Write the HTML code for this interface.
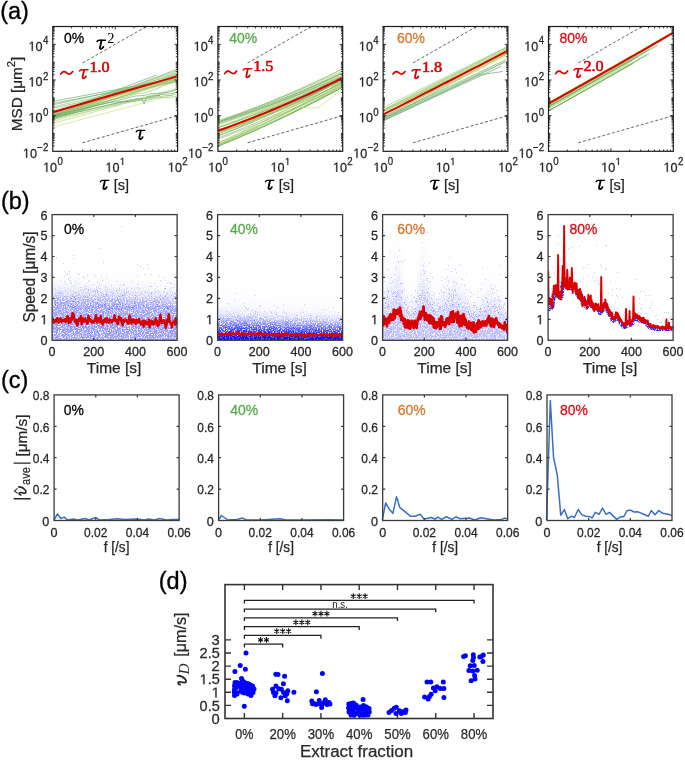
<!DOCTYPE html>
<html><head><meta charset="utf-8"><style>
html,body{margin:0;padding:0;background:#fff;}
svg{display:block;font-family:"Liberation Sans",sans-serif;}
</style></head><body>
<svg width="685" height="760" viewBox="0 0 685 760">
<rect width="685" height="760" fill="#fff"/>
<g style="will-change:transform">
<text x="0.2" y="19.2" font-size="23.5" fill="#000" stroke="#000" stroke-width="0.35">(a)</text>
<text x="0.9" y="208.8" font-size="23.5" fill="#000" stroke="#000" stroke-width="0.35">(b)</text>
<text x="0.9" y="388.1" font-size="23.5" fill="#000" stroke="#000" stroke-width="0.35">(c)</text>
<text x="158.8" y="588.7" font-size="23.5" fill="#000" stroke="#000" stroke-width="0.35">(d)</text>
<g clip-path="url(#ca0)">
<path d="M52.8 101.29 55.46 100.8 58.11 100.3 60.77 99.81 63.42 99.32 66.08 98.82 68.73 98.33 71.39 97.84 74.04 97.34 76.7 96.85 79.35 96.36 82.01 95.86 84.66 95.37 87.32 94.88 89.97 94.38 92.63 93.89 95.29 93.4 97.94 92.9 100.6 92.41 103.25 91.92 105.91 91.42 108.56 90.93 111.22 90.44 113.87 89.94 116.53 89.45 119.18 88.95 121.84 88.46 124.49 87.97 127.15 87.47 129.8 86.98 132.46 86.49 135.11 85.99 137.77 85.5 140.43 85.01 143.08 84.51 145.74 84.02 148.39 83.53 151.05 83.03 153.7 82.54 156.36 82.05 159.01 81.55 161.67 81.06 164.32 80.57 166.98 80.07 169.63 79.58 172.29 79.09 174.94 78.59 177.6 78.1" fill="none" stroke="#5da162" stroke-width="0.75" stroke-linejoin="round" opacity="0.85"/>
<path d="M52.8 103.29 55.46 102.8 58.11 102.3 60.77 101.81 63.42 101.32 66.08 100.82 68.73 100.33 71.39 99.84 74.04 99.34 76.7 98.85 79.35 98.36 82.01 97.86 84.66 97.37 87.32 96.88 89.97 96.38 92.63 95.89 95.29 95.4 97.94 94.9 100.6 94.41 103.25 93.92 105.91 93.42 108.56 92.93 111.22 92.44 113.87 91.94 116.53 91.45 119.18 90.95 121.84 90.46 124.49 89.97 127.15 89.47 129.8 88.98 132.46 88.49 135.11 87.99 137.77 87.5 140.43 87.01 143.08 86.51 145.74 86.02 148.39 85.53 151.05 85.03 153.7 84.54 156.36 84.05 159.01 83.55 161.67 83.06 164.32 82.57 166.98 82.07 169.63 81.58 172.29 81.09 174.94 80.59 177.6 80.1" fill="none" stroke="#70ac65" stroke-width="0.75" stroke-linejoin="round" opacity="0.85"/>
<path d="M52.8 104.79 55.46 104.2 58.11 103.61 60.77 103.02 63.42 102.43 66.08 101.85 68.73 101.26 71.39 100.67 74.04 100.08 76.7 99.49 79.35 98.9 82.01 98.31 84.66 97.72 87.32 97.13 89.97 96.54 92.63 95.95 95.29 95.36 97.94 94.77 100.6 94.19 103.25 93.6 105.91 93.01 108.56 92.42 111.22 91.83 113.87 91.24 116.53 90.65 119.18 90.06 121.84 89.47 124.49 88.88 127.15 88.29 129.8 87.7 132.46 87.12 135.11 86.53 137.77 85.94 140.43 85.35 143.08 84.76 145.74 84.17 148.39 83.58 151.05 82.99 153.7 82.4 156.36 81.81 159.01 81.22 161.67 80.63 164.32 80.05 166.98 79.46 169.63 78.87 172.29 78.28 174.94 77.69 177.6 77.1" fill="none" stroke="#66a663" stroke-width="0.75" stroke-linejoin="round" opacity="0.85"/>
<path d="M52.8 106.79 55.46 106.2 58.11 105.61 60.77 105.02 63.42 104.43 66.08 103.85 68.73 103.26 71.39 102.67 74.04 102.08 76.7 101.49 79.35 100.9 82.01 100.31 84.66 99.72 87.32 99.13 89.97 98.54 92.63 97.95 95.29 97.36 97.94 96.77 100.6 96.19 103.25 95.6 105.91 95.01 108.56 94.42 111.22 93.83 113.87 93.24 116.53 92.65 119.18 92.06 121.84 91.47 124.49 90.88 127.15 90.29 129.8 89.7 132.46 89.12 135.11 88.53 137.77 87.94 140.43 87.35 143.08 86.76 145.74 86.17 148.39 85.58 151.05 84.99 153.7 84.4 156.36 83.81 159.01 83.22 161.67 82.63 164.32 82.05 166.98 81.46 169.63 80.87 172.29 80.28 174.94 79.69 177.6 79.1" fill="none" stroke="#89bc69" stroke-width="0.75" stroke-linejoin="round" opacity="0.85"/>
<path d="M52.8 108.29 55.46 107.71 58.11 107.13 60.77 106.56 63.42 105.98 66.08 105.4 68.73 104.82 71.39 104.24 74.04 103.66 76.7 103.08 79.35 102.51 82.01 101.93 84.66 101.35 87.32 100.77 89.97 100.19 92.63 99.61 95.29 99.03 97.94 98.46 100.6 97.88 103.25 97.3 105.91 96.72 108.56 96.14 111.22 95.56 113.87 94.98 116.53 94.41 119.18 93.83 121.84 93.25 124.49 92.67 127.15 92.09 129.8 91.51 132.46 90.93 135.11 90.36 137.77 89.78 140.43 89.2 143.08 88.62 145.74 88.04 148.39 87.46 151.05 86.88 153.7 86.31 156.36 85.73 159.01 85.15 161.67 84.57 164.32 83.99 166.98 83.41 169.63 82.83 172.29 82.26 174.94 81.68 177.6 81.1" fill="none" stroke="#76b066" stroke-width="0.75" stroke-linejoin="round" opacity="0.85"/>
<path d="M52.8 114.29 55.01 113.46 57.22 112.62 59.43 111.78 61.64 110.95 63.85 110.11 66.06 109.28 68.27 108.44 70.48 107.6 72.69 106.77 74.91 105.93 77.12 105.1 79.33 104.26 81.54 103.42 83.75 102.59 85.96 101.75 88.17 100.92 90.38 100.08 92.59 99.24 94.8 98.41 97.01 97.57 99.22 96.74 101.43 95.9 103.64 95.07 105.85 94.23 108.06 93.39 110.27 92.56 112.48 91.72 114.7 90.89 116.91 90.05 119.12 89.21 121.33 88.38 123.54 87.54 125.75 86.71 127.96 85.87 130.17 85.03 132.38 84.2 134.59 83.36 136.8 82.53 139.01 81.69 141.22 80.86 143.43 80.02 145.64 79.18 147.85 78.35 150.06 77.51 152.27 76.68 154.49 75.84 156.7 75" fill="none" stroke="#5a9f61" stroke-width="0.75" stroke-linejoin="round" opacity="0.85"/>
<path d="M52.8 116.29 55.46 115.29 58.11 114.28 60.77 113.28 63.42 112.27 66.08 111.27 68.73 110.27 71.39 109.26 74.04 108.26 76.7 107.25 79.35 106.25 82.01 105.25 84.66 104.24 87.32 103.24 89.97 102.23 92.63 101.23 95.29 100.23 97.94 99.22 100.6 98.22 103.25 97.21 105.91 96.21 108.56 95.21 111.22 94.2 113.87 93.2 116.53 92.19 119.18 91.19 121.84 90.18 124.49 89.18 127.15 88.18 129.8 87.17 132.46 86.17 135.11 85.16 137.77 84.16 140.43 83.16 143.08 82.15 145.74 81.15 148.39 80.14 151.05 79.14 153.7 78.14 156.36 77.13 159.01 76.13 161.67 75.12 164.32 74.12 166.98 73.12 169.63 72.11 172.29 71.11 174.94 70.1 177.6 69.1" fill="none" stroke="#64a563" stroke-width="0.75" stroke-linejoin="round" opacity="0.85"/>
<path d="M52.8 115.29 55.46 114.34 58.11 113.39 60.77 112.44 63.42 111.49 66.08 110.54 68.73 109.59 71.39 108.63 74.04 107.68 76.7 106.73 79.35 105.78 82.01 104.83 84.66 103.88 87.32 102.93 89.97 101.98 92.63 101.03 95.29 100.08 97.94 99.13 100.6 98.18 103.25 97.22 105.91 96.27 108.56 95.32 111.22 94.37 113.87 93.42 116.53 92.47 119.18 91.52 121.84 90.57 124.49 89.62 127.15 88.67 129.8 87.72 132.46 86.76 135.11 85.81 137.77 84.86 140.43 83.91 143.08 82.96 145.74 82.01 148.39 81.06 151.05 80.11 153.7 79.16 156.36 78.21 159.01 77.26 161.67 76.3 164.32 75.35 166.98 74.4 169.63 73.45 172.29 72.5 174.94 71.55 177.6 70.6" fill="none" stroke="#70ac65" stroke-width="0.75" stroke-linejoin="round" opacity="0.85"/>
<path d="M52.8 117.29 55.46 116.33 58.11 115.37 60.77 114.41 63.42 113.44 66.08 112.48 68.73 111.52 71.39 110.56 74.04 109.6 76.7 108.64 79.35 107.68 82.01 106.71 84.66 105.75 87.32 104.79 89.97 103.83 92.63 102.87 95.29 101.91 97.94 100.95 100.6 99.98 103.25 99.02 105.91 98.06 108.56 97.1 111.22 96.14 113.87 95.18 116.53 94.21 119.18 93.25 121.84 92.29 124.49 91.33 127.15 90.37 129.8 89.41 132.46 88.45 135.11 87.48 137.77 86.52 140.43 85.56 143.08 84.6 145.74 83.64 148.39 82.68 151.05 81.71 153.7 80.75 156.36 79.79 159.01 78.83 161.67 77.87 164.32 76.91 166.98 75.95 169.63 74.98 172.29 74.02 174.94 73.06 177.6 72.1" fill="none" stroke="#83b868" stroke-width="0.75" stroke-linejoin="round" opacity="0.85"/>
<path d="M52.8 113.29 55.46 112.44 58.11 111.58 60.77 110.73 63.42 109.87 66.08 109.02 68.73 108.16 71.39 107.31 74.04 106.45 76.7 105.59 79.35 104.74 82.01 103.88 84.66 103.03 87.32 102.17 89.97 101.32 92.63 100.46 95.29 99.61 97.94 98.75 100.6 97.9 103.25 97.04 105.91 96.19 108.56 95.33 111.22 94.48 113.87 93.62 116.53 92.77 119.18 91.91 121.84 91.06 124.49 90.2 127.15 89.35 129.8 88.49 132.46 87.64 135.11 86.78 137.77 85.93 140.43 85.07 143.08 84.22 145.74 83.36 148.39 82.51 151.05 81.65 153.7 80.8 156.36 79.94 159.01 79.09 161.67 78.23 164.32 77.37 166.98 76.52 169.63 75.66 172.29 74.81 174.94 73.95 177.6 73.1" fill="none" stroke="#96c36b" stroke-width="0.75" stroke-linejoin="round" opacity="0.85"/>
<path d="M52.8 118.29 55.46 117.35 58.11 116.41 60.77 115.47 63.42 114.53 66.08 113.59 68.73 112.65 71.39 111.71 74.04 110.77 76.7 109.83 79.35 108.89 82.01 107.95 84.66 107.01 87.32 106.07 89.97 105.13 92.63 104.19 95.29 103.25 97.94 102.31 100.6 101.37 103.25 100.43 105.91 99.49 108.56 98.55 111.22 97.61 113.87 96.67 116.53 95.72 119.18 94.78 121.84 93.84 124.49 92.9 127.15 91.96 129.8 91.02 132.46 90.08 135.11 89.14 137.77 88.2 140.43 87.26 143.08 86.32 145.74 85.38 148.39 84.44 151.05 83.5 153.7 82.56 156.36 81.62 159.01 80.68 161.67 79.74 164.32 78.8 166.98 77.86 169.63 76.92 172.29 75.98 174.94 75.04 177.6 74.1" fill="none" stroke="#6aa964" stroke-width="0.75" stroke-linejoin="round" opacity="0.85"/>
<path d="M52.8 127.19 55.46 126.48 58.11 125.77 60.77 125.07 63.42 124.36 66.08 123.65 68.73 122.94 71.39 122.23 74.04 121.52 76.7 120.82 79.35 120.11 82.01 119.4 84.66 118.69 87.32 117.98 89.97 117.27 92.63 116.57 95.29 115.86 97.94 115.15 100.6 114.44 103.25 113.73 105.91 113.02 108.56 112.32 111.22 111.61 113.87 110.9 116.53 110.19 119.18 109.48 121.84 108.77 124.49 108.07 127.15 107.36 129.8 106.65 132.46 105.94 135.11 105.23 137.77 104.52 140.43 103.82 143.08 103.11 145.74 102.4 148.39 101.69 151.05 100.98 153.7 100.27 156.36 99.57 159.01 98.86 161.67 98.15 164.32 97.44 166.98 96.73 169.63 96.02 172.29 95.32 174.94 94.61 177.6 93.9" fill="none" stroke="#c4df72" stroke-width="0.75" stroke-linejoin="round" opacity="0.85"/>
<path d="M52.8 123.29 55.46 122.56 58.11 121.84 60.77 121.11 63.42 120.38 66.08 119.65 68.73 118.93 71.39 118.2 74.04 117.47 76.7 116.74 79.35 116.02 82.01 115.29 84.66 114.56 87.32 113.83 89.97 113.11 92.63 112.38 95.29 111.65 97.94 110.92 100.6 110.2 103.25 109.47 105.91 108.74 108.56 108.01 111.22 107.29 113.87 106.56 116.53 105.83 119.18 105.1 121.84 104.38 124.49 103.65 127.15 102.92 129.8 102.19 132.46 101.47 135.11 100.74 137.77 100.01 140.43 99.28 143.08 98.56 145.74 97.83 148.39 97.1 151.05 96.37 153.7 95.65 156.36 94.92 159.01 94.19 161.67 93.46 164.32 92.74 166.98 92.01 169.63 91.28 172.29 90.55 174.94 89.83 177.6 89.1" fill="none" stroke="#afd26f" stroke-width="0.75" stroke-linejoin="round" opacity="0.85"/>
<path d="M52.8 121.29 55.46 120.58 58.11 119.88 60.77 119.17 63.42 118.47 66.08 117.76 68.73 117.05 71.39 116.35 74.04 115.64 76.7 114.94 79.35 114.23 82.01 113.52 84.66 112.82 87.32 112.11 89.97 111.4 92.63 110.7 95.29 109.99 97.94 109.29 100.6 108.58 103.25 107.87 105.91 107.17 108.56 106.46 111.22 105.75 113.87 105.05 116.53 104.34 119.18 103.64 121.84 102.93 124.49 102.22 127.15 101.52 129.8 100.81 132.46 100.1 135.11 99.4 137.77 98.69 140.43 97.99 143.08 97.28 145.74 96.57 148.39 95.87 151.05 95.16 153.7 94.46 156.36 93.75 159.01 93.04 161.67 92.34 164.32 91.63 166.98 90.92 169.63 90.22 172.29 89.51 174.94 88.81 177.6 88.1" fill="none" stroke="#bbda71" stroke-width="0.75" stroke-linejoin="round" opacity="0.85"/>
<path d="M52.8 118.64 55.46 117.79 58.11 116.94 60.77 116.08 63.42 115.23 66.08 114.38 68.73 113.53 71.39 112.67 74.04 111.82 76.7 110.97 79.35 110.12 82.01 109.27 84.66 108.41 87.32 107.56 89.97 106.71 92.63 105.86 95.29 105 97.94 104.15 100.6 103.3 103.25 102.45 105.91 101.6 108.56 100.74 111.22 99.89 113.87 99.04 116.53 98.19 119.18 97.33 121.84 96.48 124.49 95.63 127.15 94.78 129.8 93.92 132.46 93.07 135.11 92.22 137.77 91.37 140.43 90.52 143.08 89.66 145.74 88.81 148.39 87.96 151.05 87.11 153.7 86.25 156.36 85.4 159.01 84.55 161.67 83.7 164.32 82.84 166.98 81.99 169.63 81.14 172.29 80.29 174.94 79.44 177.6 78.58" fill="none" stroke="#97c46b" stroke-width="0.75" stroke-linejoin="round" opacity="0.85"/>
<path d="M52.8 110.72 55.46 109.93 58.11 109.15 60.77 108.36 63.42 107.57 66.08 106.78 68.73 106 71.39 105.21 74.04 104.42 76.7 103.63 79.35 102.84 82.01 102.06 84.66 101.27 87.32 100.48 89.97 99.69 92.63 98.91 95.29 98.12 97.94 97.33 100.6 96.54 103.25 95.76 105.91 94.97 108.56 94.18 111.22 93.39 113.87 92.61 116.53 91.82 119.18 91.03 121.84 90.24 124.49 89.46 127.15 88.67 129.8 87.88 132.46 87.09 135.11 86.31 137.77 85.52 140.43 84.73 143.08 83.94 145.74 83.16 148.39 82.37 151.05 81.58 153.7 80.79 156.36 80.01 159.01 79.22 161.67 78.43 164.32 77.64 166.98 76.86 169.63 76.07 172.29 75.28 174.94 74.49 177.6 73.71" fill="none" stroke="#acd16e" stroke-width="0.75" stroke-linejoin="round" opacity="0.85"/>
<path d="M52.8 118.19 55.46 117.37 58.11 116.54 60.77 115.71 63.42 114.88 66.08 114.05 68.73 113.23 71.39 112.4 74.04 111.57 76.7 110.74 79.35 109.91 82.01 109.09 84.66 108.26 87.32 107.43 89.97 106.6 92.63 105.77 95.29 104.95 97.94 104.12 100.6 103.29 103.25 102.46 105.91 101.63 108.56 100.81 111.22 99.98 113.87 99.15 116.53 98.32 119.18 97.49 121.84 96.67 124.49 95.84 127.15 95.01 129.8 94.18 132.46 93.36 135.11 92.53 137.77 91.7 140.43 90.87 143.08 90.04 145.74 89.22 148.39 88.39 151.05 87.56 153.7 86.73 156.36 85.9 159.01 85.08 161.67 84.25 164.32 83.42 166.98 82.59 169.63 81.76 172.29 80.94 174.94 80.11 177.6 79.28" fill="none" stroke="#b2d46f" stroke-width="0.75" stroke-linejoin="round" opacity="0.85"/>
<path d="M52.8 112.19 55.46 111.52 58.11 110.84 60.77 110.17 63.42 109.5 66.08 108.83 68.73 108.15 71.39 107.48 74.04 106.81 76.7 106.13 79.35 105.46 82.01 104.79 84.66 104.11 87.32 103.44 89.97 102.77 92.63 102.09 95.29 101.42 97.94 100.75 100.6 100.08 103.25 99.4 105.91 98.73 108.56 98.06 111.22 97.38 113.87 96.71 116.53 96.04 119.18 95.36 121.84 94.69 124.49 94.02 127.15 93.34 129.8 92.67 132.46 92 135.11 91.32 137.77 90.65 140.43 89.98 143.08 89.31 145.74 88.63 148.39 87.96 151.05 87.29 153.7 86.61 156.36 85.94 159.01 85.27 161.67 84.59 164.32 83.92 166.98 83.25 169.63 82.57 172.29 81.9 174.94 81.23 177.6 80.56" fill="none" stroke="#96c46b" stroke-width="0.75" stroke-linejoin="round" opacity="0.85"/>
<path d="M52.8 116.58 55.46 115.82 58.11 115.07 60.77 114.31 63.42 113.55 66.08 112.79 68.73 112.03 71.39 111.27 74.04 110.51 76.7 109.75 79.35 108.99 82.01 108.23 84.66 107.47 87.32 106.71 89.97 105.95 92.63 105.19 95.29 104.43 97.94 103.68 100.6 102.92 103.25 102.16 105.91 101.4 108.56 100.64 111.22 99.88 113.87 99.12 116.53 98.36 119.18 97.6 121.84 96.84 124.49 96.08 127.15 95.32 129.8 94.56 132.46 93.8 135.11 93.04 137.77 92.29 140.43 91.53 143.08 90.77 145.74 90.01 148.39 89.25 151.05 88.49 153.7 87.73 156.36 86.97 159.01 86.21 161.67 85.45 164.32 84.69 166.98 83.93 169.63 83.17 172.29 82.41 174.94 81.65 177.6 80.9" fill="none" stroke="#acd16e" stroke-width="0.75" stroke-linejoin="round" opacity="0.85"/>
<path d="M52.8 115.64 55.46 114.79 58.11 113.94 60.77 113.1 63.42 112.25 66.08 111.4 68.73 110.55 71.39 109.7 74.04 108.85 76.7 108 79.35 107.15 82.01 106.3 84.66 105.45 87.32 104.6 89.97 103.75 92.63 102.9 95.29 102.05 97.94 101.21 100.6 100.36 103.25 99.51 105.91 98.66 108.56 97.81 111.22 96.96 113.87 96.11 116.53 95.26 119.18 94.41 121.84 93.56 124.49 92.71 127.15 91.86 129.8 91.01 132.46 90.16 135.11 89.32 137.77 88.47 140.43 87.62 143.08 86.77 145.74 85.92 148.39 85.07 151.05 84.22 153.7 83.37 156.36 82.52 159.01 81.67 161.67 80.82 164.32 79.97 166.98 79.12 169.63 78.27 172.29 77.43 174.94 76.58 177.6 75.73" fill="none" stroke="#a5cd6d" stroke-width="0.75" stroke-linejoin="round" opacity="0.85"/>
<path d="M52.8 118 55.46 117.06 58.11 116.13 60.77 115.19 63.42 114.25 66.08 113.31 68.73 112.38 71.39 111.44 74.04 110.5 76.7 109.57 79.35 108.63 82.01 107.69 84.66 106.75 87.32 105.82 89.97 104.88 92.63 103.94 95.29 103.01 97.94 102.07 100.6 101.13 103.25 100.19 105.91 99.26 108.56 98.32 111.22 97.38 113.87 96.44 116.53 95.51 119.18 94.57 121.84 93.63 124.49 92.7 127.15 91.76 129.8 90.82 132.46 89.88 135.11 88.95 137.77 88.01 140.43 87.07 143.08 86.13 145.74 85.2 148.39 84.26 151.05 83.32 153.7 82.39 156.36 81.45 159.01 80.51 161.67 79.57 164.32 78.64 166.98 77.7 169.63 76.76 172.29 75.82 174.94 74.89 177.6 73.95" fill="none" stroke="#c7e172" stroke-width="0.75" stroke-linejoin="round" opacity="0.85"/>
<path d="M52.8 120.08 55.46 119.18 58.11 118.29 60.77 117.39 63.42 116.49 66.08 115.6 68.73 114.7 71.39 113.81 74.04 112.91 76.7 112.01 79.35 111.12 82.01 110.22 84.66 109.33 87.32 108.43 89.97 107.54 92.63 106.64 95.29 105.74 97.94 104.85 100.6 103.95 103.25 103.06 105.91 102.16 108.56 101.26 111.22 100.37 113.87 99.47 116.53 98.58 119.18 97.68 121.84 96.79 124.49 95.89 127.15 94.99 129.8 94.1 132.46 93.2 135.11 92.31 137.77 91.41 140.43 90.51 143.08 89.62 145.74 88.72 148.39 87.83 151.05 86.93 153.7 86.04 156.36 85.14 159.01 84.24 161.67 83.35 164.32 82.45 166.98 81.56 169.63 80.66 172.29 79.76 174.94 78.87 177.6 77.97" fill="none" stroke="#99c56b" stroke-width="0.75" stroke-linejoin="round" opacity="0.85"/>
<path d="M52.8 118.91 55.46 118.02 58.11 117.12 60.77 116.23 63.42 115.34 66.08 114.44 68.73 113.55 71.39 112.65 74.04 111.76 76.7 110.86 79.35 109.97 82.01 109.08 84.66 108.18 87.32 107.29 89.97 106.39 92.63 105.5 95.29 104.6 97.94 103.71 100.6 102.81 103.25 101.92 105.91 101.03 108.56 100.13 111.22 99.24 113.87 98.34 116.53 97.45 119.18 96.55 121.84 95.66 124.49 94.77 127.15 93.87 129.8 92.98 132.46 92.08 135.11 91.19 137.77 90.29 140.43 89.4 143.08 88.51 145.74 87.61 148.39 86.72 151.05 85.82 153.7 84.93 156.36 84.03 159.01 83.14 161.67 82.25 164.32 81.35 166.98 80.46 169.63 79.56 172.29 78.67 174.94 77.77 177.6 76.88" fill="none" stroke="#b2d56f" stroke-width="0.75" stroke-linejoin="round" opacity="0.85"/>
<path d="M52.8 114.38 55.46 113.59 58.11 112.8 60.77 112.01 63.42 111.22 66.08 110.43 68.73 109.64 71.39 108.85 74.04 108.06 76.7 107.27 79.35 106.48 82.01 105.69 84.66 104.9 87.32 104.11 89.97 103.32 92.63 102.53 95.29 101.74 97.94 100.95 100.6 100.16 103.25 99.37 105.91 98.59 108.56 97.8 111.22 97.01 113.87 96.22 116.53 95.43 119.18 94.64 121.84 93.85 124.49 93.06 127.15 92.27 129.8 91.48 132.46 90.69 135.11 89.9 137.77 89.11 140.43 88.32 143.08 87.53 145.74 86.74 148.39 85.95 151.05 85.16 153.7 84.37 156.36 83.58 159.01 82.79 161.67 82 164.32 81.22 166.98 80.43 169.63 79.64 172.29 78.85 174.94 78.06 177.6 77.27" fill="none" stroke="#8cbd69" stroke-width="0.75" stroke-linejoin="round" opacity="0.85"/>
<path d="M52.8 116.55 55.46 115.66 58.11 114.78 60.77 113.9 63.42 113.02 66.08 112.14 68.73 111.26 71.39 110.38 74.04 109.5 76.7 108.61 79.35 107.73 82.01 106.85 84.66 105.97 87.32 105.09 89.97 104.21 92.63 103.33 95.29 102.44 97.94 101.56 100.6 100.68 103.25 99.8 105.91 98.92 108.56 98.04 111.22 97.16 113.87 96.27 116.53 95.39 119.18 94.51 121.84 93.63 124.49 92.75 127.15 91.87 129.8 90.99 132.46 90.1 135.11 89.22 137.77 88.34 140.43 87.46 143.08 86.58 145.74 85.7 148.39 84.82 151.05 83.94 153.7 83.05 156.36 82.17 159.01 81.29 161.67 80.41 164.32 79.53 166.98 78.65 169.63 77.77 172.29 76.88 174.94 76 177.6 75.12" fill="none" stroke="#96c36b" stroke-width="0.75" stroke-linejoin="round" opacity="0.85"/>
<path d="M52.8 116.79 55.46 116.12 58.11 115.44 60.77 114.77 63.42 114.09 66.08 113.42 68.73 112.75 71.39 112.07 74.04 111.4 76.7 110.72 79.35 110.05 82.01 109.37 84.66 108.7 87.32 108.03 89.97 107.35 92.63 106.68 95.29 106 97.94 105.33 100.6 104.65 103.25 103.98 105.91 103.31 108.56 102.63 111.22 101.96 113.87 101.28 116.53 100.61 119.18 99.93 121.84 99.32 124.49 98.84 127.15 98.15 129.8 97.43 132.46 96.55 135.11 96.09 137.77 95.77 140.43 95.8 143.08 95.38 145.74 94.99 148.39 94.25 151.05 93.72 153.7 93.42 156.36 93.49 159.01 93.35 161.67 93.06 164.32 92.65 166.98 92.36 169.63 91.87 172.29 91.06 174.94 90.32 177.6 88.37" fill="none" stroke="#64a563" stroke-width="0.75" stroke-linejoin="round" opacity="0.85"/>
<path d="M52.8 115.29 55.08 114.78 57.37 114.26 59.65 113.74 61.93 113.23 64.22 112.71 66.5 112.2 68.79 111.68 71.07 111.16 73.35 110.65 75.64 110.13 77.92 109.62 80.2 109.1 82.49 108.58 84.77 108.07 87.05 107.55 89.34 107.04 91.62 106.52 93.9 106.01 96.19 105.49 98.47 104.97 100.76 104.46 103.04 103.94 105.32 103.43 107.61 102.91 109.89 102.51 112.17 102.21 114.46 101.92 116.74 101.87 119.02 101.73 121.31 101.5 123.59 101.18 125.87 100.8 128.16 100.39 130.44 99.78 132.73 99.29 135.01 99.04 137.29 98.92 139.58 98.87 141.86 98.38 144.14 103.8 146.43 97.1 148.71 96.67 150.99 96.18 153.28 95.85 155.56 95.67 157.84 95.65 160.13 95.17" fill="none" stroke="#5da162" stroke-width="0.75" stroke-linejoin="round" opacity="0.85"/>
<path d="M52.8 118.29 55.39 117.66 57.98 117.04 60.57 116.41 63.16 115.79 65.74 115.16 68.33 114.53 70.92 113.91 73.51 113.28 76.1 112.65 78.69 112.03 81.28 111.4 83.87 110.78 86.46 110.15 89.05 109.52 91.63 108.9 94.22 108.27 96.81 107.64 99.4 107.02 101.99 106.39 104.58 105.76 107.17 105.14 109.76 104.51 112.35 103.89 114.93 103.26 117.52 102.63 120.11 102.01 122.7 101.9 125.29 101.72 127.88 101.17 130.47 100.96 133.06 101.05 135.65 101.07 138.23 100.78 140.82 100.49 143.41 100.5 146 100.33 148.59 99.92 151.18 99.01 153.77 98.13 156.36 97.24 158.95 96.84 161.54 96.44 164.12 95.96 166.71 95.62 169.3 95.49 171.89 95.35 174.48 92.88" fill="none" stroke="#76b066" stroke-width="0.75" stroke-linejoin="round" opacity="0.85"/>
<path d="M52.8 114.29 55.46 113.65 58.11 113.01 60.77 112.36 63.42 111.72 66.08 111.08 68.73 110.44 71.39 109.79 74.04 109.15 76.7 108.51 79.35 107.87 82.01 107.22 84.66 106.58 87.32 105.94 89.97 105.3 92.63 104.66 95.29 104.01 97.94 103.37 100.6 102.73 103.25 102.09 105.91 101.44 108.56 100.8 111.22 100.16 113.87 99.52 116.53 98.87 119.18 98.23 121.84 97.73 124.49 97.54 127.15 96.64 129.8 95.86 132.46 95.07 135.11 94.14 137.77 93.72 140.43 93.28 143.08 93.11 145.74 92.57 148.39 91.72 151.05 90.91 153.7 89.73 156.36 88.8 159.01 87.81 161.67 86.61 164.32 85.44 166.98 84.4 169.63 83.63 172.29 82.98 174.94 82.24 177.6 84.23" fill="none" stroke="#8fbf6a" stroke-width="0.75" stroke-linejoin="round" opacity="0.85"/>
<path d="M52.8 117.29 55.46 116.71 58.11 116.13 60.77 115.56 63.42 114.98 66.08 114.4 68.73 113.82 71.39 113.24 74.04 112.66 76.7 112.08 79.35 111.51 82.01 110.93 84.66 110.35 87.32 109.77 89.97 109.19 92.63 108.61 95.29 108.03 97.94 107.46 100.6 106.88 103.25 106.3 105.91 105.72 108.56 105.14 111.22 104.56 113.87 103.98 116.53 103.41 119.18 102.83 121.84 102.29 124.49 101.78 127.15 101.59 129.8 101.4 132.46 101.06 135.11 100.26 137.77 99.46 140.43 98.93 143.08 98.39 145.74 98.08 148.39 97.71 151.05 97.31 153.7 96.58 156.36 95.89 159.01 95.16 161.67 94.54 164.32 94.2 166.98 94 169.63 93.81 172.29 93.33 174.94 92.73 177.6 90.66" fill="none" stroke="#579d61" stroke-width="0.75" stroke-linejoin="round" opacity="0.85"/>
<path d="M52.8 119.29 55.46 118.69 58.11 118.09 60.77 117.49 63.42 116.89 66.08 116.29 68.73 115.69 71.39 115.09 74.04 114.49 76.7 113.89 79.35 113.29 82.01 112.69 84.66 112.09 87.32 111.49 89.97 110.89 92.63 110.29 95.29 109.69 97.94 109.09 100.6 108.49 103.25 107.89 105.91 107.29 108.56 106.69 111.22 106.09 113.87 105.5 116.53 104.9 119.18 104.3 121.84 103.27 124.49 102.78 127.15 102.36 129.8 101.69 132.46 100.89 135.11 99.98 137.77 99.5 140.43 99.22 143.08 98.99 145.74 98.82 148.39 98.44 151.05 98.21 153.7 98 156.36 97.98 159.01 97.87 161.67 97.53 164.32 97.55 166.98 97.57 169.63 97.64 172.29 97.04 174.94 96.58 177.6 95.51" fill="none" stroke="#96c36b" stroke-width="0.75" stroke-linejoin="round" opacity="0.85"/>
<path d="M52.8 112.29 57.1 111.04 61.41 109.8 65.71 108.55 70.01 107.3 74.32 106.05 78.62 104.8 82.92 103.56 87.23 102.31 91.53 101.06 95.83 99.81 100.14 98.56 104.44 97.32 108.74 96.07 113.05 94.82 117.35 93.57 121.66 92.32 125.96 91.08 130.26 89.83 134.57 88.58 138.87 87.33 143.17 86.08 147.48 84.84 151.78 83.59 156.08 82.34 160.39 81.09 164.69 79.84 168.99 78.6 173.3 77.35 177.6 76.1" fill="none" stroke="#d80000" stroke-width="2" stroke-linejoin="round" />
<line x1="82.57" y1="62.97" x2="177.6" y2="8.67" stroke="#555" stroke-width="0.9" stroke-dasharray="3 2"/>
<line x1="82.57" y1="142.79" x2="177.6" y2="115.64" stroke="#555" stroke-width="0.9" stroke-dasharray="3 2"/>
</g>
<rect x="52.8" y="26.5" width="124.8" height="124.8" fill="none" stroke="#1c1c1c" stroke-width="1.2"/>
<path d="M71.58 151.3v-1.8M71.58 26.5v1.8M82.57 151.3v-1.8M82.57 26.5v1.8M90.37 151.3v-1.8M90.37 26.5v1.8M96.42 151.3v-1.8M96.42 26.5v1.8M101.36 151.3v-1.8M101.36 26.5v1.8M105.53 151.3v-1.8M105.53 26.5v1.8M109.15 151.3v-1.8M109.15 26.5v1.8M112.34 151.3v-1.8M112.34 26.5v1.8M115.2 151.3v-3M115.2 26.5v3M133.98 151.3v-1.8M133.98 26.5v1.8M144.97 151.3v-1.8M144.97 26.5v1.8M152.77 151.3v-1.8M152.77 26.5v1.8M158.82 151.3v-1.8M158.82 26.5v1.8M163.76 151.3v-1.8M163.76 26.5v1.8M167.93 151.3v-1.8M167.93 26.5v1.8M171.55 151.3v-1.8M171.55 26.5v1.8M174.74 151.3v-1.8M174.74 26.5v1.8M52.8 145.93h1.8M177.6 145.93h-1.8M52.8 142.79h1.8M177.6 142.79h-1.8M52.8 140.57h1.8M177.6 140.57h-1.8M52.8 138.84h1.8M177.6 138.84h-1.8M52.8 137.43h1.8M177.6 137.43h-1.8M52.8 136.23h1.8M177.6 136.23h-1.8M52.8 135.2h1.8M177.6 135.2h-1.8M52.8 134.29h1.8M177.6 134.29h-1.8M52.8 133.47h1.8M177.6 133.47h-1.8M52.8 128.1h1.8M177.6 128.1h-1.8M52.8 124.97h1.8M177.6 124.97h-1.8M52.8 122.74h1.8M177.6 122.74h-1.8M52.8 121.01h1.8M177.6 121.01h-1.8M52.8 119.6h1.8M177.6 119.6h-1.8M52.8 118.4h1.8M177.6 118.4h-1.8M52.8 117.37h1.8M177.6 117.37h-1.8M52.8 116.46h1.8M177.6 116.46h-1.8M52.8 115.64h3M177.6 115.64h-3M52.8 110.28h1.8M177.6 110.28h-1.8M52.8 107.14h1.8M177.6 107.14h-1.8M52.8 104.91h1.8M177.6 104.91h-1.8M52.8 103.18h1.8M177.6 103.18h-1.8M52.8 101.77h1.8M177.6 101.77h-1.8M52.8 100.58h1.8M177.6 100.58h-1.8M52.8 99.54h1.8M177.6 99.54h-1.8M52.8 98.63h1.8M177.6 98.63h-1.8M52.8 97.81h1.8M177.6 97.81h-1.8M52.8 92.45h1.8M177.6 92.45h-1.8M52.8 89.31h1.8M177.6 89.31h-1.8M52.8 87.08h1.8M177.6 87.08h-1.8M52.8 85.35h1.8M177.6 85.35h-1.8M52.8 83.94h1.8M177.6 83.94h-1.8M52.8 82.75h1.8M177.6 82.75h-1.8M52.8 81.71h1.8M177.6 81.71h-1.8M52.8 80.8h1.8M177.6 80.8h-1.8M52.8 79.99h3M177.6 79.99h-3M52.8 74.62h1.8M177.6 74.62h-1.8M52.8 71.48h1.8M177.6 71.48h-1.8M52.8 69.25h1.8M177.6 69.25h-1.8M52.8 67.52h1.8M177.6 67.52h-1.8M52.8 66.11h1.8M177.6 66.11h-1.8M52.8 64.92h1.8M177.6 64.92h-1.8M52.8 63.88h1.8M177.6 63.88h-1.8M52.8 62.97h1.8M177.6 62.97h-1.8M52.8 62.16h1.8M177.6 62.16h-1.8M52.8 56.79h1.8M177.6 56.79h-1.8M52.8 53.65h1.8M177.6 53.65h-1.8M52.8 51.42h1.8M177.6 51.42h-1.8M52.8 49.7h1.8M177.6 49.7h-1.8M52.8 48.28h1.8M177.6 48.28h-1.8M52.8 47.09h1.8M177.6 47.09h-1.8M52.8 46.06h1.8M177.6 46.06h-1.8M52.8 45.14h1.8M177.6 45.14h-1.8M52.8 44.33h3M177.6 44.33h-3M52.8 38.96h1.8M177.6 38.96h-1.8M52.8 35.82h1.8M177.6 35.82h-1.8M52.8 33.59h1.8M177.6 33.59h-1.8M52.8 31.87h1.8M177.6 31.87h-1.8M52.8 30.46h1.8M177.6 30.46h-1.8M52.8 29.26h1.8M177.6 29.26h-1.8M52.8 28.23h1.8M177.6 28.23h-1.8M52.8 27.32h1.8M177.6 27.32h-1.8" stroke="#1c1c1c" stroke-width="0.9" fill="none"/>
<path d="M26.08 157.8 27.19 157.8 27.19 148.65 26.17 148.65 24.11 150.14 24.11 151.24 26.08 149.77z" fill="#262626" stroke="#262626" stroke-width="0.28" stroke-linejoin="round"/><text x="29.93" y="157.8" font-size="13.3" fill="#262626" stroke="#262626" stroke-width="0.28" textLength="7.03" lengthAdjust="spacingAndGlyphs" >0</text>
<text x="37.35" y="151.2" font-size="10.2" fill="#262626" stroke="#262626" stroke-width="0.28" textLength="11.05" lengthAdjust="spacingAndGlyphs" >−2</text>
<path d="M31.73 122.14 32.85 122.14 32.85 112.99 31.83 112.99 29.77 114.48 29.77 115.58 31.73 114.11z" fill="#262626" stroke="#262626" stroke-width="0.28" stroke-linejoin="round"/><text x="35.58" y="122.14" font-size="13.3" fill="#262626" stroke="#262626" stroke-width="0.28" textLength="7.03" lengthAdjust="spacingAndGlyphs" >0</text>
<text x="43.01" y="115.54" font-size="10.2" fill="#262626" stroke="#262626" stroke-width="0.28" textLength="5.39" lengthAdjust="spacingAndGlyphs" >0</text>
<path d="M31.73 86.49 32.85 86.49 32.85 77.34 31.83 77.34 29.77 78.82 29.77 79.93 31.73 78.45z" fill="#262626" stroke="#262626" stroke-width="0.28" stroke-linejoin="round"/><text x="35.58" y="86.49" font-size="13.3" fill="#262626" stroke="#262626" stroke-width="0.28" textLength="7.03" lengthAdjust="spacingAndGlyphs" >0</text>
<text x="43.01" y="79.89" font-size="10.2" fill="#262626" stroke="#262626" stroke-width="0.28" textLength="5.39" lengthAdjust="spacingAndGlyphs" >2</text>
<path d="M31.73 50.83 32.85 50.83 32.85 41.68 31.83 41.68 29.77 43.17 29.77 44.27 31.73 42.8z" fill="#262626" stroke="#262626" stroke-width="0.28" stroke-linejoin="round"/><text x="35.58" y="50.83" font-size="13.3" fill="#262626" stroke="#262626" stroke-width="0.28" textLength="7.03" lengthAdjust="spacingAndGlyphs" >0</text>
<text x="43.01" y="44.23" font-size="10.2" fill="#262626" stroke="#262626" stroke-width="0.28" textLength="5.39" lengthAdjust="spacingAndGlyphs" >4</text>
<path d="M46.26 171.8 47.37 171.8 47.37 162.65 46.35 162.65 44.29 164.14 44.29 165.24 46.26 163.77z" fill="#262626" stroke="#262626" stroke-width="0.28" stroke-linejoin="round"/><text x="50.11" y="171.8" font-size="13.3" fill="#262626" stroke="#262626" stroke-width="0.28" textLength="7.03" lengthAdjust="spacingAndGlyphs" >0</text>
<text x="57.43" y="164.9" font-size="10.2" fill="#262626" stroke="#262626" stroke-width="0.28" textLength="5.39" lengthAdjust="spacingAndGlyphs" >0</text>
<path d="M108.66 171.8 109.77 171.8 109.77 162.65 108.75 162.65 106.69 164.14 106.69 165.24 108.66 163.77z" fill="#262626" stroke="#262626" stroke-width="0.28" stroke-linejoin="round"/><text x="112.51" y="171.8" font-size="13.3" fill="#262626" stroke="#262626" stroke-width="0.28" textLength="7.03" lengthAdjust="spacingAndGlyphs" >0</text>
<path d="M122.27 164.9 123.13 164.9 123.13 157.88 122.34 157.88 120.76 159.02 120.76 159.87 122.27 158.74z" fill="#262626" stroke="#262626" stroke-width="0.28" stroke-linejoin="round"/>
<path d="M171.06 171.8 172.17 171.8 172.17 162.65 171.15 162.65 169.09 164.14 169.09 165.24 171.06 163.77z" fill="#262626" stroke="#262626" stroke-width="0.28" stroke-linejoin="round"/><text x="174.91" y="171.8" font-size="13.3" fill="#262626" stroke="#262626" stroke-width="0.28" textLength="7.03" lengthAdjust="spacingAndGlyphs" >0</text>
<text x="182.23" y="164.9" font-size="10.2" fill="#262626" stroke="#262626" stroke-width="0.28" textLength="5.39" lengthAdjust="spacingAndGlyphs" >2</text>
<path d="M100.4 181.8Q101 180.35 102.4 180.35L108.8 180.35" fill="none" stroke="#000" stroke-width="1.45" stroke-linecap="round"/><path d="M104.95 180.6L103.45 187.3Q103.1 189.15 104.55 189.05Q105.95 188.9 106.75 187.1" fill="none" stroke="#000" stroke-width="1.85" stroke-linecap="round"/>
<text x="113.7" y="189.6" font-size="14.5" fill="#262626" stroke="#262626" stroke-width="0.25">[s]</text>
<text x="64.1" y="42.9" font-size="14.6" fill="#000000" stroke="#000000" stroke-width="0.3" textLength="20.15" lengthAdjust="spacingAndGlyphs">0%</text>
<g clip-path="url(#ca1)">
<path d="M217.9 145.27 220.56 144.09 223.21 142.91 225.87 141.71 228.52 140.51 231.18 139.3 233.83 138.09 236.49 136.86 239.14 135.63 241.8 134.38 244.45 133.13 247.11 131.88 249.76 130.61 252.42 129.34 255.07 128.06 257.73 126.77 260.39 125.47 263.04 124.16 265.7 122.85 268.35 121.53 271.01 120.2 273.66 118.86 276.32 117.52 278.97 116.16 281.63 114.8 284.28 113.43 286.94 112.06 289.59 110.67 292.25 109.28 294.9 107.88 297.56 106.47 300.21 105.05 302.87 103.63 305.53 102.19 308.18 100.75 310.84 99.3 313.49 97.85 316.15 96.38 318.8 94.91 321.46 93.43 324.11 91.94 326.77 90.44 329.42 88.94 332.08 87.42 334.73 85.9 337.39 84.37 340.04 82.84 342.7 81.29" fill="none" stroke="#61a362" stroke-width="0.75" stroke-linejoin="round" opacity="0.85"/>
<path d="M217.9 127.74 220.56 126.84 223.21 125.92 225.87 125 228.52 124.06 231.18 123.13 233.83 122.18 236.49 121.22 239.14 120.26 241.8 119.29 244.45 118.31 247.11 117.32 249.76 116.32 252.42 115.32 255.07 114.31 257.73 113.29 260.39 112.26 263.04 111.23 265.7 110.18 268.35 109.13 271.01 108.07 273.66 107 276.32 105.93 278.97 104.85 281.63 103.75 284.28 102.66 286.94 101.55 289.59 100.43 292.25 99.31 294.9 98.18 297.56 97.04 300.21 95.89 302.87 94.74 305.53 93.57 308.18 92.4 310.84 91.22 313.49 90.04 316.15 88.84 318.8 87.64 321.46 86.43 324.11 85.21 326.77 83.98 329.42 82.75 332.08 81.51 334.73 80.26 337.39 79 340.04 77.73 342.7 76.46" fill="none" stroke="#589e61" stroke-width="0.75" stroke-linejoin="round" opacity="0.85"/>
<path d="M217.9 146.07 220.56 145 223.21 143.93 225.87 142.84 228.52 141.75 231.18 140.64 233.83 139.54 236.49 138.42 239.14 137.29 241.8 136.16 244.45 135.02 247.11 133.87 249.76 132.71 252.42 131.54 255.07 130.37 257.73 129.19 260.39 128 263.04 126.8 265.7 125.6 268.35 124.38 271.01 123.16 273.66 121.93 276.32 120.7 278.97 119.45 281.63 118.2 284.28 116.94 286.94 115.67 289.59 114.39 292.25 113.11 294.9 111.81 297.56 110.51 300.21 109.2 302.87 107.89 305.53 106.56 308.18 105.23 310.84 103.89 313.49 102.54 316.15 101.18 318.8 99.82 321.46 98.45 324.11 97.07 326.77 95.68 329.42 94.28 332.08 92.88 334.73 91.46 337.39 90.04 340.04 88.61 342.7 87.18" fill="none" stroke="#64a563" stroke-width="0.75" stroke-linejoin="round" opacity="0.85"/>
<path d="M217.9 132.52 220.56 131.53 223.21 130.54 225.87 129.54 228.52 128.53 231.18 127.52 233.83 126.5 236.49 125.47 239.14 124.43 241.8 123.38 244.45 122.32 247.11 121.26 249.76 120.19 252.42 119.11 255.07 118.02 257.73 116.93 260.39 115.83 263.04 114.72 265.7 113.6 268.35 112.47 271.01 111.33 273.66 110.19 276.32 109.04 278.97 107.88 281.63 106.72 284.28 105.54 286.94 104.36 289.59 103.17 292.25 101.97 294.9 100.76 297.56 99.55 300.21 98.33 302.87 97.1 305.53 95.86 308.18 94.61 310.84 93.36 313.49 92.09 316.15 90.82 318.8 89.54 321.46 88.26 324.11 86.96 326.77 85.66 329.42 84.35 332.08 83.03 334.73 81.71 337.39 80.37 340.04 79.03 342.7 77.68" fill="none" stroke="#60a362" stroke-width="0.75" stroke-linejoin="round" opacity="0.85"/>
<path d="M217.9 130.34 220.56 129.46 223.21 128.57 225.87 127.68 228.52 126.77 231.18 125.86 233.83 124.95 236.49 124.02 239.14 123.09 241.8 122.14 244.45 121.19 247.11 120.23 249.76 119.27 252.42 118.29 255.07 117.31 257.73 116.32 260.39 115.32 263.04 114.32 265.7 113.31 268.35 112.28 271.01 111.25 273.66 110.22 276.32 109.17 278.97 108.12 281.63 107.05 284.28 105.98 286.94 104.91 289.59 103.82 292.25 102.73 294.9 101.63 297.56 100.52 300.21 99.4 302.87 98.27 305.53 97.14 308.18 96 310.84 94.85 313.49 93.69 316.15 92.53 318.8 91.35 321.46 90.17 324.11 88.98 326.77 87.78 329.42 86.58 332.08 85.37 334.73 84.14 337.39 82.92 340.04 81.68 342.7 80.43" fill="none" stroke="#8abc69" stroke-width="0.75" stroke-linejoin="round" opacity="0.85"/>
<path d="M217.9 133.5 220.56 132.56 223.21 131.61 225.87 130.65 228.52 129.68 231.18 128.71 233.83 127.73 236.49 126.74 239.14 125.74 241.8 124.73 244.45 123.72 247.11 122.7 249.76 121.67 252.42 120.63 255.07 119.58 257.73 118.53 260.39 117.47 263.04 116.4 265.7 115.32 268.35 114.24 271.01 113.14 273.66 112.04 276.32 110.93 278.97 109.81 281.63 108.69 284.28 107.55 286.94 106.41 289.59 105.26 292.25 104.1 294.9 102.94 297.56 101.76 300.21 100.58 302.87 99.39 305.53 98.2 308.18 96.99 310.84 95.78 313.49 94.56 316.15 93.33 318.8 92.09 321.46 90.84 324.11 89.59 326.77 88.33 329.42 87.06 332.08 85.78 334.73 84.5 337.39 83.21 340.04 81.9 342.7 80.6" fill="none" stroke="#81b767" stroke-width="0.75" stroke-linejoin="round" opacity="0.85"/>
<path d="M217.9 142.5 220.56 141.46 223.21 140.41 225.87 139.35 228.52 138.28 231.18 137.21 233.83 136.12 236.49 135.03 239.14 133.93 241.8 132.82 244.45 131.71 247.11 130.59 249.76 129.46 252.42 128.32 255.07 127.17 257.73 126.01 260.39 124.85 263.04 123.68 265.7 122.5 268.35 121.31 271.01 120.12 273.66 118.92 276.32 117.7 278.97 116.49 281.63 115.26 284.28 114.02 286.94 112.78 289.59 111.53 292.25 110.27 294.9 109.01 297.56 107.73 300.21 106.45 302.87 105.16 305.53 103.86 308.18 102.55 310.84 101.24 313.49 99.91 316.15 98.58 318.8 97.25 321.46 95.9 324.11 94.54 326.77 93.18 329.42 91.81 332.08 90.43 334.73 89.05 337.39 87.65 340.04 86.25 342.7 84.84" fill="none" stroke="#96c36b" stroke-width="0.75" stroke-linejoin="round" opacity="0.85"/>
<path d="M217.9 145.98 220.56 144.91 223.21 143.84 225.87 142.75 228.52 141.66 231.18 140.56 233.83 139.45 236.49 138.33 239.14 137.21 241.8 136.08 244.45 134.94 247.11 133.79 249.76 132.63 252.42 131.47 255.07 130.29 257.73 129.11 260.39 127.93 263.04 126.73 265.7 125.52 268.35 124.31 271.01 123.09 273.66 121.86 276.32 120.63 278.97 119.38 281.63 118.13 284.28 116.87 286.94 115.6 289.59 114.33 292.25 113.04 294.9 111.75 297.56 110.45 300.21 109.14 302.87 107.83 305.53 106.5 308.18 105.17 310.84 103.83 313.49 102.48 316.15 101.13 318.8 99.76 321.46 98.39 324.11 97.01 326.77 95.62 329.42 94.23 332.08 92.82 334.73 91.41 337.39 89.99 340.04 88.56 342.7 87.13" fill="none" stroke="#9fc96c" stroke-width="0.75" stroke-linejoin="round" opacity="0.85"/>
<path d="M217.9 145.61 220.56 144.53 223.21 143.44 225.87 142.34 228.52 141.23 231.18 140.12 233.83 139 236.49 137.87 239.14 136.73 241.8 135.58 244.45 134.43 247.11 133.27 249.76 132.1 252.42 130.92 255.07 129.73 257.73 128.54 260.39 127.34 263.04 126.13 265.7 124.91 268.35 123.69 271.01 122.45 273.66 121.21 276.32 119.96 278.97 118.71 281.63 117.44 284.28 116.17 286.94 114.89 289.59 113.6 292.25 112.3 294.9 110.99 297.56 109.68 300.21 108.36 302.87 107.03 305.53 105.69 308.18 104.35 310.84 102.99 313.49 101.63 316.15 100.26 318.8 98.89 321.46 97.5 324.11 96.11 326.77 94.71 329.42 93.3 332.08 91.88 334.73 90.46 337.39 89.03 340.04 87.58 342.7 86.14" fill="none" stroke="#96c36b" stroke-width="0.75" stroke-linejoin="round" opacity="0.85"/>
<path d="M217.9 133.78 220.56 132.81 223.21 131.84 225.87 130.86 228.52 129.87 231.18 128.87 233.83 127.86 236.49 126.85 239.14 125.83 241.8 124.8 244.45 123.76 247.11 122.72 249.76 121.66 252.42 120.6 255.07 119.53 257.73 118.46 260.39 117.37 263.04 116.28 265.7 115.18 268.35 114.07 271.01 112.95 273.66 111.82 276.32 110.69 278.97 109.55 281.63 108.4 284.28 107.24 286.94 106.08 289.59 104.9 292.25 103.72 294.9 102.53 297.56 101.34 300.21 100.13 302.87 98.92 305.53 97.7 308.18 96.47 310.84 95.23 313.49 93.99 316.15 92.74 318.8 91.47 321.46 90.21 324.11 88.93 326.77 87.64 329.42 86.35 332.08 85.05 334.73 83.74 337.39 82.43 340.04 81.1 342.7 79.77" fill="none" stroke="#8fbf69" stroke-width="0.75" stroke-linejoin="round" opacity="0.85"/>
<path d="M217.9 132.27 220.56 131.41 223.21 130.54 225.87 129.66 228.52 128.77 231.18 127.88 233.83 126.98 236.49 126.07 239.14 125.15 241.8 124.22 244.45 123.29 247.11 122.35 249.76 121.4 252.42 120.44 255.07 119.47 257.73 118.5 260.39 117.52 263.04 116.53 265.7 115.53 268.35 114.52 271.01 113.51 273.66 112.49 276.32 111.46 278.97 110.42 281.63 109.37 284.28 108.32 286.94 107.26 289.59 106.19 292.25 105.11 294.9 104.02 297.56 102.93 300.21 101.83 302.87 100.72 305.53 99.6 308.18 98.47 310.84 97.34 313.49 96.2 316.15 95.05 318.8 93.89 321.46 92.73 324.11 91.55 326.77 90.37 329.42 89.18 332.08 87.98 334.73 86.78 337.39 85.57 340.04 84.34 342.7 83.11" fill="none" stroke="#7fb667" stroke-width="0.75" stroke-linejoin="round" opacity="0.85"/>
<path d="M217.9 122.31 220.56 121.36 223.21 120.4 225.87 119.44 228.52 118.46 231.18 117.48 233.83 116.49 236.49 115.49 239.14 114.49 241.8 113.47 244.45 112.45 247.11 111.42 249.76 110.38 252.42 109.34 255.07 108.28 257.73 107.22 260.39 106.15 263.04 105.08 265.7 103.99 268.35 102.9 271.01 101.79 273.66 100.69 276.32 99.57 278.97 98.44 281.63 97.31 284.28 96.17 286.94 95.02 289.59 93.86 292.25 92.7 294.9 91.52 297.56 90.34 300.21 89.15 302.87 87.95 305.53 86.75 308.18 85.54 310.84 84.31 313.49 83.09 316.15 81.85 318.8 80.6 321.46 79.35 324.11 78.09 326.77 76.82 329.42 75.54 332.08 74.26 334.73 72.96 337.39 71.66 340.04 70.35 342.7 69.04" fill="none" stroke="#abd06e" stroke-width="0.75" stroke-linejoin="round" opacity="0.85"/>
<path d="M217.9 124.64 220.56 123.78 223.21 122.92 225.87 122.04 228.52 121.17 231.18 120.28 233.83 119.38 236.49 118.48 239.14 117.57 241.8 116.65 244.45 115.72 247.11 114.79 249.76 113.84 252.42 112.89 255.07 111.93 257.73 110.97 260.39 109.99 263.04 109.01 265.7 108.02 268.35 107.02 271.01 106.01 273.66 105 276.32 103.97 278.97 102.94 281.63 101.9 284.28 100.86 286.94 99.8 289.59 98.74 292.25 97.67 294.9 96.59 297.56 95.5 300.21 94.41 302.87 93.31 305.53 92.2 308.18 91.08 310.84 89.95 313.49 88.82 316.15 87.67 318.8 86.52 321.46 85.37 324.11 84.2 326.77 83.02 329.42 81.84 332.08 80.65 334.73 79.45 337.39 78.25 340.04 77.03 342.7 75.81" fill="none" stroke="#c4e072" stroke-width="0.75" stroke-linejoin="round" opacity="0.85"/>
<path d="M217.9 132.17 220.56 131.22 223.21 130.26 225.87 129.29 228.52 128.32 231.18 127.34 233.83 126.34 236.49 125.35 239.14 124.34 241.8 123.32 244.45 122.3 247.11 121.27 249.76 120.23 252.42 119.19 255.07 118.13 257.73 117.07 260.39 116 263.04 114.92 265.7 113.83 268.35 112.74 271.01 111.64 273.66 110.53 276.32 109.41 278.97 108.28 281.63 107.15 284.28 106.01 286.94 104.86 289.59 103.7 292.25 102.53 294.9 101.36 297.56 100.18 300.21 98.99 302.87 97.79 305.53 96.58 308.18 95.37 310.84 94.15 313.49 92.92 316.15 91.68 318.8 90.43 321.46 89.18 324.11 87.92 326.77 86.65 329.42 85.37 332.08 84.09 334.73 82.79 337.39 81.49 340.04 80.18 342.7 78.86" fill="none" stroke="#a6cd6d" stroke-width="0.75" stroke-linejoin="round" opacity="0.85"/>
<path d="M217.9 146.27 220.56 145.19 223.21 144.1 225.87 143 228.52 141.9 231.18 140.79 233.83 139.67 236.49 138.54 239.14 137.41 241.8 136.27 244.45 135.12 247.11 133.96 249.76 132.79 252.42 131.62 255.07 130.43 257.73 129.24 260.39 128.04 263.04 126.84 265.7 125.62 268.35 124.4 271.01 123.17 273.66 121.93 276.32 120.68 278.97 119.43 281.63 118.17 284.28 116.9 286.94 115.62 289.59 114.33 292.25 113.04 294.9 111.73 297.56 110.42 300.21 109.11 302.87 107.78 305.53 106.45 308.18 105.1 310.84 103.75 313.49 102.39 316.15 101.03 318.8 99.65 321.46 98.27 324.11 96.88 326.77 95.48 329.42 94.08 332.08 92.66 334.73 91.24 337.39 89.81 340.04 88.37 342.7 86.93" fill="none" stroke="#50995f" stroke-width="0.75" stroke-linejoin="round" opacity="0.85"/>
<path d="M217.9 138.03 220.56 137.03 223.21 136.02 225.87 135 228.52 133.97 231.18 132.94 233.83 131.89 236.49 130.84 239.14 129.79 241.8 128.72 244.45 127.64 247.11 126.56 249.76 125.47 252.42 124.37 255.07 123.27 257.73 122.15 260.39 121.03 263.04 119.9 265.7 118.76 268.35 117.62 271.01 116.46 273.66 115.3 276.32 114.13 278.97 112.95 281.63 111.77 284.28 110.57 286.94 109.37 289.59 108.16 292.25 106.94 294.9 105.72 297.56 104.48 300.21 103.24 302.87 101.99 305.53 100.74 308.18 99.47 310.84 98.2 313.49 96.91 316.15 95.63 318.8 94.33 321.46 93.02 324.11 91.71 326.77 90.39 329.42 89.06 332.08 87.72 334.73 86.38 337.39 85.02 340.04 83.66 342.7 82.29" fill="none" stroke="#76b066" stroke-width="0.75" stroke-linejoin="round" opacity="0.85"/>
<path d="M217.9 144.13 220.56 143.03 223.21 141.92 225.87 140.8 228.52 139.67 231.18 138.53 233.83 137.39 236.49 136.24 239.14 135.08 241.8 133.91 244.45 132.74 247.11 131.55 249.76 130.36 252.42 129.16 255.07 127.96 257.73 126.74 260.39 125.52 263.04 124.29 265.7 123.05 268.35 121.8 271.01 120.54 273.66 119.28 276.32 118.01 278.97 116.73 281.63 115.44 284.28 114.15 286.94 112.84 289.59 111.53 292.25 110.21 294.9 108.89 297.56 107.55 300.21 106.21 302.87 104.86 305.53 103.5 308.18 102.13 310.84 100.76 313.49 99.38 316.15 97.98 318.8 96.59 321.46 95.18 324.11 93.76 326.77 92.34 329.42 90.91 332.08 89.47 334.73 88.03 337.39 86.57 340.04 85.11 342.7 83.64" fill="none" stroke="#a7ce6d" stroke-width="0.75" stroke-linejoin="round" opacity="0.85"/>
<path d="M217.9 127.73 220.56 126.78 223.21 125.82 225.87 124.86 228.52 123.89 231.18 122.91 233.83 121.92 236.49 120.92 239.14 119.92 241.8 118.9 244.45 117.88 247.11 116.85 249.76 115.82 252.42 114.77 255.07 113.72 257.73 112.66 260.39 111.59 263.04 110.52 265.7 109.43 268.35 108.34 271.01 107.24 273.66 106.13 276.32 105.01 278.97 103.89 281.63 102.76 284.28 101.62 286.94 100.47 289.59 99.31 292.25 98.15 294.9 96.98 297.56 95.8 300.21 94.61 302.87 93.41 305.53 92.21 308.18 91 310.84 89.78 313.49 88.55 316.15 87.31 318.8 86.07 321.46 84.82 324.11 83.56 326.77 82.29 329.42 81.02 332.08 79.73 334.73 78.44 337.39 77.14 340.04 75.83 342.7 74.52" fill="none" stroke="#c3df72" stroke-width="0.75" stroke-linejoin="round" opacity="0.85"/>
<path d="M217.9 132.06 220.56 131.16 223.21 130.24 225.87 129.32 228.52 128.39 231.18 127.45 233.83 126.51 236.49 125.56 239.14 124.6 241.8 123.63 244.45 122.65 247.11 121.66 249.76 120.67 252.42 119.67 255.07 118.66 257.73 117.64 260.39 116.62 263.04 115.59 265.7 114.55 268.35 113.5 271.01 112.44 273.66 111.38 276.32 110.3 278.97 109.22 281.63 108.13 284.28 107.04 286.94 105.93 289.59 104.82 292.25 103.7 294.9 102.57 297.56 101.43 300.21 100.29 302.87 99.14 305.53 97.98 308.18 96.81 310.84 95.63 313.49 94.45 316.15 93.26 318.8 92.05 321.46 90.85 324.11 89.63 326.77 88.41 329.42 87.17 332.08 85.93 334.73 84.69 337.39 83.43 340.04 82.17 342.7 80.89" fill="none" stroke="#c1dd71" stroke-width="0.75" stroke-linejoin="round" opacity="0.85"/>
<path d="M217.9 142.81 220.56 141.64 223.21 140.46 225.87 139.27 228.52 138.08 231.18 136.88 233.83 135.67 236.49 134.45 239.14 133.22 241.8 131.99 244.45 130.74 247.11 129.49 249.76 128.24 252.42 126.97 255.07 125.69 257.73 124.41 260.39 123.12 263.04 121.82 265.7 120.52 268.35 119.2 271.01 117.88 273.66 116.55 276.32 115.21 278.97 113.87 281.63 112.51 284.28 111.15 286.94 109.78 289.59 108.4 292.25 107.02 294.9 105.62 297.56 104.22 300.21 102.81 302.87 101.39 305.53 99.97 308.18 98.53 310.84 97.09 313.49 95.64 316.15 94.18 318.8 92.72 321.46 91.24 324.11 89.76 326.77 88.27 329.42 86.77 332.08 85.27 334.73 83.75 337.39 82.23 340.04 80.7 342.7 79.16" fill="none" stroke="#bbda71" stroke-width="0.75" stroke-linejoin="round" opacity="0.85"/>
<path d="M217.9 132.68 220.56 131.71 223.21 130.73 225.87 129.75 228.52 128.75 231.18 127.75 233.83 126.75 236.49 125.73 239.14 124.7 241.8 123.67 244.45 122.63 247.11 121.58 249.76 120.53 252.42 119.46 255.07 118.39 257.73 117.31 260.39 116.22 263.04 115.13 265.7 114.02 268.35 112.91 271.01 111.79 273.66 110.66 276.32 109.53 278.97 108.38 281.63 107.23 284.28 106.07 286.94 104.9 289.59 103.73 292.25 102.54 294.9 101.35 297.56 100.15 300.21 98.94 302.87 97.73 305.53 96.5 308.18 95.27 310.84 94.03 313.49 92.78 316.15 91.53 318.8 90.27 321.46 88.99 324.11 87.71 326.77 86.43 329.42 85.13 332.08 83.83 334.73 82.52 337.39 81.2 340.04 79.87 342.7 78.53" fill="none" stroke="#72ae65" stroke-width="0.75" stroke-linejoin="round" opacity="0.85"/>
<path d="M217.9 143.59 220.56 142.37 223.21 141.15 225.87 139.92 228.52 138.68 231.18 137.44 233.83 136.18 236.49 134.92 239.14 133.65 241.8 132.37 244.45 131.09 247.11 129.79 249.76 128.49 252.42 127.18 255.07 125.86 257.73 124.54 260.39 123.2 263.04 121.86 265.7 120.51 268.35 119.15 271.01 117.79 273.66 116.41 276.32 115.03 278.97 113.64 281.63 112.25 284.28 110.84 286.94 109.43 289.59 108.01 292.25 106.58 294.9 105.14 297.56 103.69 300.21 102.24 302.87 100.78 305.53 99.31 308.18 97.83 310.84 96.35 313.49 94.85 316.15 93.35 318.8 91.84 321.46 90.33 324.11 88.8 326.77 87.27 329.42 85.73 332.08 84.18 334.73 82.62 337.39 81.06 340.04 79.48 342.7 77.9" fill="none" stroke="#afd36f" stroke-width="0.75" stroke-linejoin="round" opacity="0.85"/>
<path d="M217.9 122.86 220.56 121.98 223.21 121.09 225.87 120.19 228.52 119.29 231.18 118.38 233.83 117.46 236.49 116.53 239.14 115.59 241.8 114.65 244.45 113.69 247.11 112.73 249.76 111.76 252.42 110.79 255.07 109.8 257.73 108.81 260.39 107.81 263.04 106.8 265.7 105.79 268.35 104.76 271.01 103.73 273.66 102.69 276.32 101.64 278.97 100.58 281.63 99.52 284.28 98.45 286.94 97.37 289.59 96.28 292.25 95.18 294.9 94.08 297.56 92.97 300.21 91.85 302.87 90.72 305.53 89.58 308.18 88.44 310.84 87.29 313.49 86.13 316.15 84.96 318.8 83.78 321.46 82.6 324.11 81.41 326.77 80.21 329.42 79 332.08 77.78 334.73 76.56 337.39 75.33 340.04 74.09 342.7 72.84" fill="none" stroke="#95c36a" stroke-width="0.75" stroke-linejoin="round" opacity="0.85"/>
<path d="M217.9 121.55 220.56 120.61 223.21 119.66 225.87 118.71 228.52 117.74 231.18 116.77 233.83 115.79 236.49 114.8 239.14 113.8 241.8 112.8 244.45 111.79 247.11 110.77 249.76 109.74 252.42 108.7 255.07 107.66 257.73 106.6 260.39 105.54 263.04 104.48 265.7 103.4 268.35 102.31 271.01 101.22 273.66 100.12 276.32 99.01 278.97 97.9 281.63 96.77 284.28 95.64 286.94 94.5 289.59 93.35 292.25 92.2 294.9 91.03 297.56 89.86 300.21 88.68 302.87 87.49 305.53 86.3 308.18 85.09 310.84 83.88 313.49 82.66 316.15 81.43 318.8 80.2 321.46 78.96 324.11 77.7 326.77 76.44 329.42 75.18 332.08 73.9 334.73 72.62 337.39 71.33 340.04 70.03 342.7 68.72" fill="none" stroke="#8ebe69" stroke-width="0.75" stroke-linejoin="round" opacity="0.85"/>
<path d="M217.9 124.2 220.56 123.3 223.21 122.39 225.87 121.47 228.52 120.55 231.18 119.61 233.83 118.67 236.49 117.73 239.14 116.77 241.8 115.8 244.45 114.83 247.11 113.85 249.76 112.86 252.42 111.87 255.07 110.86 257.73 109.85 260.39 108.83 263.04 107.8 265.7 106.77 268.35 105.72 271.01 104.67 273.66 103.61 276.32 102.54 278.97 101.47 281.63 100.38 284.28 99.29 286.94 98.19 289.59 97.08 292.25 95.97 294.9 94.84 297.56 93.71 300.21 92.57 302.87 91.42 305.53 90.27 308.18 89.11 310.84 87.93 313.49 86.75 316.15 85.57 318.8 84.37 321.46 83.17 324.11 81.96 326.77 80.74 329.42 79.51 332.08 78.27 334.73 77.03 337.39 75.78 340.04 74.52 342.7 73.25" fill="none" stroke="#61a362" stroke-width="0.75" stroke-linejoin="round" opacity="0.85"/>
<path d="M217.9 135.66 220.56 134.64 223.21 133.62 225.87 132.58 228.52 131.54 231.18 130.49 233.83 129.44 236.49 128.37 239.14 127.3 241.8 126.22 244.45 125.13 247.11 124.03 249.76 122.93 252.42 121.81 255.07 120.69 257.73 119.56 260.39 118.43 263.04 117.28 265.7 116.13 268.35 114.97 271.01 113.8 273.66 112.63 276.32 111.44 278.97 110.25 281.63 109.05 284.28 107.84 286.94 106.62 289.59 105.4 292.25 104.17 294.9 102.93 297.56 101.68 300.21 100.42 302.87 99.16 305.53 97.88 308.18 96.6 310.84 95.32 313.49 94.02 316.15 92.72 318.8 91.4 321.46 90.08 324.11 88.76 326.77 87.42 329.42 86.08 332.08 84.72 334.73 83.36 337.39 82 340.04 80.62 342.7 79.24" fill="none" stroke="#78b166" stroke-width="0.75" stroke-linejoin="round" opacity="0.85"/>
<path d="M217.9 136.19 220.56 135.16 223.21 134.12 225.87 133.08 228.52 132.02 231.18 130.96 233.83 129.89 236.49 128.81 239.14 127.73 241.8 126.63 244.45 125.53 247.11 124.42 249.76 123.3 252.42 122.18 255.07 121.04 257.73 119.9 260.39 118.75 263.04 117.6 265.7 116.43 268.35 115.26 271.01 114.07 273.66 112.89 276.32 111.69 278.97 110.48 281.63 109.27 284.28 108.05 286.94 106.82 289.59 105.58 292.25 104.34 294.9 103.08 297.56 101.82 300.21 100.55 302.87 99.27 305.53 97.99 308.18 96.7 310.84 95.39 313.49 94.09 316.15 92.77 318.8 91.44 321.46 90.11 324.11 88.77 326.77 87.42 329.42 86.06 332.08 84.7 334.73 83.33 337.39 81.94 340.04 80.56 342.7 79.16" fill="none" stroke="#72ae65" stroke-width="0.75" stroke-linejoin="round" opacity="0.85"/>
<path d="M217.9 131.16 220.56 130.19 223.21 129.2 225.87 128.21 228.52 127.21 231.18 126.21 233.83 125.19 236.49 124.17 239.14 123.14 241.8 122.1 244.45 121.05 247.11 120 249.76 118.93 252.42 117.86 255.07 116.79 257.73 115.7 260.39 114.6 263.04 113.5 265.7 112.39 268.35 111.27 271.01 110.15 273.66 109.01 276.32 107.87 278.97 106.72 281.63 105.56 284.28 104.39 286.94 103.22 289.59 102.04 292.25 100.85 294.9 99.65 297.56 98.44 300.21 97.23 302.87 96 305.53 94.77 308.18 93.54 310.84 92.29 313.49 91.04 316.15 89.77 318.8 88.5 321.46 87.23 324.11 85.94 326.77 84.65 329.42 83.34 332.08 82.03 334.73 80.72 337.39 79.39 340.04 78.06 342.7 76.71" fill="none" stroke="#599e61" stroke-width="0.75" stroke-linejoin="round" opacity="0.85"/>
<path d="M217.9 139.11 220.56 138.15 223.21 137.18 225.87 136.2 228.52 135.21 231.18 134.21 233.83 133.21 236.49 132.2 239.14 131.18 241.8 130.15 244.45 129.12 247.11 128.08 249.76 127.03 252.42 125.97 255.07 124.9 257.73 123.83 260.39 122.74 263.04 121.65 265.7 120.55 268.35 119.45 271.01 118.33 273.66 117.21 276.32 116.08 278.97 114.94 281.63 113.79 284.28 112.64 286.94 111.48 289.59 110.3 292.25 109.13 294.9 107.94 297.56 106.75 300.21 105.54 302.87 104.33 305.53 103.11 308.18 101.89 310.84 100.65 313.49 99.41 316.15 98.16 318.8 96.9 321.46 95.64 324.11 94.36 326.77 93.08 329.42 91.79 332.08 90.49 334.73 89.19 337.39 87.87 340.04 86.55 342.7 85.22" fill="none" stroke="#89bc69" stroke-width="0.75" stroke-linejoin="round" opacity="0.85"/>
<path d="M217.9 120.66 220.56 119.78 223.21 118.9 225.87 118.01 228.52 117.11 231.18 116.2 233.83 115.29 236.49 114.36 239.14 113.43 241.8 112.49 244.45 111.54 247.11 110.59 249.76 109.63 252.42 108.65 255.07 107.68 257.73 106.69 260.39 105.69 263.04 104.69 265.7 103.68 268.35 102.66 271.01 101.63 273.66 100.6 276.32 99.55 278.97 98.5 281.63 97.44 284.28 96.38 286.94 95.3 289.59 94.22 292.25 93.13 294.9 92.03 297.56 90.92 300.21 89.81 302.87 88.69 305.53 87.55 308.18 86.42 310.84 85.27 313.49 84.11 316.15 82.95 318.8 81.78 321.46 80.6 324.11 79.42 326.77 78.22 329.42 77.02 332.08 75.81 334.73 74.59 337.39 73.36 340.04 72.13 342.7 70.89" fill="none" stroke="#80b667" stroke-width="0.75" stroke-linejoin="round" opacity="0.85"/>
<path d="M217.9 145.69 220.56 144.59 223.21 143.49 225.87 142.38 228.52 141.26 231.18 140.14 233.83 139 236.49 137.86 239.14 136.71 241.8 135.55 244.45 134.38 247.11 133.21 249.76 132.03 252.42 130.84 255.07 129.64 257.73 128.43 260.39 127.22 263.04 126 265.7 124.77 268.35 123.53 271.01 122.28 273.66 121.03 276.32 119.77 278.97 118.5 281.63 117.22 284.28 115.93 286.94 114.64 289.59 113.34 292.25 112.03 294.9 110.71 297.56 109.38 300.21 108.05 302.87 106.71 305.53 105.36 308.18 104 310.84 102.64 313.49 101.26 316.15 99.88 318.8 98.49 321.46 97.09 324.11 95.69 326.77 94.27 329.42 92.85 332.08 91.42 334.73 89.99 337.39 88.54 340.04 87.09 342.7 85.63" fill="none" stroke="#aad06e" stroke-width="0.75" stroke-linejoin="round" opacity="0.85"/>
<path d="M217.9 127.08 220.56 126.1 223.21 125.12 225.87 124.12 228.52 123.12 231.18 122.11 233.83 121.09 236.49 120.06 239.14 119.03 241.8 117.99 244.45 116.94 247.11 115.88 249.76 114.81 252.42 113.74 255.07 112.65 257.73 111.56 260.39 110.47 263.04 109.36 265.7 108.25 268.35 107.12 271.01 105.99 273.66 104.85 276.32 103.71 278.97 102.55 281.63 101.39 284.28 100.22 286.94 99.04 289.59 97.86 292.25 96.66 294.9 95.46 297.56 94.25 300.21 93.03 302.87 91.81 305.53 90.58 308.18 89.33 310.84 88.08 313.49 86.83 316.15 85.56 318.8 84.29 321.46 83.01 324.11 81.72 326.77 80.42 329.42 79.11 332.08 77.8 334.73 76.48 337.39 75.15 340.04 73.81 342.7 72.46" fill="none" stroke="#abd06e" stroke-width="0.75" stroke-linejoin="round" opacity="0.85"/>
<path d="M217.9 121.88 220.56 121.02 223.21 120.15 225.87 119.27 228.52 118.38 231.18 117.49 233.83 116.58 236.49 115.67 239.14 114.75 241.8 113.82 244.45 112.89 247.11 111.94 249.76 110.99 252.42 110.03 255.07 109.07 257.73 108.09 260.39 107.11 263.04 106.12 265.7 105.12 268.35 104.11 271.01 103.09 273.66 102.07 276.32 101.04 278.97 100 281.63 98.95 284.28 97.9 286.94 96.84 289.59 95.76 292.25 94.69 294.9 93.6 297.56 92.5 300.21 91.4 302.87 90.29 305.53 89.17 308.18 88.04 310.84 86.91 313.49 85.77 316.15 84.62 318.8 83.46 321.46 82.29 324.11 81.12 326.77 79.93 329.42 78.74 332.08 77.54 334.73 76.34 337.39 75.12 340.04 73.9 342.7 72.67" fill="none" stroke="#63a462" stroke-width="0.75" stroke-linejoin="round" opacity="0.85"/>
<path d="M217.9 132.63 220.56 131.64 223.21 130.64 225.87 129.64 228.52 128.62 231.18 127.6 233.83 126.57 236.49 125.54 239.14 124.49 241.8 123.44 244.45 122.38 247.11 121.31 249.76 120.24 252.42 119.15 255.07 118.06 257.73 116.96 260.39 115.85 263.04 114.73 265.7 113.61 268.35 112.48 271.01 111.34 273.66 110.19 276.32 109.03 278.97 107.87 281.63 106.7 284.28 105.52 286.94 104.33 289.59 103.13 292.25 101.93 294.9 100.72 297.56 99.5 300.21 98.27 302.87 97.03 305.53 95.79 308.18 94.54 310.84 93.28 313.49 92.01 316.15 90.74 318.8 89.45 321.46 88.16 324.11 86.86 326.77 85.55 329.42 84.24 332.08 82.91 334.73 81.58 337.39 80.24 340.04 78.9 342.7 77.54" fill="none" stroke="#bfdc71" stroke-width="0.75" stroke-linejoin="round" opacity="0.85"/>
<path d="M217.9 144.66 220.56 143.53 223.21 142.4 225.87 141.26 228.52 140.11 231.18 138.95 233.83 137.78 236.49 136.61 239.14 135.43 241.8 134.24 244.45 133.04 247.11 131.84 249.76 130.62 252.42 129.4 255.07 128.17 257.73 126.93 260.39 125.69 263.04 124.43 265.7 123.17 268.35 121.9 271.01 120.63 273.66 119.34 276.32 118.05 278.97 116.75 281.63 115.44 284.28 114.12 286.94 112.79 289.59 111.46 292.25 110.12 294.9 108.77 297.56 107.41 300.21 106.05 302.87 104.68 305.53 103.3 308.18 101.91 310.84 100.51 313.49 99.1 316.15 97.69 318.8 96.27 321.46 94.84 324.11 93.4 326.77 91.96 329.42 90.51 332.08 89.05 334.73 87.58 337.39 86.1 340.04 84.62 342.7 83.12" fill="none" stroke="#a1ca6c" stroke-width="0.75" stroke-linejoin="round" opacity="0.85"/>
<path d="M217.9 127.6 220.56 126.74 223.21 125.86 225.87 124.99 228.52 124.1 231.18 123.2 233.83 122.3 236.49 121.39 239.14 120.47 241.8 119.54 244.45 118.6 247.11 117.66 249.76 116.71 252.42 115.75 255.07 114.78 257.73 113.81 260.39 112.82 263.04 111.83 265.7 110.83 268.35 109.83 271.01 108.81 273.66 107.79 276.32 106.76 278.97 105.72 281.63 104.67 284.28 103.62 286.94 102.55 289.59 101.48 292.25 100.4 294.9 99.32 297.56 98.22 300.21 97.12 302.87 96.01 305.53 94.89 308.18 93.76 310.84 92.63 313.49 91.48 316.15 90.33 318.8 89.17 321.46 88.01 324.11 86.83 326.77 85.65 329.42 84.46 332.08 83.26 334.73 82.05 337.39 80.84 340.04 79.62 342.7 78.39" fill="none" stroke="#86b968" stroke-width="0.75" stroke-linejoin="round" opacity="0.85"/>
<path d="M217.9 127.76 220.56 126.8 223.21 125.83 225.87 124.85 228.52 123.86 231.18 122.86 233.83 121.85 236.49 120.84 239.14 119.82 241.8 118.79 244.45 117.76 247.11 116.71 249.76 115.66 252.42 114.6 255.07 113.53 257.73 112.45 260.39 111.37 263.04 110.28 265.7 109.18 268.35 108.07 271.01 106.95 273.66 105.83 276.32 104.69 278.97 103.55 281.63 102.41 284.28 101.25 286.94 100.08 289.59 98.91 292.25 97.73 294.9 96.54 297.56 95.35 300.21 94.14 302.87 92.93 305.53 91.71 308.18 90.48 310.84 89.25 313.49 88 316.15 86.75 318.8 85.49 321.46 84.22 324.11 82.95 326.77 81.66 329.42 80.37 332.08 79.07 334.73 77.76 337.39 76.45 340.04 75.13 342.7 73.79" fill="none" stroke="#b2d46f" stroke-width="0.75" stroke-linejoin="round" opacity="0.85"/>
<path d="M217.9 122.6 220.56 121.79 223.21 120.97 225.87 120.14 228.52 119.31 231.18 118.46 233.83 117.61 236.49 116.75 239.14 115.89 241.8 115.01 244.45 114.13 247.11 113.24 249.76 112.34 252.42 111.43 255.07 110.52 257.73 109.6 260.39 108.67 263.04 107.73 265.7 106.78 268.35 105.83 271.01 104.86 273.66 103.89 276.32 102.92 278.97 101.93 281.63 100.93 284.28 99.93 286.94 98.92 289.59 97.9 292.25 96.88 294.9 95.84 297.56 94.8 300.21 93.75 302.87 92.69 305.53 91.63 308.18 90.55 310.84 89.47 313.49 88.38 316.15 87.28 318.8 86.18 321.46 85.06 324.11 83.94 326.77 82.81 329.42 81.67 332.08 80.53 334.73 79.37 337.39 78.21 340.04 77.04 342.7 75.86" fill="none" stroke="#69a863" stroke-width="0.75" stroke-linejoin="round" opacity="0.85"/>
<path d="M217.9 133.8 220.56 132.9 223.21 131.99 225.87 131.07 228.52 130.15 231.18 129.22 233.83 128.28 236.49 127.33 239.14 126.38 241.8 125.41 244.45 124.44 247.11 123.46 249.76 122.48 252.42 121.48 255.07 120.48 257.73 119.47 260.39 118.45 263.04 117.42 265.7 116.39 268.35 115.34 271.01 114.29 273.66 113.23 276.32 112.17 278.97 111.09 281.63 110.01 284.28 108.92 286.94 107.82 289.59 106.71 292.25 106.84 294.9 106.99 297.56 107.14 300.21 107.28 302.87 107.41 305.53 107.53 308.18 107.64 310.84 107.75 313.49 107.85 316.15 107.94 318.8 107.2 321.46 105.23 324.11 103.26 326.77 101.27 329.42 99.28 332.08 97.28 334.73 95.27 337.39 93.26 340.04 91.23 342.7 89.2" fill="none" stroke="#c1de72" stroke-width="0.75" stroke-linejoin="round" opacity="0.85"/>
<path d="M217.9 131.8 220.56 130.9 223.21 129.99 225.87 129.07 228.52 128.15 231.18 127.22 233.83 126.28 236.49 125.33 239.14 124.38 241.8 123.41 244.45 122.44 247.11 121.46 249.76 120.48 252.42 119.48 255.07 118.48 257.73 117.47 260.39 116.45 263.04 115.42 265.7 114.39 268.35 113.34 271.01 112.29 273.66 111.23 276.32 110.17 278.97 109.09 281.63 108.01 284.28 106.92 286.94 105.89 289.59 105.18 292.25 104.01 294.9 103.19 297.56 102.21 300.21 101.66 302.87 101.1 305.53 100.55 308.18 100.07 310.84 99.49 313.49 98.83 316.15 98.11 318.8 97.52 321.46 96.58 324.11 95.49 326.77 93.77 329.42 92.37 332.08 90.94 334.73 89.86 337.39 88.98 340.04 88.3 342.7 85.6" fill="none" stroke="#b5d670" stroke-width="0.75" stroke-linejoin="round" opacity="0.85"/>
<path d="M217.9 130.8 222.2 129.27 226.51 127.71 230.81 126.14 235.11 124.55 239.42 122.93 243.72 121.3 248.02 119.64 252.33 117.96 256.63 116.27 260.93 114.55 265.24 112.81 269.54 111.04 273.84 109.26 278.15 107.46 282.45 105.64 286.76 103.79 291.06 101.92 295.36 100.04 299.67 98.13 303.97 96.2 308.27 94.25 312.58 92.28 316.88 90.29 321.18 88.28 325.49 86.24 329.79 84.19 334.09 82.11 338.4 80.02 342.7 77.9" fill="none" stroke="#d80000" stroke-width="2" stroke-linejoin="round" />
<line x1="247.67" y1="62.97" x2="342.7" y2="8.67" stroke="#555" stroke-width="0.9" stroke-dasharray="3 2"/>
<line x1="247.67" y1="142.79" x2="342.7" y2="115.64" stroke="#555" stroke-width="0.9" stroke-dasharray="3 2"/>
</g>
<rect x="217.9" y="26.5" width="124.8" height="124.8" fill="none" stroke="#1c1c1c" stroke-width="1.2"/>
<path d="M236.68 151.3v-1.8M236.68 26.5v1.8M247.67 151.3v-1.8M247.67 26.5v1.8M255.47 151.3v-1.8M255.47 26.5v1.8M261.52 151.3v-1.8M261.52 26.5v1.8M266.46 151.3v-1.8M266.46 26.5v1.8M270.63 151.3v-1.8M270.63 26.5v1.8M274.25 151.3v-1.8M274.25 26.5v1.8M277.44 151.3v-1.8M277.44 26.5v1.8M280.3 151.3v-3M280.3 26.5v3M299.08 151.3v-1.8M299.08 26.5v1.8M310.07 151.3v-1.8M310.07 26.5v1.8M317.87 151.3v-1.8M317.87 26.5v1.8M323.92 151.3v-1.8M323.92 26.5v1.8M328.86 151.3v-1.8M328.86 26.5v1.8M333.03 151.3v-1.8M333.03 26.5v1.8M336.65 151.3v-1.8M336.65 26.5v1.8M339.84 151.3v-1.8M339.84 26.5v1.8M217.9 145.93h1.8M342.7 145.93h-1.8M217.9 142.79h1.8M342.7 142.79h-1.8M217.9 140.57h1.8M342.7 140.57h-1.8M217.9 138.84h1.8M342.7 138.84h-1.8M217.9 137.43h1.8M342.7 137.43h-1.8M217.9 136.23h1.8M342.7 136.23h-1.8M217.9 135.2h1.8M342.7 135.2h-1.8M217.9 134.29h1.8M342.7 134.29h-1.8M217.9 133.47h1.8M342.7 133.47h-1.8M217.9 128.1h1.8M342.7 128.1h-1.8M217.9 124.97h1.8M342.7 124.97h-1.8M217.9 122.74h1.8M342.7 122.74h-1.8M217.9 121.01h1.8M342.7 121.01h-1.8M217.9 119.6h1.8M342.7 119.6h-1.8M217.9 118.4h1.8M342.7 118.4h-1.8M217.9 117.37h1.8M342.7 117.37h-1.8M217.9 116.46h1.8M342.7 116.46h-1.8M217.9 115.64h3M342.7 115.64h-3M217.9 110.28h1.8M342.7 110.28h-1.8M217.9 107.14h1.8M342.7 107.14h-1.8M217.9 104.91h1.8M342.7 104.91h-1.8M217.9 103.18h1.8M342.7 103.18h-1.8M217.9 101.77h1.8M342.7 101.77h-1.8M217.9 100.58h1.8M342.7 100.58h-1.8M217.9 99.54h1.8M342.7 99.54h-1.8M217.9 98.63h1.8M342.7 98.63h-1.8M217.9 97.81h1.8M342.7 97.81h-1.8M217.9 92.45h1.8M342.7 92.45h-1.8M217.9 89.31h1.8M342.7 89.31h-1.8M217.9 87.08h1.8M342.7 87.08h-1.8M217.9 85.35h1.8M342.7 85.35h-1.8M217.9 83.94h1.8M342.7 83.94h-1.8M217.9 82.75h1.8M342.7 82.75h-1.8M217.9 81.71h1.8M342.7 81.71h-1.8M217.9 80.8h1.8M342.7 80.8h-1.8M217.9 79.99h3M342.7 79.99h-3M217.9 74.62h1.8M342.7 74.62h-1.8M217.9 71.48h1.8M342.7 71.48h-1.8M217.9 69.25h1.8M342.7 69.25h-1.8M217.9 67.52h1.8M342.7 67.52h-1.8M217.9 66.11h1.8M342.7 66.11h-1.8M217.9 64.92h1.8M342.7 64.92h-1.8M217.9 63.88h1.8M342.7 63.88h-1.8M217.9 62.97h1.8M342.7 62.97h-1.8M217.9 62.16h1.8M342.7 62.16h-1.8M217.9 56.79h1.8M342.7 56.79h-1.8M217.9 53.65h1.8M342.7 53.65h-1.8M217.9 51.42h1.8M342.7 51.42h-1.8M217.9 49.7h1.8M342.7 49.7h-1.8M217.9 48.28h1.8M342.7 48.28h-1.8M217.9 47.09h1.8M342.7 47.09h-1.8M217.9 46.06h1.8M342.7 46.06h-1.8M217.9 45.14h1.8M342.7 45.14h-1.8M217.9 44.33h3M342.7 44.33h-3M217.9 38.96h1.8M342.7 38.96h-1.8M217.9 35.82h1.8M342.7 35.82h-1.8M217.9 33.59h1.8M342.7 33.59h-1.8M217.9 31.87h1.8M342.7 31.87h-1.8M217.9 30.46h1.8M342.7 30.46h-1.8M217.9 29.26h1.8M342.7 29.26h-1.8M217.9 28.23h1.8M342.7 28.23h-1.8M217.9 27.32h1.8M342.7 27.32h-1.8" stroke="#1c1c1c" stroke-width="0.9" fill="none"/>
<path d="M191.18 157.8 192.29 157.8 192.29 148.65 191.27 148.65 189.21 150.14 189.21 151.24 191.18 149.77z" fill="#262626" stroke="#262626" stroke-width="0.28" stroke-linejoin="round"/><text x="195.03" y="157.8" font-size="13.3" fill="#262626" stroke="#262626" stroke-width="0.28" textLength="7.03" lengthAdjust="spacingAndGlyphs" >0</text>
<text x="202.45" y="151.2" font-size="10.2" fill="#262626" stroke="#262626" stroke-width="0.28" textLength="11.05" lengthAdjust="spacingAndGlyphs" >−2</text>
<path d="M196.83 122.14 197.95 122.14 197.95 112.99 196.93 112.99 194.87 114.48 194.87 115.58 196.83 114.11z" fill="#262626" stroke="#262626" stroke-width="0.28" stroke-linejoin="round"/><text x="200.68" y="122.14" font-size="13.3" fill="#262626" stroke="#262626" stroke-width="0.28" textLength="7.03" lengthAdjust="spacingAndGlyphs" >0</text>
<text x="208.11" y="115.54" font-size="10.2" fill="#262626" stroke="#262626" stroke-width="0.28" textLength="5.39" lengthAdjust="spacingAndGlyphs" >0</text>
<path d="M196.83 86.49 197.95 86.49 197.95 77.34 196.93 77.34 194.87 78.82 194.87 79.93 196.83 78.45z" fill="#262626" stroke="#262626" stroke-width="0.28" stroke-linejoin="round"/><text x="200.68" y="86.49" font-size="13.3" fill="#262626" stroke="#262626" stroke-width="0.28" textLength="7.03" lengthAdjust="spacingAndGlyphs" >0</text>
<text x="208.11" y="79.89" font-size="10.2" fill="#262626" stroke="#262626" stroke-width="0.28" textLength="5.39" lengthAdjust="spacingAndGlyphs" >2</text>
<path d="M196.83 50.83 197.95 50.83 197.95 41.68 196.93 41.68 194.87 43.17 194.87 44.27 196.83 42.8z" fill="#262626" stroke="#262626" stroke-width="0.28" stroke-linejoin="round"/><text x="200.68" y="50.83" font-size="13.3" fill="#262626" stroke="#262626" stroke-width="0.28" textLength="7.03" lengthAdjust="spacingAndGlyphs" >0</text>
<text x="208.11" y="44.23" font-size="10.2" fill="#262626" stroke="#262626" stroke-width="0.28" textLength="5.39" lengthAdjust="spacingAndGlyphs" >4</text>
<path d="M211.36 171.8 212.47 171.8 212.47 162.65 211.45 162.65 209.39 164.14 209.39 165.24 211.36 163.77z" fill="#262626" stroke="#262626" stroke-width="0.28" stroke-linejoin="round"/><text x="215.21" y="171.8" font-size="13.3" fill="#262626" stroke="#262626" stroke-width="0.28" textLength="7.03" lengthAdjust="spacingAndGlyphs" >0</text>
<text x="222.53" y="164.9" font-size="10.2" fill="#262626" stroke="#262626" stroke-width="0.28" textLength="5.39" lengthAdjust="spacingAndGlyphs" >0</text>
<path d="M273.76 171.8 274.87 171.8 274.87 162.65 273.85 162.65 271.79 164.14 271.79 165.24 273.76 163.77z" fill="#262626" stroke="#262626" stroke-width="0.28" stroke-linejoin="round"/><text x="277.61" y="171.8" font-size="13.3" fill="#262626" stroke="#262626" stroke-width="0.28" textLength="7.03" lengthAdjust="spacingAndGlyphs" >0</text>
<path d="M287.37 164.9 288.23 164.9 288.23 157.88 287.44 157.88 285.86 159.02 285.86 159.87 287.37 158.74z" fill="#262626" stroke="#262626" stroke-width="0.28" stroke-linejoin="round"/>
<path d="M336.16 171.8 337.27 171.8 337.27 162.65 336.25 162.65 334.19 164.14 334.19 165.24 336.16 163.77z" fill="#262626" stroke="#262626" stroke-width="0.28" stroke-linejoin="round"/><text x="340.01" y="171.8" font-size="13.3" fill="#262626" stroke="#262626" stroke-width="0.28" textLength="7.03" lengthAdjust="spacingAndGlyphs" >0</text>
<text x="347.33" y="164.9" font-size="10.2" fill="#262626" stroke="#262626" stroke-width="0.28" textLength="5.39" lengthAdjust="spacingAndGlyphs" >2</text>
<path d="M265.5 181.8Q266.1 180.35 267.5 180.35L273.9 180.35" fill="none" stroke="#000" stroke-width="1.45" stroke-linecap="round"/><path d="M270.05 180.6L268.55 187.3Q268.2 189.15 269.65 189.05Q271.05 188.9 271.85 187.1" fill="none" stroke="#000" stroke-width="1.85" stroke-linecap="round"/>
<text x="278.8" y="189.6" font-size="14.5" fill="#262626" stroke="#262626" stroke-width="0.25">[s]</text>
<text x="229.3" y="42.9" font-size="14.6" fill="#55ab4a" stroke="#55ab4a" stroke-width="0.3" textLength="27.91" lengthAdjust="spacingAndGlyphs">40%</text>
<g clip-path="url(#ca2)">
<path d="M383.1 110.33 385.76 109.12 388.41 107.9 391.07 106.68 393.72 105.46 396.38 104.24 399.03 103.02 401.69 101.79 404.34 100.57 407 99.35 409.65 98.12 412.31 96.9 414.96 95.67 417.62 94.45 420.27 93.22 422.93 91.99 425.59 90.77 428.24 89.54 430.9 88.31 433.55 87.08 436.21 85.85 438.86 84.61 441.52 83.38 444.17 82.15 446.83 80.91 449.48 79.68 452.14 78.44 454.79 77.21 457.45 75.97 460.1 74.73 462.76 73.5 465.41 72.26 468.07 71.02 470.73 69.78 473.38 68.54 476.04 67.29 478.69 66.05 481.35 64.81 484 63.56 486.66 62.32 489.31 61.07 491.97 59.83 494.62 58.58 497.28 57.33 499.93 56.09 502.59 54.84 505.24 53.59 507.9 52.34" fill="none" stroke="#bad970" stroke-width="0.75" stroke-linejoin="round" opacity="0.85"/>
<path d="M383.1 111.84 385.76 110.52 388.41 109.2 391.07 107.88 393.72 106.55 396.38 105.23 399.03 103.9 401.69 102.58 404.34 101.25 407 99.92 409.65 98.59 412.31 97.27 414.96 95.94 417.62 94.61 420.27 93.27 422.93 91.94 425.59 90.61 428.24 89.28 430.9 87.94 433.55 86.61 436.21 85.27 438.86 83.94 441.52 82.6 444.17 81.26 446.83 79.93 449.48 78.59 452.14 77.25 454.79 75.91 457.45 74.57 460.1 73.23 462.76 71.88 465.41 70.54 468.07 69.2 470.73 67.85 473.38 66.51 476.04 65.16 478.69 63.81 481.35 62.47 484 61.12 486.66 59.77 489.31 58.42 491.97 57.07 494.62 55.72 497.28 54.37 499.93 53.02 502.59 51.66 505.24 50.31 507.9 48.96" fill="none" stroke="#9fc96c" stroke-width="0.75" stroke-linejoin="round" opacity="0.85"/>
<path d="M383.1 118.38 385.76 117.04 388.41 115.71 391.07 114.37 393.72 113.04 396.38 111.7 399.03 110.36 401.69 109.02 404.34 107.68 407 106.34 409.65 105 412.31 103.66 414.96 102.32 417.62 100.98 420.27 99.63 422.93 98.29 425.59 96.95 428.24 95.6 430.9 94.25 433.55 92.91 436.21 91.56 438.86 90.21 441.52 88.86 444.17 87.51 446.83 86.16 449.48 84.81 452.14 83.46 454.79 82.11 457.45 80.75 460.1 79.4 462.76 78.04 465.41 76.69 468.07 75.33 470.73 73.97 473.38 72.62 476.04 71.26 478.69 69.9 481.35 68.54 484 67.18 486.66 65.82 489.31 64.46 491.97 63.09 494.62 61.73 497.28 60.37 499.93 59 502.59 57.64 505.24 56.27 507.9 54.9" fill="none" stroke="#c7e172" stroke-width="0.75" stroke-linejoin="round" opacity="0.85"/>
<path d="M383.1 111.24 385.76 110 388.41 108.77 391.07 107.53 393.72 106.29 396.38 105.05 399.03 103.81 401.69 102.57 404.34 101.33 407 100.09 409.65 98.85 412.31 97.6 414.96 96.36 417.62 95.12 420.27 93.87 422.93 92.62 425.59 91.38 428.24 90.13 430.9 88.88 433.55 87.63 436.21 86.38 438.86 85.13 441.52 83.88 444.17 82.63 446.83 81.38 449.48 80.12 452.14 78.87 454.79 77.61 457.45 76.36 460.1 75.1 462.76 73.85 465.41 72.59 468.07 71.33 470.73 70.07 473.38 68.81 476.04 67.55 478.69 66.29 481.35 65.03 484 63.77 486.66 62.5 489.31 61.24 491.97 59.98 494.62 58.71 497.28 57.44 499.93 56.18 502.59 54.91 505.24 53.64 507.9 52.37" fill="none" stroke="#96c46b" stroke-width="0.75" stroke-linejoin="round" opacity="0.85"/>
<path d="M383.1 117.14 385.76 115.77 388.41 114.39 391.07 113.01 393.72 111.63 396.38 110.25 399.03 108.86 401.69 107.48 404.34 106.1 407 104.71 409.65 103.33 412.31 101.94 414.96 100.56 417.62 99.17 420.27 97.78 422.93 96.39 425.59 95 428.24 93.61 430.9 92.22 433.55 90.83 436.21 89.44 438.86 88.05 441.52 86.66 444.17 85.26 446.83 83.87 449.48 82.47 452.14 81.08 454.79 79.68 457.45 78.28 460.1 76.88 462.76 75.48 465.41 74.08 468.07 72.68 470.73 71.28 473.38 69.88 476.04 68.48 478.69 67.07 481.35 65.67 484 64.27 486.66 62.86 489.31 61.45 491.97 60.05 494.62 58.64 497.28 57.23 499.93 55.82 502.59 54.41 505.24 53 507.9 51.59" fill="none" stroke="#c2de72" stroke-width="0.75" stroke-linejoin="round" opacity="0.85"/>
<path d="M383.1 119.51 385.76 118.11 388.41 116.71 391.07 115.31 393.72 113.91 396.38 112.5 399.03 111.1 401.69 109.7 404.34 108.29 407 106.89 409.65 105.48 412.31 104.07 414.96 102.67 417.62 101.26 420.27 99.85 422.93 98.44 425.59 97.03 428.24 95.62 430.9 94.21 433.55 92.79 436.21 91.38 438.86 89.97 441.52 88.55 444.17 87.14 446.83 85.72 449.48 84.3 452.14 82.88 454.79 81.47 457.45 80.05 460.1 78.63 462.76 77.21 465.41 75.79 468.07 74.36 470.73 72.94 473.38 71.52 476.04 70.09 478.69 68.67 481.35 67.24 484 65.82 486.66 64.39 489.31 62.96 491.97 61.54 494.62 60.11 497.28 58.68 499.93 57.25 502.59 55.82 505.24 54.38 507.9 52.95" fill="none" stroke="#89bb68" stroke-width="0.75" stroke-linejoin="round" opacity="0.85"/>
<path d="M383.1 115.06 385.76 113.77 388.41 112.48 391.07 111.19 393.72 109.89 396.38 108.6 399.03 107.3 401.69 106 404.34 104.71 407 103.41 409.65 102.11 412.31 100.81 414.96 99.51 417.62 98.21 420.27 96.91 422.93 95.61 425.59 94.3 428.24 93 430.9 91.7 433.55 90.39 436.21 89.09 438.86 87.78 441.52 86.47 444.17 85.17 446.83 83.86 449.48 82.55 452.14 81.24 454.79 79.93 457.45 78.62 460.1 77.3 462.76 75.99 465.41 74.68 468.07 73.36 470.73 72.05 473.38 70.73 476.04 69.42 478.69 68.1 481.35 66.78 484 65.46 486.66 64.14 489.31 62.82 491.97 61.5 494.62 60.18 497.28 58.86 499.93 57.54 502.59 56.21 505.24 54.89 507.9 53.57" fill="none" stroke="#c1de72" stroke-width="0.75" stroke-linejoin="round" opacity="0.85"/>
<path d="M383.1 110.18 385.76 108.85 388.41 107.52 391.07 106.19 393.72 104.86 396.38 103.53 399.03 102.2 401.69 100.86 404.34 99.53 407 98.19 409.65 96.86 412.31 95.52 414.96 94.18 417.62 92.85 420.27 91.51 422.93 90.17 425.59 88.83 428.24 87.49 430.9 86.15 433.55 84.8 436.21 83.46 438.86 82.12 441.52 80.77 444.17 79.43 446.83 78.08 449.48 76.73 452.14 75.39 454.79 74.04 457.45 72.69 460.1 71.34 462.76 69.99 465.41 68.64 468.07 67.29 470.73 65.94 473.38 64.58 476.04 63.23 478.69 61.88 481.35 60.52 484 59.17 486.66 57.81 489.31 56.45 491.97 55.09 494.62 53.74 497.28 52.38 499.93 51.02 502.59 49.66 505.24 48.29 507.9 46.93" fill="none" stroke="#81b667" stroke-width="0.75" stroke-linejoin="round" opacity="0.85"/>
<path d="M383.1 116.75 385.76 115.41 388.41 114.08 391.07 112.75 393.72 111.41 396.38 110.08 399.03 108.74 401.69 107.4 404.34 106.06 407 104.72 409.65 103.39 412.31 102.05 414.96 100.7 417.62 99.36 420.27 98.02 422.93 96.68 425.59 95.33 428.24 93.99 430.9 92.64 433.55 91.3 436.21 89.95 438.86 88.6 441.52 87.26 444.17 85.91 446.83 84.56 449.48 83.21 452.14 81.86 454.79 80.51 457.45 79.15 460.1 77.8 462.76 76.45 465.41 75.09 468.07 73.74 470.73 72.38 473.38 71.03 476.04 69.67 478.69 68.31 481.35 66.95 484 65.59 486.66 64.23 489.31 62.87 491.97 61.51 494.62 60.15 497.28 58.79 499.93 57.42 502.59 56.06 505.24 54.69 507.9 53.33" fill="none" stroke="#86ba68" stroke-width="0.75" stroke-linejoin="round" opacity="0.85"/>
<path d="M383.1 109.82 385.76 108.53 388.41 107.24 391.07 105.95 393.72 104.66 396.38 103.37 399.03 102.08 401.69 100.79 404.34 99.49 407 98.2 409.65 96.9 412.31 95.61 414.96 94.31 417.62 93.01 420.27 91.71 422.93 90.41 425.59 89.11 428.24 87.81 430.9 86.51 433.55 85.21 436.21 83.91 438.86 82.61 441.52 81.3 444.17 80 446.83 78.69 449.48 77.39 452.14 76.08 454.79 74.77 457.45 73.46 460.1 72.15 462.76 70.84 465.41 69.53 468.07 68.22 470.73 66.91 473.38 65.6 476.04 64.29 478.69 62.97 481.35 61.66 484 60.34 486.66 59.03 489.31 57.71 491.97 56.39 494.62 55.07 497.28 53.76 499.93 52.44 502.59 51.12 505.24 49.79 507.9 48.47" fill="none" stroke="#a2ca6c" stroke-width="0.75" stroke-linejoin="round" opacity="0.85"/>
<path d="M383.1 114.49 385.76 113.22 388.41 111.95 391.07 110.68 393.72 109.41 396.38 108.14 399.03 106.86 401.69 105.59 404.34 104.31 407 103.04 409.65 101.76 412.31 100.49 414.96 99.21 417.62 97.93 420.27 96.65 422.93 95.37 425.59 94.09 428.24 92.81 430.9 91.53 433.55 90.24 436.21 88.96 438.86 87.68 441.52 86.39 444.17 85.1 446.83 83.82 449.48 82.53 452.14 81.24 454.79 79.96 457.45 78.67 460.1 77.38 462.76 76.09 465.41 74.79 468.07 73.5 470.73 72.21 473.38 70.92 476.04 69.62 478.69 68.33 481.35 67.03 484 65.73 486.66 64.44 489.31 63.14 491.97 61.84 494.62 60.54 497.28 59.24 499.93 57.94 502.59 56.64 505.24 55.34 507.9 54.04" fill="none" stroke="#c6e172" stroke-width="0.75" stroke-linejoin="round" opacity="0.85"/>
<path d="M383.1 111.83 385.76 110.54 388.41 109.26 391.07 107.97 393.72 106.69 396.38 105.4 399.03 104.11 401.69 102.82 404.34 101.53 407 100.25 409.65 98.95 412.31 97.66 414.96 96.37 417.62 95.08 420.27 93.79 422.93 92.49 425.59 91.2 428.24 89.9 430.9 88.61 433.55 87.31 436.21 86.01 438.86 84.72 441.52 83.42 444.17 82.12 446.83 80.82 449.48 79.52 452.14 78.21 454.79 76.91 457.45 75.61 460.1 74.31 462.76 73 465.41 71.7 468.07 70.39 470.73 69.08 473.38 67.78 476.04 66.47 478.69 65.16 481.35 63.85 484 62.54 486.66 61.23 489.31 59.92 491.97 58.6 494.62 57.29 497.28 55.98 499.93 54.66 502.59 53.35 505.24 52.03 507.9 50.72" fill="none" stroke="#92c16a" stroke-width="0.75" stroke-linejoin="round" opacity="0.85"/>
<path d="M383.1 117.57 385.76 116.34 388.41 115.1 391.07 113.86 393.72 112.62 396.38 111.39 399.03 110.15 401.69 108.91 404.34 107.66 407 106.42 409.65 105.18 412.31 103.94 414.96 102.69 417.62 101.45 420.27 100.2 422.93 98.96 425.59 97.71 428.24 96.46 430.9 95.22 433.55 93.97 436.21 92.72 438.86 91.47 441.52 90.22 444.17 88.96 446.83 87.71 449.48 86.46 452.14 85.21 454.79 83.95 457.45 82.7 460.1 81.44 462.76 80.18 465.41 78.93 468.07 77.67 470.73 76.41 473.38 75.15 476.04 73.89 478.69 72.63 481.35 71.37 484 70.1 486.66 68.84 489.31 67.58 491.97 66.31 494.62 65.05 497.28 63.78 499.93 62.52 502.59 61.25 505.24 59.98 507.9 58.71" fill="none" stroke="#5a9f61" stroke-width="0.75" stroke-linejoin="round" opacity="0.85"/>
<path d="M383.1 119.57 385.65 118.41 388.2 117.24 390.75 116.07 393.3 114.9 395.85 113.74 398.39 112.57 400.94 111.4 403.49 110.23 406.04 109.05 408.59 107.88 411.14 106.71 413.69 105.54 416.24 104.36 418.79 103.19 421.34 102.01 423.89 100.84 426.43 99.66 428.98 98.48 431.53 97.3 434.08 96.13 436.63 94.95 439.18 93.77 441.73 92.59 444.28 91.4 446.83 90.22 449.38 89.04 451.93 87.86 454.47 86.67 457.02 85.49 459.57 84.3 462.12 83.12 464.67 81.93 467.22 80.74 469.77 79.56 472.32 78.37 474.87 77.18 477.42 75.99 479.97 74.85 482.52 74.47 485.06 74.1 487.61 73.72 490.16 73.35 492.71 72.97 495.26 72.59 497.81 72.21 500.36 71.84 502.91 71.46" fill="none" stroke="#519960" stroke-width="0.75" stroke-linejoin="round" opacity="0.85"/>
<path d="M383.1 118.57 385.69 117.38 388.28 116.18 390.87 114.99 393.46 113.79 396.04 112.59 398.63 111.39 401.22 110.2 403.81 109 406.4 107.8 408.99 106.6 411.58 105.39 414.17 104.19 416.76 102.99 419.35 101.79 421.93 100.58 424.52 99.38 427.11 98.17 429.7 96.96 432.29 95.76 434.88 94.55 437.47 93.34 440.06 92.13 442.65 90.92 445.23 89.71 447.82 88.5 450.41 87.29 453 86.08 455.59 84.86 458.18 83.65 460.77 82.44 463.36 81.22 465.95 80.01 468.53 78.79 471.12 77.57 473.71 76.35 476.3 75.14 478.89 73.92 481.48 72.7 484.07 71.48 486.66 70.26 489.25 69.03 491.84 67.81 494.42 66.59 497.01 65.36 499.6 64.14 502.19 62.92 504.78 61.69" fill="none" stroke="#6aa964" stroke-width="0.75" stroke-linejoin="round" opacity="0.85"/>
<path d="M383.1 120.57 385.62 119.43 388.15 118.28 390.67 117.14 393.19 115.99 395.71 114.85 398.24 113.7 400.76 112.55 403.28 111.4 405.8 110.25 408.33 109.11 410.85 107.95 413.37 106.8 415.89 105.65 418.42 104.5 420.94 103.35 423.46 102.19 425.98 101.04 428.51 99.88 431.03 98.73 433.55 97.57 436.07 96.42 438.6 95.26 441.12 94.1 443.64 92.94 446.16 91.78 448.69 90.62 451.21 89.46 453.73 88.3 456.25 87.14 458.78 85.98 461.3 84.81 463.82 83.65 466.34 82.49 468.87 81.32 471.39 80.15 473.91 78.99 476.43 77.82 478.96 76.65 481.48 75.49 484 74.32 486.52 73.15 489.05 71.98 491.57 70.81 494.09 69.63 496.61 68.46 499.14 67.29 501.66 66.12" fill="none" stroke="#5da162" stroke-width="0.75" stroke-linejoin="round" opacity="0.85"/>
<path d="M383.1 121.07 385.76 119.81 388.41 118.54 391.07 117.27 393.72 116 396.38 114.73 399.03 113.45 401.69 112.18 404.34 110.91 407 109.64 409.65 108.36 412.31 107.09 414.96 105.81 417.62 104.53 420.27 103.26 422.93 101.98 425.59 100.7 428.24 99.42 430.9 98.14 433.55 96.86 436.21 95.58 438.86 94.3 441.52 93.01 444.17 91.73 446.83 90.45 449.48 89.16 452.14 87.88 454.79 86.59 457.45 85.3 460.1 84.01 462.76 82.73 465.41 81.44 468.07 80.15 470.73 78.86 473.38 77.56 476.04 76.27 478.69 74.98 481.35 73.69 484 72.39 486.66 71.1 489.31 69.8 491.97 68.5 494.62 67.21 497.28 65.91 499.93 64.61 502.59 63.31 505.24 62.01 507.9 60.71" fill="none" stroke="#70ac65" stroke-width="0.75" stroke-linejoin="round" opacity="0.85"/>
<path d="M383.1 109.57 385.76 108.25 388.41 106.93 391.07 105.61 393.72 104.28 396.38 102.96 399.03 101.64 401.69 100.31 404.34 98.98 407 97.66 409.65 96.33 412.31 95 414.96 93.67 417.62 92.34 420.27 91.01 422.93 89.68 425.59 88.35 428.24 87.02 430.9 85.68 433.55 84.35 436.21 83.02 438.86 81.68 441.52 80.34 444.17 79.01 446.83 77.67 449.48 76.33 452.14 74.99 454.79 73.65 457.45 72.31 460.1 70.97 462.76 69.63 465.41 68.29 468.07 66.94 470.73 65.6 473.38 64.26 476.04 62.91 478.69 61.56 481.35 60.22 484 58.87 486.66 57.52 489.31 56.17 491.97 54.82 494.62 53.47 497.28 52.12 499.93 50.77 502.59 49.42 505.24 48.07 507.9 46.71" fill="none" stroke="#afd26f" stroke-width="0.75" stroke-linejoin="round" opacity="0.85"/>
<path d="M383.1 107.57 385.76 106.28 388.41 104.99 391.07 103.7 393.72 102.41 396.38 101.12 399.03 99.83 401.69 98.53 404.34 97.24 407 95.94 409.65 94.65 412.31 93.35 414.96 92.06 417.62 90.76 420.27 89.46 422.93 88.16 425.59 86.86 428.24 85.56 430.9 84.26 433.55 82.96 436.21 81.65 438.86 80.35 441.52 79.05 444.17 77.74 446.83 76.44 449.48 75.13 452.14 73.82 454.79 72.51 457.45 71.21 460.1 69.9 462.76 68.59 465.41 67.28 468.07 65.97 470.73 64.65 473.38 63.34 476.04 62.03 478.69 60.71 481.35 59.4 484 58.08 486.66 56.77 489.31 55.45 491.97 54.13 494.62 52.81 497.28 51.49 499.93 50.17 502.59 48.85 505.24 47.53 507.9 46.21" fill="none" stroke="#96c36b" stroke-width="0.75" stroke-linejoin="round" opacity="0.85"/>
<path d="M383.1 111.57 385.76 110.24 388.41 108.91 391.07 107.58 393.72 106.24 396.38 104.91 399.03 103.57 401.69 102.24 404.34 100.9 407 99.56 409.65 98.22 412.31 96.88 414.96 95.54 417.62 94.2 420.27 92.86 422.93 91.52 425.59 90.18 428.24 88.84 430.9 87.49 433.55 86.15 436.21 84.8 438.86 83.46 441.52 82.11 444.17 80.76 446.83 79.41 449.48 78.07 452.14 76.72 454.79 75.37 457.45 74.01 460.1 72.66 462.76 71.31 465.41 69.96 468.07 68.6 470.73 67.25 473.38 65.89 476.04 64.54 478.69 63.18 481.35 61.82 484 60.47 486.66 59.11 489.31 57.75 491.97 56.39 494.62 55.03 497.28 53.66 499.93 52.3 502.59 50.94 505.24 49.58 507.9 48.21" fill="none" stroke="#bbda71" stroke-width="0.75" stroke-linejoin="round" opacity="0.85"/>
<path d="M383.1 114.57 387.4 112.4 391.71 110.22 396.01 108.04 400.31 105.86 404.62 103.67 408.92 101.49 413.22 99.3 417.53 97.11 421.83 94.92 426.13 92.73 430.44 90.53 434.74 88.34 439.04 86.14 443.35 83.94 447.65 81.74 451.96 79.53 456.26 77.33 460.56 75.12 464.87 72.91 469.17 70.7 473.47 68.48 477.78 66.27 482.08 64.05 486.38 61.83 490.69 59.61 494.99 57.39 499.29 55.17 503.6 52.94 507.9 50.71" fill="none" stroke="#d80000" stroke-width="2" stroke-linejoin="round" />
<line x1="412.87" y1="62.97" x2="507.9" y2="8.67" stroke="#555" stroke-width="0.9" stroke-dasharray="3 2"/>
<line x1="412.87" y1="142.79" x2="507.9" y2="115.64" stroke="#555" stroke-width="0.9" stroke-dasharray="3 2"/>
</g>
<rect x="383.1" y="26.5" width="124.8" height="124.8" fill="none" stroke="#1c1c1c" stroke-width="1.2"/>
<path d="M401.88 151.3v-1.8M401.88 26.5v1.8M412.87 151.3v-1.8M412.87 26.5v1.8M420.67 151.3v-1.8M420.67 26.5v1.8M426.72 151.3v-1.8M426.72 26.5v1.8M431.66 151.3v-1.8M431.66 26.5v1.8M435.83 151.3v-1.8M435.83 26.5v1.8M439.45 151.3v-1.8M439.45 26.5v1.8M442.64 151.3v-1.8M442.64 26.5v1.8M445.5 151.3v-3M445.5 26.5v3M464.28 151.3v-1.8M464.28 26.5v1.8M475.27 151.3v-1.8M475.27 26.5v1.8M483.07 151.3v-1.8M483.07 26.5v1.8M489.12 151.3v-1.8M489.12 26.5v1.8M494.06 151.3v-1.8M494.06 26.5v1.8M498.23 151.3v-1.8M498.23 26.5v1.8M501.85 151.3v-1.8M501.85 26.5v1.8M505.04 151.3v-1.8M505.04 26.5v1.8M383.1 145.93h1.8M507.9 145.93h-1.8M383.1 142.79h1.8M507.9 142.79h-1.8M383.1 140.57h1.8M507.9 140.57h-1.8M383.1 138.84h1.8M507.9 138.84h-1.8M383.1 137.43h1.8M507.9 137.43h-1.8M383.1 136.23h1.8M507.9 136.23h-1.8M383.1 135.2h1.8M507.9 135.2h-1.8M383.1 134.29h1.8M507.9 134.29h-1.8M383.1 133.47h1.8M507.9 133.47h-1.8M383.1 128.1h1.8M507.9 128.1h-1.8M383.1 124.97h1.8M507.9 124.97h-1.8M383.1 122.74h1.8M507.9 122.74h-1.8M383.1 121.01h1.8M507.9 121.01h-1.8M383.1 119.6h1.8M507.9 119.6h-1.8M383.1 118.4h1.8M507.9 118.4h-1.8M383.1 117.37h1.8M507.9 117.37h-1.8M383.1 116.46h1.8M507.9 116.46h-1.8M383.1 115.64h3M507.9 115.64h-3M383.1 110.28h1.8M507.9 110.28h-1.8M383.1 107.14h1.8M507.9 107.14h-1.8M383.1 104.91h1.8M507.9 104.91h-1.8M383.1 103.18h1.8M507.9 103.18h-1.8M383.1 101.77h1.8M507.9 101.77h-1.8M383.1 100.58h1.8M507.9 100.58h-1.8M383.1 99.54h1.8M507.9 99.54h-1.8M383.1 98.63h1.8M507.9 98.63h-1.8M383.1 97.81h1.8M507.9 97.81h-1.8M383.1 92.45h1.8M507.9 92.45h-1.8M383.1 89.31h1.8M507.9 89.31h-1.8M383.1 87.08h1.8M507.9 87.08h-1.8M383.1 85.35h1.8M507.9 85.35h-1.8M383.1 83.94h1.8M507.9 83.94h-1.8M383.1 82.75h1.8M507.9 82.75h-1.8M383.1 81.71h1.8M507.9 81.71h-1.8M383.1 80.8h1.8M507.9 80.8h-1.8M383.1 79.99h3M507.9 79.99h-3M383.1 74.62h1.8M507.9 74.62h-1.8M383.1 71.48h1.8M507.9 71.48h-1.8M383.1 69.25h1.8M507.9 69.25h-1.8M383.1 67.52h1.8M507.9 67.52h-1.8M383.1 66.11h1.8M507.9 66.11h-1.8M383.1 64.92h1.8M507.9 64.92h-1.8M383.1 63.88h1.8M507.9 63.88h-1.8M383.1 62.97h1.8M507.9 62.97h-1.8M383.1 62.16h1.8M507.9 62.16h-1.8M383.1 56.79h1.8M507.9 56.79h-1.8M383.1 53.65h1.8M507.9 53.65h-1.8M383.1 51.42h1.8M507.9 51.42h-1.8M383.1 49.7h1.8M507.9 49.7h-1.8M383.1 48.28h1.8M507.9 48.28h-1.8M383.1 47.09h1.8M507.9 47.09h-1.8M383.1 46.06h1.8M507.9 46.06h-1.8M383.1 45.14h1.8M507.9 45.14h-1.8M383.1 44.33h3M507.9 44.33h-3M383.1 38.96h1.8M507.9 38.96h-1.8M383.1 35.82h1.8M507.9 35.82h-1.8M383.1 33.59h1.8M507.9 33.59h-1.8M383.1 31.87h1.8M507.9 31.87h-1.8M383.1 30.46h1.8M507.9 30.46h-1.8M383.1 29.26h1.8M507.9 29.26h-1.8M383.1 28.23h1.8M507.9 28.23h-1.8M383.1 27.32h1.8M507.9 27.32h-1.8" stroke="#1c1c1c" stroke-width="0.9" fill="none"/>
<path d="M356.38 157.8 357.49 157.8 357.49 148.65 356.47 148.65 354.41 150.14 354.41 151.24 356.38 149.77z" fill="#262626" stroke="#262626" stroke-width="0.28" stroke-linejoin="round"/><text x="360.23" y="157.8" font-size="13.3" fill="#262626" stroke="#262626" stroke-width="0.28" textLength="7.03" lengthAdjust="spacingAndGlyphs" >0</text>
<text x="367.65" y="151.2" font-size="10.2" fill="#262626" stroke="#262626" stroke-width="0.28" textLength="11.05" lengthAdjust="spacingAndGlyphs" >−2</text>
<path d="M362.03 122.14 363.15 122.14 363.15 112.99 362.13 112.99 360.07 114.48 360.07 115.58 362.03 114.11z" fill="#262626" stroke="#262626" stroke-width="0.28" stroke-linejoin="round"/><text x="365.88" y="122.14" font-size="13.3" fill="#262626" stroke="#262626" stroke-width="0.28" textLength="7.03" lengthAdjust="spacingAndGlyphs" >0</text>
<text x="373.31" y="115.54" font-size="10.2" fill="#262626" stroke="#262626" stroke-width="0.28" textLength="5.39" lengthAdjust="spacingAndGlyphs" >0</text>
<path d="M362.03 86.49 363.15 86.49 363.15 77.34 362.13 77.34 360.07 78.82 360.07 79.93 362.03 78.45z" fill="#262626" stroke="#262626" stroke-width="0.28" stroke-linejoin="round"/><text x="365.88" y="86.49" font-size="13.3" fill="#262626" stroke="#262626" stroke-width="0.28" textLength="7.03" lengthAdjust="spacingAndGlyphs" >0</text>
<text x="373.31" y="79.89" font-size="10.2" fill="#262626" stroke="#262626" stroke-width="0.28" textLength="5.39" lengthAdjust="spacingAndGlyphs" >2</text>
<path d="M362.03 50.83 363.15 50.83 363.15 41.68 362.13 41.68 360.07 43.17 360.07 44.27 362.03 42.8z" fill="#262626" stroke="#262626" stroke-width="0.28" stroke-linejoin="round"/><text x="365.88" y="50.83" font-size="13.3" fill="#262626" stroke="#262626" stroke-width="0.28" textLength="7.03" lengthAdjust="spacingAndGlyphs" >0</text>
<text x="373.31" y="44.23" font-size="10.2" fill="#262626" stroke="#262626" stroke-width="0.28" textLength="5.39" lengthAdjust="spacingAndGlyphs" >4</text>
<path d="M376.56 171.8 377.67 171.8 377.67 162.65 376.65 162.65 374.59 164.14 374.59 165.24 376.56 163.77z" fill="#262626" stroke="#262626" stroke-width="0.28" stroke-linejoin="round"/><text x="380.41" y="171.8" font-size="13.3" fill="#262626" stroke="#262626" stroke-width="0.28" textLength="7.03" lengthAdjust="spacingAndGlyphs" >0</text>
<text x="387.73" y="164.9" font-size="10.2" fill="#262626" stroke="#262626" stroke-width="0.28" textLength="5.39" lengthAdjust="spacingAndGlyphs" >0</text>
<path d="M438.96 171.8 440.07 171.8 440.07 162.65 439.05 162.65 436.99 164.14 436.99 165.24 438.96 163.77z" fill="#262626" stroke="#262626" stroke-width="0.28" stroke-linejoin="round"/><text x="442.81" y="171.8" font-size="13.3" fill="#262626" stroke="#262626" stroke-width="0.28" textLength="7.03" lengthAdjust="spacingAndGlyphs" >0</text>
<path d="M452.57 164.9 453.43 164.9 453.43 157.88 452.64 157.88 451.06 159.02 451.06 159.87 452.57 158.74z" fill="#262626" stroke="#262626" stroke-width="0.28" stroke-linejoin="round"/>
<path d="M501.36 171.8 502.47 171.8 502.47 162.65 501.45 162.65 499.39 164.14 499.39 165.24 501.36 163.77z" fill="#262626" stroke="#262626" stroke-width="0.28" stroke-linejoin="round"/><text x="505.21" y="171.8" font-size="13.3" fill="#262626" stroke="#262626" stroke-width="0.28" textLength="7.03" lengthAdjust="spacingAndGlyphs" >0</text>
<text x="512.53" y="164.9" font-size="10.2" fill="#262626" stroke="#262626" stroke-width="0.28" textLength="5.39" lengthAdjust="spacingAndGlyphs" >2</text>
<path d="M430.7 181.8Q431.3 180.35 432.7 180.35L439.1 180.35" fill="none" stroke="#000" stroke-width="1.45" stroke-linecap="round"/><path d="M435.25 180.6L433.75 187.3Q433.4 189.15 434.85 189.05Q436.25 188.9 437.05 187.1" fill="none" stroke="#000" stroke-width="1.85" stroke-linecap="round"/>
<text x="444" y="189.6" font-size="14.5" fill="#262626" stroke="#262626" stroke-width="0.25">[s]</text>
<text x="396.9" y="42.9" font-size="14.6" fill="#d7772f" stroke="#d7772f" stroke-width="0.3" textLength="27.91" lengthAdjust="spacingAndGlyphs">60%</text>
<g clip-path="url(#ca3)">
<path d="M548.5 104.9 550.46 103.8 552.42 102.7 554.38 101.6 556.33 100.49 558.29 99.39 560.25 98.29 562.21 97.18 564.17 96.07 566.13 94.97 568.08 93.86 570.04 92.75 572 91.65 573.96 90.54 575.92 89.43 577.88 88.32 579.84 87.21 581.79 86.1 583.75 84.98 585.71 83.87 587.67 82.76 589.63 81.64 591.59 80.53 593.54 79.42 595.5 78.3 597.46 77.18 599.42 76.07 601.38 74.95 603.34 73.83 605.3 72.71 607.25 71.59 609.21 70.47 611.17 69.35 613.13 68.23 615.09 67.11 617.05 65.99 619.01 64.87 620.96 63.74 622.92 62.62 624.88 61.49 626.84 60.37 628.8 59.24 630.76 58.11 632.71 56.99 634.67 55.86 636.63 54.73 638.59 53.6 640.55 52.47" fill="none" stroke="#a7ce6d" stroke-width="0.75" stroke-linejoin="round" opacity="0.85"/>
<path d="M548.5 103.94 550.98 102.55 553.46 101.16 555.94 99.77 558.42 98.37 560.9 96.98 563.38 95.59 565.86 94.19 568.33 92.8 570.81 91.4 573.29 90 575.77 88.6 578.25 87.2 580.73 85.8 583.21 84.4 585.69 83 588.17 81.59 590.65 80.19 593.13 78.78 595.61 77.38 598.09 75.97 600.57 74.56 603.04 73.15 605.52 71.74 608 70.33 610.48 68.91 612.96 67.5 615.44 66.09 617.92 64.67 620.4 63.25 622.88 61.84 625.36 60.42 627.84 59 630.32 57.58 632.8 56.15 635.28 54.73 637.76 53.31 640.23 51.88 642.71 50.46 645.19 49.03 647.67 47.6 650.15 46.18 652.63 44.75 655.11 43.32 657.59 41.88 660.07 40.45 662.55 39.02 665.03 37.58" fill="none" stroke="#93c26a" stroke-width="0.75" stroke-linejoin="round" opacity="0.85"/>
<path d="M548.5 106.62 550.83 105.32 553.16 104.02 555.49 102.73 557.82 101.43 560.15 100.13 562.48 98.83 564.81 97.52 567.14 96.22 569.47 94.92 571.8 93.61 574.13 92.31 576.46 91 578.79 89.7 581.12 88.39 583.45 87.08 585.78 85.77 588.11 84.46 590.44 83.15 592.77 81.84 595.1 80.52 597.43 79.21 599.76 77.9 602.09 76.58 604.42 75.26 606.75 73.95 609.08 72.63 611.41 71.31 613.74 69.99 616.07 68.67 618.4 67.35 620.73 66.02 623.06 64.7 625.39 63.38 627.72 62.05 630.05 60.73 632.38 59.4 634.71 58.07 637.04 56.74 639.37 55.41 641.7 54.08 644.03 52.75 646.36 51.42 648.69 50.09 651.02 48.75 653.35 47.42 655.68 46.08 658.01 44.75" fill="none" stroke="#9bc66b" stroke-width="0.75" stroke-linejoin="round" opacity="0.85"/>
<path d="M548.5 110.79 550.58 109.62 552.66 108.46 554.74 107.29 556.82 106.13 558.9 104.96 560.98 103.79 563.05 102.62 565.13 101.46 567.21 100.29 569.29 99.12 571.37 97.95 573.45 96.77 575.53 95.6 577.61 94.43 579.69 93.25 581.77 92.08 583.85 90.91 585.93 89.73 588 88.55 590.08 87.38 592.16 86.2 594.24 85.02 596.32 83.84 598.4 82.66 600.48 81.48 602.56 80.3 604.64 79.12 606.72 77.93 608.8 76.75 610.88 75.57 612.95 74.38 615.03 73.2 617.11 72.01 619.19 70.82 621.27 69.64 623.35 68.45 625.43 67.26 627.51 66.07 629.59 64.88 631.67 63.69 633.75 62.5 635.83 61.3 637.91 60.11 639.98 58.92 642.06 57.72 644.14 56.53 646.22 55.33" fill="none" stroke="#5ca061" stroke-width="0.75" stroke-linejoin="round" opacity="0.85"/>
<path d="M548.5 103.56 550.4 102.51 552.3 101.47 554.2 100.43 556.11 99.39 558.01 98.34 559.91 97.3 561.81 96.25 563.71 95.21 565.61 94.16 567.52 93.12 569.42 92.07 571.32 91.02 573.22 89.97 575.12 88.93 577.02 87.88 578.93 86.83 580.83 85.78 582.73 84.72 584.63 83.67 586.53 82.62 588.43 81.57 590.34 80.51 592.24 79.46 594.14 78.41 596.04 77.35 597.94 76.29 599.84 75.24 601.75 74.18 603.65 73.12 605.55 72.07 607.45 71.01 609.35 69.95 611.25 68.89 613.16 67.83 615.06 66.77 616.96 65.71 618.86 64.64 620.76 63.58 622.66 62.52 624.57 61.45 626.47 60.39 628.37 59.32 630.27 58.26 632.17 57.19 634.07 56.13 635.98 55.06 637.88 53.99" fill="none" stroke="#92c16a" stroke-width="0.75" stroke-linejoin="round" opacity="0.85"/>
<path d="M548.5 103.4 550.35 102.39 552.19 101.37 554.04 100.36 555.89 99.34 557.74 98.33 559.58 97.31 561.43 96.29 563.28 95.27 565.13 94.25 566.97 93.24 568.82 92.22 570.67 91.2 572.51 90.17 574.36 89.15 576.21 88.13 578.06 87.11 579.9 86.09 581.75 85.06 583.6 84.04 585.44 83.01 587.29 81.99 589.14 80.96 590.99 79.94 592.83 78.91 594.68 77.88 596.53 76.85 598.38 75.83 600.22 74.8 602.07 73.77 603.92 72.74 605.76 71.71 607.61 70.68 609.46 69.64 611.31 68.61 613.15 67.58 615 66.55 616.85 65.51 618.69 64.48 620.54 63.44 622.39 62.41 624.24 61.37 626.08 60.33 627.93 59.3 629.78 58.26 631.63 57.22 633.47 56.18 635.32 55.14" fill="none" stroke="#76b065" stroke-width="0.75" stroke-linejoin="round" opacity="0.85"/>
<path d="M548.5 106.36 550.36 105.31 552.22 104.27 554.08 103.22 555.94 102.17 557.8 101.12 559.66 100.07 561.52 99.02 563.38 97.97 565.24 96.92 567.1 95.87 568.96 94.82 570.82 93.77 572.68 92.71 574.54 91.66 576.39 90.6 578.25 89.55 580.11 88.49 581.97 87.44 583.83 86.38 585.69 85.33 587.55 84.27 589.41 83.21 591.27 82.15 593.13 81.09 594.99 80.03 596.85 78.97 598.71 77.91 600.57 76.85 602.43 75.79 604.29 74.72 606.15 73.66 608.01 72.6 609.87 71.53 611.73 70.47 613.59 69.4 615.45 68.34 617.31 67.27 619.17 66.2 621.03 65.14 622.89 64.07 624.75 63 626.61 61.93 628.47 60.86 630.32 59.79 632.18 58.72 634.04 57.65 635.9 56.57" fill="none" stroke="#589e61" stroke-width="0.75" stroke-linejoin="round" opacity="0.85"/>
<path d="M548.5 103.18 550.18 102.25 551.86 101.32 553.54 100.38 555.22 99.45 556.9 98.52 558.58 97.59 560.26 96.66 561.94 95.72 563.62 94.79 565.3 93.85 566.98 92.92 568.66 91.98 570.35 91.05 572.03 90.11 573.71 89.17 575.39 88.24 577.07 87.3 578.75 86.36 580.43 85.42 582.11 84.48 583.79 83.55 585.47 82.61 587.15 81.67 588.83 80.72 590.51 79.78 592.19 78.84 593.87 77.9 595.55 76.96 597.23 76.01 598.91 75.07 600.59 74.13 602.27 73.18 603.95 72.24 605.63 71.29 607.31 70.35 608.99 69.4 610.68 68.45 612.36 67.51 614.04 66.56 615.72 65.61 617.4 64.66 619.08 63.71 620.76 62.76 622.44 61.82 624.12 60.86 625.8 59.91 627.48 58.96" fill="none" stroke="#72ad65" stroke-width="0.75" stroke-linejoin="round" opacity="0.85"/>
<path d="M548.5 106.78 550.4 105.73 552.31 104.67 554.21 103.62 556.12 102.56 558.02 101.51 559.93 100.45 561.83 99.39 563.74 98.33 565.64 97.27 567.55 96.22 569.45 95.16 571.36 94.09 573.26 93.03 575.17 91.97 577.07 90.91 578.98 89.85 580.88 88.78 582.79 87.72 584.69 86.65 586.6 85.59 588.5 84.52 590.41 83.46 592.31 82.39 594.22 81.32 596.12 80.25 598.03 79.19 599.93 78.12 601.84 77.05 603.74 75.98 605.65 74.91 607.55 73.83 609.46 72.76 611.36 71.69 613.27 70.62 615.17 69.54 617.08 68.47 618.98 67.39 620.89 66.32 622.79 65.24 624.7 64.16 626.6 63.09 628.51 62.01 630.41 60.93 632.32 59.85 634.22 58.77 636.13 57.69 638.03 56.61" fill="none" stroke="#69a863" stroke-width="0.75" stroke-linejoin="round" opacity="0.85"/>
<path d="M548.5 108.47 550.28 107.47 552.06 106.47 553.85 105.48 555.63 104.47 557.41 103.47 559.19 102.47 560.98 101.47 562.76 100.47 564.54 99.47 566.32 98.46 568.11 97.46 569.89 96.45 571.67 95.45 573.45 94.44 575.24 93.44 577.02 92.43 578.8 91.42 580.58 90.42 582.36 89.41 584.15 88.4 585.93 87.39 587.71 86.38 589.49 85.37 591.28 84.36 593.06 83.35 594.84 82.34 596.62 81.33 598.41 80.31 600.19 79.3 601.97 78.29 603.75 77.27 605.53 76.26 607.32 75.24 609.1 74.23 610.88 73.21 612.66 72.19 614.45 71.18 616.23 70.16 618.01 69.14 619.79 68.12 621.58 67.1 623.36 66.08 625.14 65.06 626.92 64.04 628.71 63.02 630.49 62 632.27 60.98" fill="none" stroke="#a5cd6d" stroke-width="0.75" stroke-linejoin="round" opacity="0.85"/>
<path d="M548.5 110.97 550.65 109.76 552.8 108.55 554.94 107.34 557.09 106.13 559.24 104.92 561.39 103.71 563.54 102.5 565.69 101.28 567.83 100.07 569.98 98.85 572.13 97.64 574.28 96.42 576.43 95.21 578.58 93.99 580.72 92.77 582.87 91.55 585.02 90.33 587.17 89.11 589.32 87.89 591.46 86.67 593.61 85.44 595.76 84.22 597.91 82.99 600.06 81.77 602.21 80.54 604.35 79.32 606.5 78.09 608.65 76.86 610.8 75.63 612.95 74.4 615.1 73.17 617.24 71.94 619.39 70.71 621.54 69.48 623.69 68.24 625.84 67.01 627.98 65.77 630.13 64.54 632.28 63.3 634.43 62.07 636.58 60.83 638.73 59.59 640.87 58.35 643.02 57.11 645.17 55.87 647.32 54.63 649.47 53.39" fill="none" stroke="#5da162" stroke-width="0.75" stroke-linejoin="round" opacity="0.85"/>
<path d="M548.5 110.92 550.31 109.92 552.12 108.92 553.93 107.92 555.74 106.92 557.56 105.91 559.37 104.91 561.18 103.91 562.99 102.9 564.8 101.9 566.61 100.89 568.42 99.89 570.23 98.88 572.04 97.88 573.86 96.87 575.67 95.86 577.48 94.85 579.29 93.84 581.1 92.84 582.91 91.83 584.72 90.81 586.53 89.8 588.34 88.79 590.15 87.78 591.97 86.77 593.78 85.76 595.59 84.74 597.4 83.73 599.21 82.71 601.02 81.7 602.83 80.68 604.64 79.67 606.45 78.65 608.27 77.63 610.08 76.61 611.89 75.6 613.7 74.58 615.51 73.56 617.32 72.54 619.13 71.52 620.94 70.5 622.75 69.48 624.57 68.45 626.38 67.43 628.19 66.41 630 65.39 631.81 64.36 633.62 63.34" fill="none" stroke="#8dbe69" stroke-width="0.75" stroke-linejoin="round" opacity="0.85"/>
<path d="M548.5 104.32 550.49 103.19 552.47 102.07 554.46 100.94 556.45 99.82 558.43 98.69 560.42 97.57 562.41 96.44 564.39 95.31 566.38 94.18 568.37 93.05 570.35 91.92 572.34 90.79 574.33 89.66 576.31 88.53 578.3 87.4 580.29 86.26 582.27 85.13 584.26 83.99 586.24 82.86 588.23 81.72 590.22 80.59 592.2 79.45 594.19 78.31 596.18 77.17 598.16 76.04 600.15 74.9 602.14 73.76 604.12 72.61 606.11 71.47 608.1 70.33 610.08 69.19 612.07 68.05 614.06 66.9 616.04 65.76 618.03 64.61 620.02 63.47 622 62.32 623.99 61.17 625.98 60.02 627.96 58.88 629.95 57.73 631.94 56.58 633.92 55.43 635.91 54.28 637.9 53.13 639.88 51.97 641.87 50.82" fill="none" stroke="#a1ca6c" stroke-width="0.75" stroke-linejoin="round" opacity="0.85"/>
<path d="M548.5 111.02 550.61 109.83 552.71 108.64 554.82 107.45 556.92 106.25 559.03 105.06 561.13 103.86 563.24 102.67 565.35 101.47 567.45 100.27 569.56 99.08 571.66 97.88 573.77 96.68 575.87 95.48 577.98 94.28 580.09 93.08 582.19 91.88 584.3 90.67 586.4 89.47 588.51 88.27 590.61 87.06 592.72 85.86 594.83 84.65 596.93 83.44 599.04 82.23 601.14 81.03 603.25 79.82 605.35 78.61 607.46 77.4 609.57 76.19 611.67 74.97 613.78 73.76 615.88 72.55 617.99 71.33 620.09 70.12 622.2 68.9 624.31 67.69 626.41 66.47 628.52 65.25 630.62 64.04 632.73 62.82 634.83 61.6 636.94 60.38 639.05 59.16 641.15 57.93 643.26 56.71 645.36 55.49 647.47 54.26" fill="none" stroke="#a6cd6d" stroke-width="0.75" stroke-linejoin="round" opacity="0.85"/>
<path d="M548.5 111.01 550.32 109.98 552.13 108.96 553.95 107.94 555.77 106.91 557.58 105.89 559.4 104.86 561.22 103.84 563.03 102.81 564.85 101.78 566.67 100.75 568.48 99.73 570.3 98.7 572.12 97.67 573.93 96.64 575.75 95.61 577.57 94.58 579.38 93.55 581.2 92.51 583.02 91.48 584.83 90.45 586.65 89.42 588.47 88.38 590.29 87.35 592.1 86.31 593.92 85.28 595.74 84.24 597.55 83.2 599.37 82.17 601.19 81.13 603 80.09 604.82 79.05 606.64 78.01 608.45 76.97 610.27 75.93 612.09 74.89 613.9 73.85 615.72 72.81 617.54 71.77 619.35 70.72 621.17 69.68 622.99 68.64 624.8 67.59 626.62 66.55 628.44 65.5 630.25 64.46 632.07 63.41 633.89 62.36" fill="none" stroke="#67a763" stroke-width="0.75" stroke-linejoin="round" opacity="0.85"/>
<path d="M548.5 107.27 550.6 106.08 552.71 104.9 554.81 103.71 556.91 102.53 559.02 101.34 561.12 100.15 563.23 98.96 565.33 97.77 567.43 96.58 569.54 95.39 571.64 94.2 573.74 93.01 575.85 91.82 577.95 90.63 580.06 89.43 582.16 88.24 584.26 87.04 586.37 85.85 588.47 84.65 590.57 83.45 592.68 82.25 594.78 81.06 596.89 79.86 598.99 78.66 601.09 77.46 603.2 76.25 605.3 75.05 607.4 73.85 609.51 72.64 611.61 71.44 613.71 70.24 615.82 69.03 617.92 67.82 620.03 66.62 622.13 65.41 624.23 64.2 626.34 62.99 628.44 61.78 630.54 60.57 632.65 59.36 634.75 58.14 636.86 56.93 638.96 55.72 641.06 54.5 643.17 53.29 645.27 52.07 647.37 50.86" fill="none" stroke="#99c56b" stroke-width="0.75" stroke-linejoin="round" opacity="0.85"/>
<path d="M548.5 103.74 551.03 102.32 553.55 100.89 556.08 99.47 558.61 98.04 561.13 96.62 563.66 95.19 566.19 93.76 568.72 92.34 571.24 90.91 573.77 89.47 576.3 88.04 578.82 86.61 581.35 85.18 583.88 83.74 586.4 82.31 588.93 80.87 591.46 79.43 593.98 77.99 596.51 76.55 599.04 75.11 601.57 73.67 604.09 72.22 606.62 70.78 609.15 69.34 611.67 67.89 614.2 66.44 616.73 64.99 619.25 63.54 621.78 62.09 624.31 60.64 626.84 59.19 629.36 57.74 631.89 56.28 634.42 54.83 636.94 53.37 639.47 51.91 642 50.45 644.52 48.99 647.05 47.53 649.58 46.07 652.1 44.61 654.63 43.15 657.16 41.68 659.69 40.22 662.21 38.75 664.74 37.28 667.27 35.81" fill="none" stroke="#9dc86c" stroke-width="0.75" stroke-linejoin="round" opacity="0.85"/>
<path d="M548.5 108.54 550.22 107.59 551.93 106.65 553.65 105.7 555.37 104.75 557.09 103.8 558.8 102.85 560.52 101.91 562.24 100.96 563.95 100.01 565.67 99.06 567.39 98.1 569.1 97.15 570.82 96.2 572.54 95.25 574.26 94.29 575.97 93.34 577.69 92.39 579.41 91.43 581.12 90.48 582.84 89.52 584.56 88.57 586.27 87.61 587.99 86.65 589.71 85.7 591.43 84.74 593.14 83.78 594.86 82.82 596.58 81.86 598.29 80.9 600.01 79.94 601.73 78.98 603.44 78.02 605.16 77.06 606.88 76.1 608.6 75.13 610.31 74.17 612.03 73.21 613.75 72.24 615.46 71.28 617.18 70.32 618.9 69.35 620.61 68.38 622.33 67.42 624.05 66.45 625.77 65.48 627.48 64.52 629.2 63.55" fill="none" stroke="#aad06e" stroke-width="0.75" stroke-linejoin="round" opacity="0.85"/>
<path d="M548.5 104.81 550.72 103.58 552.94 102.35 555.17 101.11 557.39 99.88 559.61 98.64 561.83 97.41 564.06 96.17 566.28 94.94 568.5 93.7 570.72 92.46 572.95 91.22 575.17 89.98 577.39 88.74 579.61 87.5 581.84 86.26 584.06 85.01 586.28 83.77 588.5 82.52 590.73 81.28 592.95 80.03 595.17 78.79 597.39 77.54 599.62 76.29 601.84 75.04 604.06 73.79 606.28 72.54 608.51 71.29 610.73 70.03 612.95 68.78 615.17 67.53 617.4 66.27 619.62 65.01 621.84 63.76 624.06 62.5 626.29 61.24 628.51 59.98 630.73 58.72 632.95 57.46 635.18 56.2 637.4 54.94 639.62 53.68 641.84 52.41 644.07 51.15 646.29 49.88 648.51 48.62 650.73 47.35 652.96 46.08" fill="none" stroke="#99c56b" stroke-width="0.75" stroke-linejoin="round" opacity="0.85"/>
<path d="M548.5 105.81 550.66 104.61 552.82 103.42 554.98 102.22 557.14 101.02 559.29 99.82 561.45 98.62 563.61 97.42 565.77 96.22 567.93 95.02 570.09 93.81 572.25 92.61 574.41 91.41 576.57 90.2 578.72 89 580.88 87.79 583.04 86.58 585.2 85.37 587.36 84.16 589.52 82.96 591.68 81.74 593.84 80.53 596 79.32 598.15 78.11 600.31 76.9 602.47 75.68 604.63 74.47 606.79 73.25 608.95 72.04 611.11 70.82 613.27 69.6 615.43 68.38 617.59 67.16 619.74 65.94 621.9 64.72 624.06 63.5 626.22 62.28 628.38 61.06 630.54 59.83 632.7 58.61 634.86 57.38 637.02 56.16 639.17 54.93 641.33 53.7 643.49 52.47 645.65 51.25 647.81 50.02 649.97 48.79" fill="none" stroke="#77b166" stroke-width="0.75" stroke-linejoin="round" opacity="0.85"/>
<path d="M548.5 106.81 550.81 105.53 553.13 104.24 555.44 102.96 557.75 101.68 560.06 100.39 562.38 99.11 564.69 97.82 567 96.53 569.32 95.25 571.63 93.96 573.94 92.67 576.25 91.38 578.57 90.08 580.88 88.79 583.19 87.5 585.51 86.2 587.82 84.91 590.13 83.61 592.44 82.32 594.76 81.02 597.07 79.72 599.38 78.42 601.69 77.12 604.01 75.82 606.32 74.52 608.63 73.21 610.95 71.91 613.26 70.61 615.57 69.3 617.88 67.99 620.2 66.69 622.51 65.38 624.82 64.07 627.14 62.76 629.45 61.45 631.76 60.14 634.07 58.83 636.39 57.51 638.7 56.2 641.01 54.88 643.33 53.57 645.64 52.25 647.95 50.93 650.26 49.62 652.58 48.3 654.89 46.98 657.2 45.66" fill="none" stroke="#7bb366" stroke-width="0.75" stroke-linejoin="round" opacity="0.85"/>
<path d="M548.5 102.01 551.16 100.54 553.81 99.06 556.47 97.59 559.12 96.11 561.78 94.63 564.43 93.15 567.09 91.67 569.74 90.19 572.4 88.71 575.05 87.22 577.71 85.74 580.36 84.25 583.02 82.77 585.67 81.28 588.33 79.79 590.99 78.3 593.64 76.81 596.3 75.32 598.95 73.82 601.61 72.33 604.26 70.83 606.92 69.33 609.57 67.84 612.23 66.34 614.88 64.84 617.54 63.33 620.19 61.83 622.85 60.33 625.5 58.82 628.16 57.32 630.81 55.81 633.47 54.3 636.13 52.79 638.78 51.28 641.44 49.77 644.09 48.26 646.75 46.74 649.4 45.23 652.06 43.71 654.71 42.19 657.37 40.67 660.02 39.16 662.68 37.63 665.33 36.11 667.99 34.59 670.64 33.07 673.3 31.54" fill="none" stroke="#c1de72" stroke-width="0.75" stroke-linejoin="round" opacity="0.85"/>
<path d="M548.5 102.61 551.16 101.15 553.81 99.7 556.47 98.24 559.12 96.79 561.78 95.33 564.43 93.87 567.09 92.41 569.74 90.94 572.4 89.48 575.05 88.02 577.71 86.55 580.36 85.08 583.02 83.62 585.67 82.15 588.33 80.68 590.99 79.21 593.64 77.73 596.3 76.26 598.95 74.79 601.61 73.31 604.26 71.83 606.92 70.36 609.57 68.88 612.23 67.4 614.88 65.91 617.54 64.43 620.19 62.95 622.85 61.46 625.5 59.98 628.16 58.49 630.81 57 633.47 55.51 636.13 54.02 638.78 52.53 641.44 51.04 644.09 49.55 646.75 48.05 649.4 46.55 652.06 45.06 654.71 43.56 657.37 42.06 660.02 40.56 662.68 39.06 665.33 37.56 667.99 36.05 670.64 34.55 673.3 33.04" fill="none" stroke="#b5d670" stroke-width="0.75" stroke-linejoin="round" opacity="0.85"/>
<path d="M548.5 104.41 551.16 102.92 553.81 101.43 556.47 99.94 559.12 98.45 561.78 96.96 564.43 95.46 567.09 93.97 569.74 92.47 572.4 90.97 575.05 89.48 577.71 87.98 580.36 86.48 583.02 84.97 585.67 83.47 588.33 81.97 590.99 80.46 593.64 78.95 596.3 77.45 598.95 75.94 601.61 74.43 604.26 72.92 606.92 71.41 609.57 69.89 612.23 68.38 614.88 66.86 617.54 65.35 620.19 63.83 622.85 62.31 625.5 60.79 628.16 59.27 630.81 57.75 633.47 56.22 636.13 54.7 638.78 53.17 641.44 51.65 644.09 50.12 646.75 48.59 649.4 47.06 652.06 45.53 654.71 44 657.37 42.46 660.02 40.93 662.68 39.39 665.33 37.86 667.99 36.32 670.64 34.78 673.3 33.24" fill="none" stroke="#a2cb6d" stroke-width="0.75" stroke-linejoin="round" opacity="0.85"/>
<path d="M548.5 105.11 551.09 103.65 553.68 102.2 556.27 100.74 558.86 99.28 561.44 97.82 564.03 96.36 566.62 94.9 569.21 93.44 571.8 91.97 574.39 90.51 576.98 89.04 579.57 87.58 582.16 86.11 584.75 84.64 587.33 83.17 589.92 81.7 592.51 80.22 595.1 78.75 597.69 77.28 600.28 75.8 602.87 74.32 605.46 72.85 608.05 71.37 610.63 69.89 613.22 68.41 615.81 66.93 618.4 65.44 620.99 63.96 623.58 62.47 626.17 60.99 628.76 59.5 631.35 58.01 633.93 56.52 636.52 55.03 639.11 53.54 641.7 52.05 644.29 50.55 646.88 49.06 649.47 47.56 652.06 46.06 654.65 44.57 657.24 43.07 659.82 41.57 662.41 40.07 665 38.56 667.59 37.06 670.18 35.55" fill="none" stroke="#bbda71" stroke-width="0.75" stroke-linejoin="round" opacity="0.85"/>
<path d="M548.5 103.61 552.8 101.21 557.11 98.8 561.41 96.39 565.71 93.98 570.02 91.57 574.32 89.15 578.62 86.73 582.93 84.31 587.23 81.88 591.53 79.45 595.84 77.02 600.14 74.59 604.44 72.15 608.75 69.71 613.05 67.26 617.36 64.82 621.66 62.37 625.96 59.92 630.27 57.46 634.57 55 638.87 52.54 643.18 50.07 647.48 47.61 651.78 45.14 656.09 42.66 660.39 40.19 664.69 37.71 669 35.23 673.3 32.74" fill="none" stroke="#d80000" stroke-width="2" stroke-linejoin="round" />
<line x1="578.27" y1="62.97" x2="673.3" y2="8.67" stroke="#555" stroke-width="0.9" stroke-dasharray="3 2"/>
<line x1="578.27" y1="142.79" x2="673.3" y2="115.64" stroke="#555" stroke-width="0.9" stroke-dasharray="3 2"/>
</g>
<rect x="548.5" y="26.5" width="124.8" height="124.8" fill="none" stroke="#1c1c1c" stroke-width="1.2"/>
<path d="M567.28 151.3v-1.8M567.28 26.5v1.8M578.27 151.3v-1.8M578.27 26.5v1.8M586.07 151.3v-1.8M586.07 26.5v1.8M592.12 151.3v-1.8M592.12 26.5v1.8M597.06 151.3v-1.8M597.06 26.5v1.8M601.23 151.3v-1.8M601.23 26.5v1.8M604.85 151.3v-1.8M604.85 26.5v1.8M608.04 151.3v-1.8M608.04 26.5v1.8M610.9 151.3v-3M610.9 26.5v3M629.68 151.3v-1.8M629.68 26.5v1.8M640.67 151.3v-1.8M640.67 26.5v1.8M648.47 151.3v-1.8M648.47 26.5v1.8M654.52 151.3v-1.8M654.52 26.5v1.8M659.46 151.3v-1.8M659.46 26.5v1.8M663.63 151.3v-1.8M663.63 26.5v1.8M667.25 151.3v-1.8M667.25 26.5v1.8M670.44 151.3v-1.8M670.44 26.5v1.8M548.5 145.93h1.8M673.3 145.93h-1.8M548.5 142.79h1.8M673.3 142.79h-1.8M548.5 140.57h1.8M673.3 140.57h-1.8M548.5 138.84h1.8M673.3 138.84h-1.8M548.5 137.43h1.8M673.3 137.43h-1.8M548.5 136.23h1.8M673.3 136.23h-1.8M548.5 135.2h1.8M673.3 135.2h-1.8M548.5 134.29h1.8M673.3 134.29h-1.8M548.5 133.47h1.8M673.3 133.47h-1.8M548.5 128.1h1.8M673.3 128.1h-1.8M548.5 124.97h1.8M673.3 124.97h-1.8M548.5 122.74h1.8M673.3 122.74h-1.8M548.5 121.01h1.8M673.3 121.01h-1.8M548.5 119.6h1.8M673.3 119.6h-1.8M548.5 118.4h1.8M673.3 118.4h-1.8M548.5 117.37h1.8M673.3 117.37h-1.8M548.5 116.46h1.8M673.3 116.46h-1.8M548.5 115.64h3M673.3 115.64h-3M548.5 110.28h1.8M673.3 110.28h-1.8M548.5 107.14h1.8M673.3 107.14h-1.8M548.5 104.91h1.8M673.3 104.91h-1.8M548.5 103.18h1.8M673.3 103.18h-1.8M548.5 101.77h1.8M673.3 101.77h-1.8M548.5 100.58h1.8M673.3 100.58h-1.8M548.5 99.54h1.8M673.3 99.54h-1.8M548.5 98.63h1.8M673.3 98.63h-1.8M548.5 97.81h1.8M673.3 97.81h-1.8M548.5 92.45h1.8M673.3 92.45h-1.8M548.5 89.31h1.8M673.3 89.31h-1.8M548.5 87.08h1.8M673.3 87.08h-1.8M548.5 85.35h1.8M673.3 85.35h-1.8M548.5 83.94h1.8M673.3 83.94h-1.8M548.5 82.75h1.8M673.3 82.75h-1.8M548.5 81.71h1.8M673.3 81.71h-1.8M548.5 80.8h1.8M673.3 80.8h-1.8M548.5 79.99h3M673.3 79.99h-3M548.5 74.62h1.8M673.3 74.62h-1.8M548.5 71.48h1.8M673.3 71.48h-1.8M548.5 69.25h1.8M673.3 69.25h-1.8M548.5 67.52h1.8M673.3 67.52h-1.8M548.5 66.11h1.8M673.3 66.11h-1.8M548.5 64.92h1.8M673.3 64.92h-1.8M548.5 63.88h1.8M673.3 63.88h-1.8M548.5 62.97h1.8M673.3 62.97h-1.8M548.5 62.16h1.8M673.3 62.16h-1.8M548.5 56.79h1.8M673.3 56.79h-1.8M548.5 53.65h1.8M673.3 53.65h-1.8M548.5 51.42h1.8M673.3 51.42h-1.8M548.5 49.7h1.8M673.3 49.7h-1.8M548.5 48.28h1.8M673.3 48.28h-1.8M548.5 47.09h1.8M673.3 47.09h-1.8M548.5 46.06h1.8M673.3 46.06h-1.8M548.5 45.14h1.8M673.3 45.14h-1.8M548.5 44.33h3M673.3 44.33h-3M548.5 38.96h1.8M673.3 38.96h-1.8M548.5 35.82h1.8M673.3 35.82h-1.8M548.5 33.59h1.8M673.3 33.59h-1.8M548.5 31.87h1.8M673.3 31.87h-1.8M548.5 30.46h1.8M673.3 30.46h-1.8M548.5 29.26h1.8M673.3 29.26h-1.8M548.5 28.23h1.8M673.3 28.23h-1.8M548.5 27.32h1.8M673.3 27.32h-1.8" stroke="#1c1c1c" stroke-width="0.9" fill="none"/>
<path d="M521.78 157.8 522.89 157.8 522.89 148.65 521.87 148.65 519.81 150.14 519.81 151.24 521.78 149.77z" fill="#262626" stroke="#262626" stroke-width="0.28" stroke-linejoin="round"/><text x="525.63" y="157.8" font-size="13.3" fill="#262626" stroke="#262626" stroke-width="0.28" textLength="7.03" lengthAdjust="spacingAndGlyphs" >0</text>
<text x="533.05" y="151.2" font-size="10.2" fill="#262626" stroke="#262626" stroke-width="0.28" textLength="11.05" lengthAdjust="spacingAndGlyphs" >−2</text>
<path d="M527.43 122.14 528.55 122.14 528.55 112.99 527.53 112.99 525.47 114.48 525.47 115.58 527.43 114.11z" fill="#262626" stroke="#262626" stroke-width="0.28" stroke-linejoin="round"/><text x="531.28" y="122.14" font-size="13.3" fill="#262626" stroke="#262626" stroke-width="0.28" textLength="7.03" lengthAdjust="spacingAndGlyphs" >0</text>
<text x="538.71" y="115.54" font-size="10.2" fill="#262626" stroke="#262626" stroke-width="0.28" textLength="5.39" lengthAdjust="spacingAndGlyphs" >0</text>
<path d="M527.43 86.49 528.55 86.49 528.55 77.34 527.53 77.34 525.47 78.82 525.47 79.93 527.43 78.45z" fill="#262626" stroke="#262626" stroke-width="0.28" stroke-linejoin="round"/><text x="531.28" y="86.49" font-size="13.3" fill="#262626" stroke="#262626" stroke-width="0.28" textLength="7.03" lengthAdjust="spacingAndGlyphs" >0</text>
<text x="538.71" y="79.89" font-size="10.2" fill="#262626" stroke="#262626" stroke-width="0.28" textLength="5.39" lengthAdjust="spacingAndGlyphs" >2</text>
<path d="M527.43 50.83 528.55 50.83 528.55 41.68 527.53 41.68 525.47 43.17 525.47 44.27 527.43 42.8z" fill="#262626" stroke="#262626" stroke-width="0.28" stroke-linejoin="round"/><text x="531.28" y="50.83" font-size="13.3" fill="#262626" stroke="#262626" stroke-width="0.28" textLength="7.03" lengthAdjust="spacingAndGlyphs" >0</text>
<text x="538.71" y="44.23" font-size="10.2" fill="#262626" stroke="#262626" stroke-width="0.28" textLength="5.39" lengthAdjust="spacingAndGlyphs" >4</text>
<path d="M541.96 171.8 543.07 171.8 543.07 162.65 542.05 162.65 539.99 164.14 539.99 165.24 541.96 163.77z" fill="#262626" stroke="#262626" stroke-width="0.28" stroke-linejoin="round"/><text x="545.81" y="171.8" font-size="13.3" fill="#262626" stroke="#262626" stroke-width="0.28" textLength="7.03" lengthAdjust="spacingAndGlyphs" >0</text>
<text x="553.13" y="164.9" font-size="10.2" fill="#262626" stroke="#262626" stroke-width="0.28" textLength="5.39" lengthAdjust="spacingAndGlyphs" >0</text>
<path d="M604.36 171.8 605.47 171.8 605.47 162.65 604.45 162.65 602.39 164.14 602.39 165.24 604.36 163.77z" fill="#262626" stroke="#262626" stroke-width="0.28" stroke-linejoin="round"/><text x="608.21" y="171.8" font-size="13.3" fill="#262626" stroke="#262626" stroke-width="0.28" textLength="7.03" lengthAdjust="spacingAndGlyphs" >0</text>
<path d="M617.97 164.9 618.83 164.9 618.83 157.88 618.04 157.88 616.46 159.02 616.46 159.87 617.97 158.74z" fill="#262626" stroke="#262626" stroke-width="0.28" stroke-linejoin="round"/>
<path d="M666.76 171.8 667.87 171.8 667.87 162.65 666.85 162.65 664.79 164.14 664.79 165.24 666.76 163.77z" fill="#262626" stroke="#262626" stroke-width="0.28" stroke-linejoin="round"/><text x="670.61" y="171.8" font-size="13.3" fill="#262626" stroke="#262626" stroke-width="0.28" textLength="7.03" lengthAdjust="spacingAndGlyphs" >0</text>
<text x="677.93" y="164.9" font-size="10.2" fill="#262626" stroke="#262626" stroke-width="0.28" textLength="5.39" lengthAdjust="spacingAndGlyphs" >2</text>
<path d="M596.1 181.8Q596.7 180.35 598.1 180.35L604.5 180.35" fill="none" stroke="#000" stroke-width="1.45" stroke-linecap="round"/><path d="M600.65 180.6L599.15 187.3Q598.8 189.15 600.25 189.05Q601.65 188.9 602.45 187.1" fill="none" stroke="#000" stroke-width="1.85" stroke-linecap="round"/>
<text x="609.4" y="189.6" font-size="14.5" fill="#262626" stroke="#262626" stroke-width="0.25">[s]</text>
<text x="559.5" y="42.9" font-size="14.6" fill="#d50f18" stroke="#d50f18" stroke-width="0.3" textLength="27.91" lengthAdjust="spacingAndGlyphs">80%</text>
<defs><clipPath id="ca0"><rect x="52.8" y="26.5" width="124.8" height="124.8"/></clipPath><clipPath id="ca1"><rect x="217.9" y="26.5" width="124.8" height="124.8"/></clipPath><clipPath id="ca2"><rect x="383.1" y="26.5" width="124.8" height="124.8"/></clipPath><clipPath id="ca3"><rect x="548.5" y="26.5" width="124.8" height="124.8"/></clipPath></defs>
<path d="M60.7 74.1c2-3 3.9-3.1 6-1.3s3.9 1.9 6-1.3" fill="none" stroke="#d80000" stroke-width="1.65" stroke-linecap="round"/>
<path d="M79.6 71.1Q80.2 69.65 81.6 69.65L88 69.65" fill="none" stroke="#d80000" stroke-width="1.45" stroke-linecap="round"/><path d="M84.15 69.9L82.65 76.6Q82.3 78.45 83.75 78.35Q85.15 78.2 85.95 76.4" fill="none" stroke="#d80000" stroke-width="1.85" stroke-linecap="round"/>
<text x="89.4" y="71.9" font-size="14.3" fill="#d80000" font-family="Liberation Serif" stroke="#d80000" stroke-width="0.55" textLength="20.2" lengthAdjust="spacingAndGlyphs">1.0</text>
<path d="M224.65 73.6c2-3 3.9-3.1 6-1.3s3.9 1.9 6-1.3" fill="none" stroke="#d80000" stroke-width="1.65" stroke-linecap="round"/>
<path d="M243.3 70.1Q243.9 68.65 245.3 68.65L251.7 68.65" fill="none" stroke="#d80000" stroke-width="1.45" stroke-linecap="round"/><path d="M247.85 68.9L246.35 75.6Q246 77.45 247.45 77.35Q248.85 77.2 249.65 75.4" fill="none" stroke="#d80000" stroke-width="1.85" stroke-linecap="round"/>
<text x="253.2" y="70.9" font-size="14.3" fill="#d80000" font-family="Liberation Serif" stroke="#d80000" stroke-width="0.55" textLength="20.2" lengthAdjust="spacingAndGlyphs">1.5</text>
<path d="M393 74.1c2-3 3.9-3.1 6-1.3s3.9 1.9 6-1.3" fill="none" stroke="#d80000" stroke-width="1.65" stroke-linecap="round"/>
<path d="M412 71.1Q412.6 69.65 414 69.65L420.4 69.65" fill="none" stroke="#d80000" stroke-width="1.45" stroke-linecap="round"/><path d="M416.55 69.9L415.05 76.6Q414.7 78.45 416.15 78.35Q417.55 78.2 418.35 76.4" fill="none" stroke="#d80000" stroke-width="1.85" stroke-linecap="round"/>
<text x="421.9" y="71.9" font-size="14.3" fill="#d80000" font-family="Liberation Serif" stroke="#d80000" stroke-width="0.55" textLength="20.2" lengthAdjust="spacingAndGlyphs">1.8</text>
<path d="M555.6 73.6c2-3 3.9-3.1 6-1.3s3.9 1.9 6-1.3" fill="none" stroke="#d80000" stroke-width="1.65" stroke-linecap="round"/>
<path d="M574 70.1Q574.6 68.65 576 68.65L582.4 68.65" fill="none" stroke="#d80000" stroke-width="1.45" stroke-linecap="round"/><path d="M578.55 68.9L577.05 75.6Q576.7 77.45 578.15 77.35Q579.55 77.2 580.35 75.4" fill="none" stroke="#d80000" stroke-width="1.85" stroke-linecap="round"/>
<text x="583.5" y="70.9" font-size="14.3" fill="#d80000" font-family="Liberation Serif" stroke="#d80000" stroke-width="0.55" textLength="20.2" lengthAdjust="spacingAndGlyphs">2.0</text>
<path d="M97 41.6Q97.6 40.15 99 40.15L105.4 40.15" fill="none" stroke="#000" stroke-width="1.45" stroke-linecap="round"/><path d="M101.55 40.4L100.05 47.1Q99.7 48.95 101.15 48.85Q102.55 48.7 103.35 46.9" fill="none" stroke="#000" stroke-width="1.85" stroke-linecap="round"/>
<text x="107.3" y="42.8" font-size="14.5" fill="#000" font-family="Liberation Serif" >2</text>
<path d="M136.3 131.8Q136.9 130.35 138.3 130.35L144.7 130.35" fill="none" stroke="#000" stroke-width="1.45" stroke-linecap="round"/><path d="M140.85 130.6L139.35 137.3Q139 139.15 140.45 139.05Q141.85 138.9 142.65 137.1" fill="none" stroke="#000" stroke-width="1.85" stroke-linecap="round"/>
<text transform="translate(21.9 131.3) rotate(-90)" font-size="15.2" fill="#262626" stroke="#262626" stroke-width="0.25" textLength="74.6" lengthAdjust="spacingAndGlyphs">MSD [μm<tspan dy="-6.6" font-size="11.2">2</tspan><tspan dy="6.6">]</tspan></text>
<defs><linearGradient id="gb0" x1="0" y1="1" x2="0" y2="0"><stop offset="0" stop-color="#0a14ff" stop-opacity="0.5"/><stop offset="0.09" stop-color="#0a14ff" stop-opacity="0.56"/><stop offset="0.18" stop-color="#0a14ff" stop-opacity="0.56"/><stop offset="0.27" stop-color="#0a14ff" stop-opacity="0.5"/><stop offset="0.36" stop-color="#0a14ff" stop-opacity="0.38"/><stop offset="0.45" stop-color="#0a14ff" stop-opacity="0.16"/><stop offset="0.53" stop-color="#0a14ff" stop-opacity="0.04"/><stop offset="0.6" stop-color="#0a14ff" stop-opacity="0.01"/><stop offset="0.73" stop-color="#0a14ff" stop-opacity="0"/><stop offset="0.82" stop-color="#0a14ff" stop-opacity="0"/><stop offset="1" stop-color="#0a14ff" stop-opacity="0"/></linearGradient><linearGradient id="gb1" x1="0" y1="1" x2="0" y2="0"><stop offset="0" stop-color="#0a14ff" stop-opacity="1"/><stop offset="0.1" stop-color="#0a14ff" stop-opacity="1"/><stop offset="0.14" stop-color="#0a14ff" stop-opacity="0.95"/><stop offset="0.22" stop-color="#0a14ff" stop-opacity="0.72"/><stop offset="0.31" stop-color="#0a14ff" stop-opacity="0.45"/><stop offset="0.4" stop-color="#0a14ff" stop-opacity="0.24"/><stop offset="0.48" stop-color="#0a14ff" stop-opacity="0.12"/><stop offset="0.56" stop-color="#0a14ff" stop-opacity="0.06"/><stop offset="0.63" stop-color="#0a14ff" stop-opacity="0.03"/><stop offset="0.78" stop-color="#0a14ff" stop-opacity="0.01"/><stop offset="1" stop-color="#0a14ff" stop-opacity="0"/></linearGradient><linearGradient id="gb2" x1="0" y1="1" x2="0" y2="0"><stop offset="0" stop-color="#0a14ff" stop-opacity="0.28"/><stop offset="0.09" stop-color="#0a14ff" stop-opacity="0.3"/><stop offset="0.18" stop-color="#0a14ff" stop-opacity="0.28"/><stop offset="0.27" stop-color="#0a14ff" stop-opacity="0.21"/><stop offset="0.36" stop-color="#0a14ff" stop-opacity="0.12"/><stop offset="0.45" stop-color="#0a14ff" stop-opacity="0.06"/><stop offset="0.55" stop-color="#0a14ff" stop-opacity="0.02"/><stop offset="0.64" stop-color="#0a14ff" stop-opacity="0.01"/><stop offset="0.82" stop-color="#0a14ff" stop-opacity="0"/><stop offset="1" stop-color="#0a14ff" stop-opacity="0"/></linearGradient><filter id="nz" x="0" y="0" width="1" height="1" color-interpolation-filters="sRGB"><feTurbulence type="fractalNoise" baseFrequency="0.75" numOctaves="2" seed="4" result="t"/><feColorMatrix in="t" type="matrix" values="0 0 0 0 0.06  0 0 0 0 0.08  0 0 0 0 1  4.6 0 0 0 -1.45" result="n"/><feComposite in="n" in2="SourceGraphic" operator="in"/></filter></defs>
<clipPath id="cb0"><rect x="52.1" y="214.6" width="125" height="125.7"/></clipPath>
<g clip-path="url(#cb0)"><g filter="url(#nz)"><rect x="52.1" y="230.91" width="2.55" height="109.39" fill="url(#gb0)" opacity="0.82"/><rect x="54.6" y="231.04" width="2.55" height="109.26" fill="url(#gb0)" opacity="0.82"/><rect x="57.1" y="231.18" width="2.55" height="109.12" fill="url(#gb0)" opacity="0.82"/><rect x="59.6" y="231.32" width="2.55" height="108.98" fill="url(#gb0)" opacity="0.82"/><rect x="62.1" y="231.46" width="2.55" height="108.84" fill="url(#gb0)" opacity="0.82"/><rect x="64.6" y="231.6" width="2.55" height="108.7" fill="url(#gb0)" opacity="0.82"/><rect x="67.1" y="231.74" width="2.55" height="108.56" fill="url(#gb0)" opacity="0.82"/><rect x="69.6" y="231.87" width="2.55" height="108.43" fill="url(#gb0)" opacity="0.82"/><rect x="72.1" y="232.01" width="2.55" height="108.29" fill="url(#gb0)" opacity="0.82"/><rect x="74.6" y="232.15" width="2.55" height="108.15" fill="url(#gb0)" opacity="0.82"/><rect x="77.1" y="232.29" width="2.55" height="108.01" fill="url(#gb0)" opacity="0.82"/><rect x="79.6" y="232.43" width="2.55" height="107.87" fill="url(#gb0)" opacity="0.82"/><rect x="82.1" y="232.56" width="2.55" height="107.74" fill="url(#gb0)" opacity="0.82"/><rect x="84.6" y="232.7" width="2.55" height="107.6" fill="url(#gb0)" opacity="0.82"/><rect x="87.1" y="232.84" width="2.55" height="107.46" fill="url(#gb0)" opacity="0.82"/><rect x="89.6" y="232.98" width="2.55" height="107.32" fill="url(#gb0)" opacity="0.82"/><rect x="92.1" y="233.12" width="2.55" height="107.18" fill="url(#gb0)" opacity="0.82"/><rect x="94.6" y="233.26" width="2.55" height="107.04" fill="url(#gb0)" opacity="0.82"/><rect x="97.1" y="233.39" width="2.55" height="106.91" fill="url(#gb0)" opacity="0.82"/><rect x="99.6" y="233.53" width="2.55" height="106.77" fill="url(#gb0)" opacity="0.82"/><rect x="102.1" y="233.67" width="2.55" height="106.63" fill="url(#gb0)" opacity="0.82"/><rect x="104.6" y="233.81" width="2.55" height="106.49" fill="url(#gb0)" opacity="0.82"/><rect x="107.1" y="233.95" width="2.55" height="106.35" fill="url(#gb0)" opacity="0.82"/><rect x="109.6" y="234.09" width="2.55" height="106.21" fill="url(#gb0)" opacity="0.82"/><rect x="112.1" y="234.22" width="2.55" height="106.08" fill="url(#gb0)" opacity="0.82"/><rect x="114.6" y="234.45" width="2.55" height="105.85" fill="url(#gb0)" opacity="0.82"/><rect x="117.1" y="234.78" width="2.55" height="105.52" fill="url(#gb0)" opacity="0.82"/><rect x="119.6" y="235.1" width="2.55" height="105.2" fill="url(#gb0)" opacity="0.82"/><rect x="122.1" y="235.42" width="2.55" height="104.88" fill="url(#gb0)" opacity="0.82"/><rect x="124.6" y="235.74" width="2.55" height="104.56" fill="url(#gb0)" opacity="0.82"/><rect x="127.1" y="236.07" width="2.55" height="104.23" fill="url(#gb0)" opacity="0.82"/><rect x="129.6" y="236.39" width="2.55" height="103.91" fill="url(#gb0)" opacity="0.82"/><rect x="132.1" y="236.71" width="2.55" height="103.59" fill="url(#gb0)" opacity="0.82"/><rect x="134.6" y="237.04" width="2.55" height="103.26" fill="url(#gb0)" opacity="0.82"/><rect x="137.1" y="237.36" width="2.55" height="102.94" fill="url(#gb0)" opacity="0.82"/><rect x="139.6" y="237.68" width="2.55" height="102.62" fill="url(#gb0)" opacity="0.82"/><rect x="142.1" y="238" width="2.55" height="102.3" fill="url(#gb0)" opacity="0.82"/><rect x="144.6" y="238.33" width="2.55" height="101.97" fill="url(#gb0)" opacity="0.82"/><rect x="147.1" y="238.65" width="2.55" height="101.65" fill="url(#gb0)" opacity="0.82"/><rect x="149.6" y="238.97" width="2.55" height="101.33" fill="url(#gb0)" opacity="0.82"/><rect x="152.1" y="239.29" width="2.55" height="101.01" fill="url(#gb0)" opacity="0.82"/><rect x="154.6" y="239.62" width="2.55" height="100.68" fill="url(#gb0)" opacity="0.82"/><rect x="157.1" y="239.94" width="2.55" height="100.36" fill="url(#gb0)" opacity="0.82"/><rect x="159.6" y="240.26" width="2.55" height="100.04" fill="url(#gb0)" opacity="0.82"/><rect x="162.1" y="240.58" width="2.55" height="99.72" fill="url(#gb0)" opacity="0.82"/><rect x="164.6" y="240.91" width="2.55" height="99.39" fill="url(#gb0)" opacity="0.82"/><rect x="167.1" y="241.23" width="2.55" height="99.07" fill="url(#gb0)" opacity="0.82"/><rect x="169.6" y="241.55" width="2.55" height="98.75" fill="url(#gb0)" opacity="0.82"/><rect x="172.1" y="241.87" width="2.55" height="98.43" fill="url(#gb0)" opacity="0.82"/><rect x="174.6" y="242.2" width="2.55" height="98.1" fill="url(#gb0)" opacity="0.82"/></g>
<path d="M116 307.5h1M124 290.5h1M145 292.5h1M116 304.5h1M136 297.5h1M70 303.5h1M69 271.5h1M149 309.5h1M123 285.5h1M98 300.5h1M175 293.5h1M151 292.5h1M162 305.5h1M117 308.5h1M109 309.5h1M92 301.5h1M133 299.5h1M64 276.5h1M118 309.5h1M70 289.5h1M84 303.5h1M83 304.5h1M171 283.5h1M165 295.5h1M66 301.5h1M98 306.5h1M137 302.5h1M124 306.5h1M135 303.5h1M67 296.5h1M119 302.5h1M112 308.5h1M79 293.5h1M155 307.5h1M75 297.5h1M120 304.5h1M71 283.5h1M69 303.5h1M55 304.5h1M93 300.5h1M168 300.5h1M128 300.5h1M156 306.5h1M171 295.5h1M175 307.5h1M57 298.5h1M68 305.5h1M172 293.5h1M108 308.5h1M176 308.5h1M141 304.5h1M139 304.5h1M109 307.5h1M97 292.5h1M97 303.5h1M63 303.5h1M104 307.5h1M155 301.5h1M55 305.5h1M63 305.5h1M94 302.5h1M122 300.5h1M157 304.5h1M150 309.5h1M131 307.5h1M102 304.5h1M150 306.5h1M121 309.5h1M116 303.5h1M113 292.5h1M155 306.5h1M135 297.5h1M125 307.5h1M174 306.5h1M87 306.5h1M161 281.5h1M119 302.5h1M154 304.5h1M95 299.5h1M96 304.5h1M157 304.5h1M80 289.5h1M127 301.5h1M98 286.5h1M160 299.5h1M175 296.5h1M133 299.5h1M174 284.5h1M77 306.5h1M152 305.5h1M156 304.5h1M78 273.5h1M62 305.5h1M104 304.5h1M128 306.5h1M89 295.5h1M58 305.5h1M104 306.5h1M93 295.5h1M85 308.5h1M148 307.5h1M70 297.5h1M167 308.5h1M170 306.5h1M70 303.5h1M138 284.5h1M170 306.5h1M128 306.5h1M75 298.5h1M129 307.5h1M118 300.5h1M106 277.5h1M165 280.5h1M90 305.5h1M118 308.5h1M176 310.5h1M60 307.5h1M134 306.5h1M118 300.5h1M117 298.5h1M168 308.5h1M144 302.5h1M132 307.5h1M160 308.5h1M123 284.5h1M64 281.5h1M149 307.5h1M112 299.5h1M170 283.5h1M124 295.5h1M172 307.5h1M83 305.5h1M167 293.5h1M176 309.5h1M91 308.5h1M105 308.5h1M98 306.5h1M71 298.5h1M113 306.5h1M143 301.5h1M166 302.5h1M94 290.5h1M176 306.5h1M68 306.5h1M78 283.5h1M140 266.5h1M154 308.5h1M167 298.5h1M91 305.5h1M154 308.5h1M126 305.5h1M78 295.5h1M75 299.5h1M135 292.5h1M70 301.5h1M108 305.5h1M155 300.5h1M160 299.5h1M157 290.5h1M156 299.5h1M148 268.5h1M78 297.5h1M136 307.5h1M63 298.5h1M101 292.5h1M129 294.5h1M123 305.5h1M64 271.5h1M139 288.5h1M154 298.5h1M59 306.5h1M167 307.5h1M164 302.5h1M88 289.5h1M176 301.5h1M150 300.5h1M130 298.5h1M89 307.5h1M89 308.5h1M74 306.5h1M77 305.5h1M59 292.5h1M88 281.5h1M59 293.5h1M106 294.5h1M155 297.5h1M86 288.5h1M110 307.5h1M165 288.5h1M155 291.5h1M144 301.5h1M169 305.5h1M101 295.5h1M87 299.5h1M148 310.5h1M110 296.5h1M165 286.5h1M83 276.5h1M70 277.5h1M154 308.5h1M159 306.5h1M160 298.5h1M141 309.5h1M109 303.5h1M58 306.5h1M54 307.5h1M85 300.5h1M119 308.5h1M156 297.5h1M164 309.5h1M143 305.5h1M128 291.5h1M56 257.5h1M110 291.5h1M78 302.5h1M55 301.5h1M72 296.5h1M101 306.5h1M64 305.5h1M93 284.5h1M105 304.5h1M144 303.5h1M168 303.5h1M173 309.5h1M130 306.5h1M163 298.5h1M101 276.5h1M132 307.5h1M65 306.5h1M90 305.5h1M89 306.5h1M117 306.5h1M60 292.5h1M95 303.5h1M174 311.5h1M164 288.5h1M99 307.5h1M78 307.5h1M103 296.5h1M125 304.5h1M149 293.5h1M137 295.5h1M87 297.5h1M170 310.5h1M145 291.5h1M105 290.5h1M73 307.5h1M105 307.5h1M120 299.5h1M95 291.5h1M142 301.5h1M95 305.5h1M141 294.5h1M141 292.5h1M134 303.5h1M170 306.5h1M122 295.5h1M106 294.5h1M117 306.5h1M106 298.5h1M66 307.5h1M148 308.5h1M99 284.5h1M63 300.5h1M158 310.5h1M102 305.5h1M174 309.5h1M55 305.5h1M100 306.5h1M116 291.5h1M138 304.5h1M105 303.5h1M109 309.5h1M54 303.5h1M168 309.5h1M78 308.5h1M119 296.5h1M171 309.5h1M70 280.5h1M67 301.5h1M138 306.5h1M114 308.5h1M164 277.5h1M112 299.5h1M124 293.5h1M122 308.5h1M69 307.5h1M92 307.5h1M77 298.5h1M57 307.5h1M93 307.5h1M74 296.5h1M146 301.5h1M111 308.5h1M159 297.5h1M85 286.5h1M73 301.5h1M124 295.5h1M125 308.5h1M171 287.5h1M117 281.5h1M165 304.5h1M155 288.5h1M89 280.5h1M128 299.5h1M166 306.5h1M100 305.5h1M81 308.5h1M146 306.5h1M155 310.5h1M102 294.5h1M56 297.5h1M105 303.5h1M169 307.5h1M86 301.5h1M85 296.5h1M58 299.5h1M168 301.5h1M96 289.5h1M148 308.5h1M148 295.5h1M73 301.5h1M150 304.5h1M69 273.5h1M137 264.5h1M90 289.5h1M123 298.5h1M55 304.5h1M113 304.5h1M100 292.5h1M168 308.5h1M57 298.5h1M75 299.5h1M79 308.5h1M112 294.5h1M132 281.5h1M167 307.5h1M133 305.5h1M68 279.5h1M55 302.5h1M151 296.5h1M118 308.5h1M95 307.5h1M165 296.5h1M69 302.5h1M159 276.5h1M173 296.5h1M151 286.5h1M106 309.5h1M86 307.5h1M61 302.5h1M116 305.5h1M157 286.5h1M150 302.5h1M165 307.5h1M78 291.5h1M164 306.5h1M147 292.5h1M64 296.5h1M93 307.5h1M95 292.5h1M105 285.5h1M87 304.5h1M87 301.5h1M142 299.5h1M83 290.5h1M105 308.5h1M93 291.5h1M83 299.5h1M97 306.5h1M73 258.5h1M169 289.5h1M85 296.5h1M157 300.5h1M126 306.5h1M97 282.5h1M60 301.5h1M130 301.5h1M91 297.5h1M163 298.5h1M97 298.5h1M168 297.5h1M113 305.5h1M84 307.5h1M75 281.5h1M109 295.5h1M60 280.5h1M57 302.5h1M55 304.5h1M163 306.5h1M117 293.5h1M111 292.5h1M159 302.5h1M113 302.5h1M122 309.5h1M129 307.5h1M103 300.5h1M122 295.5h1M55 293.5h1M101 297.5h1M54 300.5h1M119 309.5h1M63 305.5h1M119 305.5h1M120 284.5h1M97 296.5h1M95 296.5h1M157 306.5h1M68 301.5h1M84 302.5h1M110 300.5h1M55 289.5h1M126 303.5h1M164 300.5h1M165 296.5h1M65 307.5h1M112 305.5h1M169 282.5h1M83 277.5h1M118 304.5h1M126 300.5h1M114 295.5h1M95 275.5h1M100 307.5h1M174 287.5h1M159 306.5h1M150 294.5h1M110 308.5h1M72 307.5h1M122 294.5h1M66 274.5h1M89 308.5h1M132 306.5h1M75 304.5h1M96 287.5h1M88 300.5h1M154 294.5h1M75 306.5h1M175 297.5h1M74 297.5h1M60 295.5h1M74 301.5h1M57 301.5h1M122 302.5h1M74 308.5h1M160 295.5h1M70 282.5h1M72 296.5h1M64 307.5h1M104 296.5h1M78 304.5h1M98 294.5h1M154 301.5h1M66 298.5h1M65 290.5h1M124 305.5h1M113 292.5h1M117 299.5h1M97 291.5h1M61 302.5h1M65 283.5h1M165 288.5h1M73 301.5h1M155 310.5h1M134 301.5h1M164 309.5h1M120 299.5h1M162 301.5h1M72 300.5h1M71 304.5h1M92 306.5h1M84 289.5h1M90 303.5h1M83 296.5h1M71 298.5h1M120 297.5h1M67 302.5h1M127 309.5h1M133 306.5h1M110 307.5h1M126 293.5h1M164 292.5h1M102 280.5h1M137 276.5h1M150 286.5h1M73 255.5h1M97 308.5h1M151 293.5h1M92 305.5h1M97 303.5h1M176 295.5h1M147 264.5h1M144 308.5h1M68 278.5h1M135 295.5h1M158 301.5h1M104 304.5h1M152 308.5h1M135 305.5h1M134 302.5h1M98 299.5h1M174 293.5h1M102 299.5h1M116 305.5h1M121 226.5h1M78 278.5h1M114 300.5h1M143 268.5h1M153 301.5h1M87 296.5h1M121 290.5h1M173 310.5h1M148 305.5h1M132 308.5h1M142 297.5h1M135 298.5h1M69 301.5h1M107 289.5h1M105 287.5h1M119 306.5h1M119 290.5h1M166 293.5h1M106 291.5h1M103 294.5h1M164 308.5h1M63 263.5h1M76 305.5h1M99 305.5h1M118 309.5h1M107 294.5h1M115 301.5h1M167 283.5h1M137 287.5h1M78 302.5h1M131 288.5h1M86 308.5h1M67 274.5h1M131 309.5h1M76 304.5h1M118 299.5h1M145 307.5h1M99 288.5h1M111 285.5h1M109 308.5h1M106 305.5h1M78 301.5h1M135 309.5h1M61 303.5h1M98 304.5h1M106 295.5h1M93 306.5h1M167 308.5h1M88 290.5h1M151 302.5h1M158 302.5h1M139 302.5h1M145 298.5h1M82 298.5h1M67 300.5h1M111 301.5h1M64 305.5h1M154 283.5h1M64 299.5h1M148 307.5h1M143 305.5h1M97 290.5h1M88 299.5h1M70 306.5h1M75 292.5h1M122 305.5h1M125 307.5h1M139 308.5h1M114 304.5h1M165 310.5h1M121 309.5h1M125 304.5h1M129 304.5h1M131 309.5h1M113 309.5h1M117 305.5h1M75 302.5h1M60 303.5h1M115 301.5h1M170 291.5h1M88 308.5h1M158 292.5h1M104 302.5h1M157 304.5h1M126 291.5h1M106 308.5h1M118 301.5h1M85 306.5h1M80 287.5h1M74 297.5h1M102 306.5h1M151 274.5h1M119 288.5h1M115 300.5h1M89 294.5h1M168 308.5h1M143 306.5h1M103 262.5h1M93 291.5h1M74 285.5h1M105 294.5h1M114 304.5h1M144 274.5h1M136 308.5h1M175 310.5h1M156 306.5h1M112 308.5h1M116 308.5h1M126 288.5h1M114 308.5h1M160 280.5h1M99 248.5h1M176 290.5h1M79 274.5h1M117 290.5h1M102 302.5h1M87 275.5h1M63 305.5h1M104 305.5h1M56 307.5h1M176 303.5h1" stroke="#3040ff" stroke-opacity="0.25" stroke-width="1"/>
<path d="M52.1 320.01 52.31 319.03 52.52 318.27 52.73 320.92 52.93 321.48 53.14 321.86 53.35 321 53.56 322.9 53.77 321.93 53.98 321.84 54.18 320.99 54.39 321.48 54.6 320.82 54.81 320.85 55.02 321.15 55.23 321.85 55.43 320.92 55.64 320.05 55.85 320.46 56.06 321.47 56.27 319.5 56.48 320.02 56.68 319.75 56.89 320.32 57.1 318.23 57.31 317.97 57.52 318.28 57.73 319.46 57.93 319.01 58.14 321.54 58.35 322.15 58.56 322.63 58.77 321.64 58.98 320.13 59.18 320.03 59.39 318.9 59.6 321.2 59.81 320.13 60.02 320.78 60.23 319.9 60.43 318.39 60.64 319.22 60.85 318.53 61.06 321.25 61.27 320.51 61.48 322.03 61.68 321.88 61.89 321.54 62.1 320.48 62.31 320.58 62.52 320.65 62.73 320.11 62.93 320.33 63.14 320.26 63.35 320.55 63.56 320.14 63.77 320.27 63.98 320.98 64.18 321.27 64.39 321.28 64.6 319.78 64.81 318.94 65.02 319.96 65.22 321.17 65.43 321.95 65.64 320.5 65.85 321.06 66.06 321.17 66.27 321.51 66.47 321.45 66.68 320.42 66.89 319.21 67.1 316.56 67.31 316.14 67.52 316.21 67.72 317.07 67.93 319.04 68.14 319.88 68.35 321.51 68.56 321.94 68.77 323.21 68.97 321.62 69.18 319.33 69.39 318.06 69.6 319.24 69.81 319.68 70.02 321.32 70.22 322.65 70.43 322.34 70.64 321.33 70.85 320.69 71.06 320.48 71.27 320.78 71.47 319.12 71.68 319.76 71.89 318.09 72.1 316.41 72.31 314.74 72.52 313.06 72.72 314.74 72.93 316.42 73.14 317 73.35 315.56 73.56 314.11 73.77 315.56 73.97 317 74.18 318.45 74.39 319.9 74.6 320.12 74.81 320.04 75.02 320.24 75.22 322.07 75.43 322.37 75.64 320.86 75.85 320.87 76.06 319.81 76.27 321.04 76.47 321.36 76.68 322.78 76.89 324.21 77.1 325.63 77.31 324.38 77.52 324.7 77.72 323.58 77.93 322.32 78.14 321.28 78.35 320.08 78.56 319.83 78.77 319.04 78.97 320.25 79.18 319.74 79.39 319.78 79.6 318.38 79.81 319.75 80.02 320.74 80.22 320.33 80.43 320.27 80.64 318.13 80.85 317.86 81.06 315.96 81.27 319.34 81.47 322.08 81.68 324.33 81.89 322.14 82.1 321.84 82.31 321.17 82.52 321.31 82.72 319.26 82.93 318.52 83.14 318.64 83.35 319.61 83.56 321.03 83.77 321.84 83.97 320.99 84.18 320.14 84.39 319.86 84.6 320.08 84.81 320.47 85.02 318.54 85.22 319.07 85.43 320.35 85.64 320.91 85.85 321.59 86.06 320.5 86.27 321.71 86.47 321.96 86.68 321.2 86.89 322.14 87.1 323.03 87.31 323.76 87.52 322.99 87.72 322.15 87.93 320.82 88.14 318.73 88.35 315.71 88.56 316.1 88.77 317.81 88.97 319.24 89.18 319.12 89.39 321.16 89.6 321.16 89.81 320.14 90.02 319.06 90.22 320.35 90.43 321.58 90.64 321.12 90.85 320.54 91.06 320.22 91.27 320.02 91.47 320.89 91.68 322.38 91.89 321.84 92.1 321.99 92.31 321.2 92.52 322.57 92.72 322.5 92.93 322.36 93.14 321.38 93.35 321.65 93.56 322.55 93.77 322.53 93.97 322.11 94.18 321.11 94.39 321.28 94.6 319.68 94.81 320.09 95.02 320.2 95.22 318.94 95.43 317.68 95.64 316.42 95.85 315.16 96.06 316.42 96.27 317.69 96.47 318.95 96.68 319.96 96.89 322.03 97.1 322.6 97.31 322.02 97.52 321.43 97.72 320.17 97.93 318.56 98.14 318.77 98.35 318.24 98.56 320.1 98.77 319.3 98.97 320.47 99.18 320.65 99.39 320.35 99.6 319.05 99.81 319.51 100.02 320.8 100.22 322.23 100.43 319.96 100.64 317.02 100.85 316.2 101.06 318.73 101.27 321.79 101.47 322.51 101.68 322.06 101.89 321.46 102.1 322.75 102.31 322.53 102.52 324.36 102.72 324.57 102.93 323.34 103.14 321.44 103.35 320.8 103.56 321.39 103.77 321.13 103.97 320.56 104.18 319.6 104.39 320.32 104.6 320.03 104.81 321.7 105.02 319.73 105.22 320.84 105.43 319.06 105.64 320.18 105.85 319.75 106.06 321.53 106.27 322.15 106.47 321.28 106.68 318.55 106.89 319.38 107.1 318.1 107.31 320.54 107.52 320.14 107.72 321.31 107.93 320.19 108.14 320.4 108.35 320.63 108.56 322.79 108.77 321.37 108.97 322.36 109.18 320.25 109.39 320.82 109.6 319.09 109.81 319.82 110.02 320.3 110.22 320.69 110.43 321.77 110.64 321.72 110.85 322.11 111.06 320.47 111.27 320.32 111.47 321.77 111.68 322.5 111.89 321.91 112.1 320.99 112.31 321.63 112.52 321.17 112.72 321.09 112.93 320 113.14 320.33 113.35 319.71 113.56 319.67 113.77 320.37 113.97 319.07 114.18 317.77 114.39 316.46 114.6 315.16 114.81 316.46 115.02 317.77 115.22 319.08 115.43 320.39 115.64 321.09 115.85 320.84 116.06 319.89 116.27 319.97 116.47 321.01 116.68 321.61 116.89 322.26 117.1 321.38 117.31 321.2 117.52 320.4 117.72 322.83 117.93 324.06 118.14 323.7 118.35 321.23 118.56 318.94 118.77 317.25 118.97 316.62 119.18 317.15 119.39 317.4 119.6 319.16 119.81 320.02 120.02 320.26 120.22 319.58 120.43 318.01 120.64 318.71 120.85 318.19 121.06 319.2 121.27 320.22 121.47 321.44 121.68 321.7 121.89 321.57 122.1 322.37 122.31 324.44 122.52 324.54 122.72 325.23 122.93 323.17 123.14 322.44 123.35 320.06 123.56 320.73 123.77 320.66 123.97 321.86 124.18 320.75 124.39 320.88 124.6 320.27 124.81 319.65 125.02 320.25 125.22 319.71 125.43 320.28 125.64 319.36 125.85 319.84 126.06 319.87 126.27 320.59 126.47 320.44 126.68 320.28 126.89 321.22 127.1 320.88 127.31 322.68 127.52 322.47 127.72 322.25 127.93 322.48 128.14 322.49 128.35 323.82 128.56 323.12 128.77 320.72 128.97 319.44 129.18 318.15 129.39 316.87 129.6 315.58 129.81 316.87 130.02 318.16 130.22 319.45 130.43 320.75 130.64 320.15 130.85 320.83 131.06 321.95 131.27 323 131.47 323.37 131.68 321.08 131.89 321.04 132.1 320.89 132.31 321.61 132.52 319.37 132.72 320.84 132.93 321.03 133.14 320.3 133.35 319.35 133.56 320.32 133.77 322.2 133.97 321.32 134.18 320.34 134.39 320.32 134.6 320.24 134.81 320.55 135.02 321.23 135.22 322.89 135.43 323.74 135.64 322.28 135.85 320.48 136.06 319.71 136.27 321.29 136.47 322.56 136.68 322.77 136.89 321.71 137.1 321.21 137.31 321.49 137.52 320.96 137.72 321.26 137.93 321.47 138.14 322.42 138.35 322.3 138.56 321.16 138.77 319.8 138.97 318.84 139.18 319.62 139.39 321.58 139.6 321.68 139.81 322.06 140.02 321.4 140.22 322.35 140.43 323.06 140.64 323.46 140.85 324.24 141.06 323.08 141.27 323.27 141.47 323.69 141.68 323.91 141.89 324.2 142.1 322.71 142.31 323.07 142.52 321.39 142.72 321.77 142.93 320.76 143.14 322.41 143.35 323.84 143.56 325.26 143.77 326.68 143.97 325.26 144.18 325.02 144.39 324.81 144.6 322.28 144.81 320.83 145.02 322 145.22 322.42 145.43 322.16 145.64 322.31 145.85 322.22 146.06 322.63 146.27 321.98 146.47 322.85 146.68 323.91 146.89 324.22 147.1 323.75 147.31 323.65 147.52 322.23 147.72 324.17 147.93 323.05 148.14 324.39 148.35 322.06 148.56 322.45 148.77 319.49 148.97 322.62 149.18 324.18 149.39 325.75 149.6 327.31 149.81 325.75 150.02 324.19 150.22 322.64 150.43 322.13 150.64 322.48 150.85 323.07 151.06 321.7 151.27 320.81 151.47 321.56 151.68 321.01 151.89 320.85 152.1 320.83 152.31 323.6 152.52 324.41 152.72 322.69 152.93 322.89 153.14 323.45 153.35 324.34 153.56 322.78 153.77 322.31 153.97 322.71 154.18 324.01 154.39 322.37 154.6 322.93 154.81 321.57 155.02 323.02 155.22 320.2 155.43 320.41 155.64 318.45 155.85 321.15 156.06 320.98 156.27 323.53 156.47 321.05 156.68 321.37 156.89 320.5 157.1 321.59 157.31 323.49 157.52 324.26 157.72 326.15 157.93 323.27 158.14 323.47 158.35 322.36 158.56 324.43 158.77 325.31 158.97 323.99 159.18 323.2 159.39 321.61 159.6 321.27 159.81 319.64 160.02 318.01 160.22 316.38 160.43 314.74 160.64 316.38 160.85 318.02 161.06 319.66 161.27 320.38 161.47 321.27 161.68 322.29 161.89 323.12 162.1 323.16 162.31 322.07 162.52 321.76 162.72 321.97 162.93 321.88 163.14 321.36 163.35 320.88 163.56 320.19 163.77 322.03 163.97 322.36 164.18 322.88 164.39 321.89 164.6 320.5 164.81 321.04 165.02 323 165.22 324.58 165.43 326.16 165.64 327.73 165.85 326.16 166.06 324.59 166.27 324.93 166.47 325.65 166.68 324.38 166.89 321.67 167.1 320.05 167.31 320.03 167.52 320.89 167.72 321.26 167.93 321.37 168.14 319.56 168.35 317.75 168.56 315.93 168.77 314.11 168.97 315.93 169.18 317.75 169.39 319.58 169.6 321.4 169.81 322.12 170.02 321.31 170.22 322.39 170.43 322.6 170.64 322.5 170.85 323.04 171.06 322.74 171.27 323.06 171.47 324.48 171.68 325.9 171.89 327.31 172.1 325.9 172.31 324.49 172.52 323.1 172.72 323.4 172.93 323 173.14 322.21 173.35 321.72 173.56 322.18 173.77 322.12 173.97 321.57 174.18 321.51 174.39 321.3 174.6 320.7 174.81 322.35 175.02 323.34 175.22 324.78 175.43 321.87 175.64 318.75 175.85 318.2 176.06 319.29 176.27 323.55 176.47 323.9 176.68 323.19 176.89 321.55 177.1 321.72" fill="none" stroke="#d90000" stroke-width="2.4" stroke-linejoin="round" />
</g>
<rect x="52.1" y="214.6" width="125" height="125.7" fill="none" stroke="#3a3a3a" stroke-width="1.3"/>
<path d="M52.1 319.35h2.5M177.1 319.35h-2.5M52.1 298.4h2.5M177.1 298.4h-2.5M52.1 277.45h2.5M177.1 277.45h-2.5M52.1 256.5h2.5M177.1 256.5h-2.5M52.1 235.55h2.5M177.1 235.55h-2.5M93.77 340.3v-2.5M93.77 214.6v2.5M135.43 340.3v-2.5M135.43 214.6v2.5" stroke="#3a3a3a" stroke-width="1.2" fill="none"/>
<text x="40.57" y="345.2" font-size="13.3" fill="#262626" stroke="#262626" stroke-width="0.28" textLength="7.03" lengthAdjust="spacingAndGlyphs" >0</text>
<path d="M43.75 324.25 44.87 324.25 44.87 315.1 43.84 315.1 41.79 316.59 41.79 317.69 43.75 316.22z" fill="#262626" stroke="#262626" stroke-width="0.28" stroke-linejoin="round"/>
<text x="40.57" y="303.3" font-size="13.3" fill="#262626" stroke="#262626" stroke-width="0.28" textLength="7.03" lengthAdjust="spacingAndGlyphs" >2</text>
<text x="40.57" y="282.35" font-size="13.3" fill="#262626" stroke="#262626" stroke-width="0.28" textLength="7.03" lengthAdjust="spacingAndGlyphs" >3</text>
<text x="40.57" y="261.4" font-size="13.3" fill="#262626" stroke="#262626" stroke-width="0.28" textLength="7.03" lengthAdjust="spacingAndGlyphs" >4</text>
<text x="40.57" y="240.45" font-size="13.3" fill="#262626" stroke="#262626" stroke-width="0.28" textLength="7.03" lengthAdjust="spacingAndGlyphs" >5</text>
<text x="40.57" y="219.5" font-size="13.3" fill="#262626" stroke="#262626" stroke-width="0.28" textLength="7.03" lengthAdjust="spacingAndGlyphs" >6</text>
<text x="48.6" y="356.25" font-size="13.1" fill="#262626" stroke="#262626" stroke-width="0.28" textLength="6.99" lengthAdjust="spacingAndGlyphs" >0</text>
<text x="83.28" y="356.25" font-size="13.1" fill="#262626" stroke="#262626" stroke-width="0.28" textLength="20.98" lengthAdjust="spacingAndGlyphs" >200</text>
<text x="124.94" y="356.25" font-size="13.1" fill="#262626" stroke="#262626" stroke-width="0.28" textLength="20.98" lengthAdjust="spacingAndGlyphs" >400</text>
<text x="166.61" y="356.25" font-size="13.1" fill="#262626" stroke="#262626" stroke-width="0.28" textLength="20.98" lengthAdjust="spacingAndGlyphs" >600</text>
<text x="114.1" y="373.4" font-size="15.4" fill="#262626" text-anchor="middle" stroke="#262626" stroke-width="0.25" textLength="54.6" lengthAdjust="spacingAndGlyphs">Time [s]</text>
<text x="64" y="233.5" font-size="14.6" fill="#000000" stroke="#000000" stroke-width="0.3" textLength="20.15" lengthAdjust="spacingAndGlyphs">0%</text>
<clipPath id="cb1"><rect x="217.6" y="214.6" width="125" height="125.7"/></clipPath>
<g clip-path="url(#cb1)"><g filter="url(#nz)"><rect x="217.6" y="285.51" width="2.55" height="54.79" fill="url(#gb1)" opacity="1"/><rect x="220.1" y="285.28" width="2.55" height="55.02" fill="url(#gb1)" opacity="1"/><rect x="222.6" y="285.05" width="2.55" height="55.25" fill="url(#gb1)" opacity="1"/><rect x="225.1" y="284.83" width="2.55" height="55.47" fill="url(#gb1)" opacity="1"/><rect x="227.6" y="284.6" width="2.55" height="55.7" fill="url(#gb1)" opacity="1"/><rect x="230.1" y="284.38" width="2.55" height="55.92" fill="url(#gb1)" opacity="1"/><rect x="232.6" y="284.15" width="2.55" height="56.15" fill="url(#gb1)" opacity="1"/><rect x="235.1" y="283.92" width="2.55" height="56.38" fill="url(#gb1)" opacity="1"/><rect x="237.6" y="283.79" width="2.55" height="56.51" fill="url(#gb1)" opacity="1"/><rect x="240.1" y="284.13" width="2.55" height="56.17" fill="url(#gb1)" opacity="1"/><rect x="242.6" y="284.47" width="2.55" height="55.83" fill="url(#gb1)" opacity="1"/><rect x="245.1" y="284.81" width="2.55" height="55.49" fill="url(#gb1)" opacity="1"/><rect x="247.6" y="285.15" width="2.55" height="55.15" fill="url(#gb1)" opacity="1"/><rect x="250.1" y="285.49" width="2.55" height="54.81" fill="url(#gb1)" opacity="1"/><rect x="252.6" y="285.83" width="2.55" height="54.47" fill="url(#gb1)" opacity="1"/><rect x="255.1" y="286.17" width="2.55" height="54.13" fill="url(#gb1)" opacity="1"/><rect x="257.6" y="286.51" width="2.55" height="53.79" fill="url(#gb1)" opacity="1"/><rect x="260.1" y="286.85" width="2.55" height="53.45" fill="url(#gb1)" opacity="1"/><rect x="262.6" y="287.19" width="2.55" height="53.11" fill="url(#gb1)" opacity="1"/><rect x="265.1" y="287.52" width="2.55" height="52.78" fill="url(#gb1)" opacity="1"/><rect x="267.6" y="287.86" width="2.55" height="52.44" fill="url(#gb1)" opacity="1"/><rect x="270.1" y="288.2" width="2.55" height="52.1" fill="url(#gb1)" opacity="1"/><rect x="272.6" y="288.54" width="2.55" height="51.76" fill="url(#gb1)" opacity="1"/><rect x="275.1" y="288.88" width="2.55" height="51.42" fill="url(#gb1)" opacity="1"/><rect x="277.6" y="289.22" width="2.55" height="51.08" fill="url(#gb1)" opacity="1"/><rect x="280.1" y="289.47" width="2.55" height="50.83" fill="url(#gb1)" opacity="1"/><rect x="282.6" y="289.62" width="2.55" height="50.68" fill="url(#gb1)" opacity="1"/><rect x="285.1" y="289.77" width="2.55" height="50.53" fill="url(#gb1)" opacity="1"/><rect x="287.6" y="289.92" width="2.55" height="50.38" fill="url(#gb1)" opacity="1"/><rect x="290.1" y="290.07" width="2.55" height="50.23" fill="url(#gb1)" opacity="1"/><rect x="292.6" y="290.22" width="2.55" height="50.08" fill="url(#gb1)" opacity="1"/><rect x="295.1" y="290.37" width="2.55" height="49.93" fill="url(#gb1)" opacity="1"/><rect x="297.6" y="290.52" width="2.55" height="49.78" fill="url(#gb1)" opacity="1"/><rect x="300.1" y="290.67" width="2.55" height="49.63" fill="url(#gb1)" opacity="1"/><rect x="302.6" y="290.82" width="2.55" height="49.48" fill="url(#gb1)" opacity="1"/><rect x="305.1" y="290.98" width="2.55" height="49.32" fill="url(#gb1)" opacity="1"/><rect x="307.6" y="291.13" width="2.55" height="49.17" fill="url(#gb1)" opacity="1"/><rect x="310.1" y="291.28" width="2.55" height="49.02" fill="url(#gb1)" opacity="1"/><rect x="312.6" y="291.43" width="2.55" height="48.87" fill="url(#gb1)" opacity="1"/><rect x="315.1" y="291.58" width="2.55" height="48.72" fill="url(#gb1)" opacity="1"/><rect x="317.6" y="291.73" width="2.55" height="48.57" fill="url(#gb1)" opacity="1"/><rect x="320.1" y="291.88" width="2.55" height="48.42" fill="url(#gb1)" opacity="1"/><rect x="322.6" y="292.03" width="2.55" height="48.27" fill="url(#gb1)" opacity="1"/><rect x="325.1" y="292.18" width="2.55" height="48.12" fill="url(#gb1)" opacity="1"/><rect x="327.6" y="292.33" width="2.55" height="47.97" fill="url(#gb1)" opacity="1"/><rect x="330.1" y="292.48" width="2.55" height="47.82" fill="url(#gb1)" opacity="1"/><rect x="332.6" y="292.63" width="2.55" height="47.67" fill="url(#gb1)" opacity="1"/><rect x="335.1" y="292.79" width="2.55" height="47.51" fill="url(#gb1)" opacity="1"/><rect x="337.6" y="292.94" width="2.55" height="47.36" fill="url(#gb1)" opacity="1"/><rect x="340.1" y="293.09" width="2.55" height="47.21" fill="url(#gb1)" opacity="1"/><rect x="217.6" y="335.27" width="125" height="5.03" fill="#0008ff"/></g>
<rect x="217.6" y="336.11" width="125" height="4.19" fill="#0008ff" opacity="0.6"/>
<path d="M280 328.5h1M236 319.5h1M295 318.5h1M281 328.5h1M340 328.5h1M243 328.5h1M227 323.5h1M276 330.5h1M330 324.5h1M304 304.5h1M219 309.5h1M303 328.5h1M323 325.5h1M256 325.5h1M228 328.5h1M239 318.5h1M242 327.5h1M318 330.5h1M241 325.5h1M254 320.5h1M308 325.5h1M279 327.5h1M324 331.5h1M244 329.5h1M256 330.5h1M249 317.5h1M339 331.5h1M310 315.5h1M222 319.5h1M268 330.5h1M300 331.5h1M315 330.5h1M222 326.5h1M235 319.5h1M262 328.5h1M279 329.5h1M258 325.5h1M298 328.5h1M261 328.5h1M331 326.5h1M338 312.5h1M331 327.5h1M303 312.5h1M279 330.5h1M293 330.5h1M286 327.5h1M221 318.5h1M317 321.5h1M330 329.5h1M260 327.5h1M311 325.5h1M327 330.5h1M287 322.5h1M273 316.5h1M225 327.5h1M286 318.5h1M319 326.5h1M327 318.5h1M231 327.5h1M327 328.5h1M234 328.5h1M283 310.5h1M253 322.5h1M249 326.5h1M237 316.5h1M281 317.5h1M221 327.5h1M274 330.5h1M326 331.5h1M310 331.5h1M263 319.5h1M236 329.5h1M289 328.5h1M228 313.5h1M300 324.5h1M318 328.5h1M232 324.5h1M254 330.5h1M307 322.5h1M304 329.5h1M273 330.5h1M237 330.5h1M221 314.5h1M330 331.5h1M317 322.5h1M267 329.5h1M275 323.5h1M233 328.5h1M259 326.5h1M240 322.5h1M289 329.5h1M286 327.5h1M328 316.5h1M310 320.5h1M320 331.5h1M244 327.5h1M290 329.5h1M256 330.5h1M245 322.5h1M252 328.5h1M302 326.5h1M327 331.5h1M254 320.5h1M264 325.5h1M240 323.5h1M329 327.5h1M302 329.5h1M277 325.5h1M333 307.5h1M317 330.5h1M236 329.5h1M294 325.5h1M296 318.5h1M286 327.5h1M337 329.5h1M240 322.5h1M328 330.5h1M277 331.5h1M249 327.5h1M256 327.5h1M307 329.5h1M273 329.5h1M296 331.5h1M276 326.5h1M330 329.5h1M329 325.5h1M338 323.5h1M262 323.5h1M232 329.5h1M262 328.5h1M318 331.5h1M245 327.5h1M258 326.5h1M219 327.5h1M224 322.5h1M325 328.5h1M308 322.5h1M244 306.5h1M282 329.5h1M317 330.5h1M277 328.5h1M290 327.5h1M330 331.5h1M237 328.5h1M283 304.5h1M297 315.5h1M301 325.5h1M339 326.5h1M318 330.5h1M235 328.5h1M295 328.5h1M231 321.5h1M273 322.5h1M295 330.5h1M251 329.5h1M253 324.5h1M261 325.5h1M337 329.5h1M340 328.5h1M286 328.5h1M323 330.5h1M256 323.5h1M250 320.5h1M292 320.5h1M337 330.5h1M335 324.5h1M225 326.5h1M275 330.5h1M287 322.5h1M260 322.5h1M238 330.5h1M273 325.5h1M335 328.5h1M237 317.5h1M227 330.5h1M277 329.5h1M326 324.5h1M307 331.5h1M243 328.5h1M228 326.5h1M249 326.5h1M303 329.5h1M330 325.5h1M231 329.5h1M288 330.5h1M312 329.5h1M234 326.5h1M292 325.5h1M231 328.5h1M260 323.5h1M306 321.5h1M252 329.5h1M326 325.5h1M244 325.5h1M251 318.5h1M304 330.5h1M306 331.5h1M231 323.5h1M274 329.5h1M322 309.5h1M251 327.5h1M221 328.5h1M266 330.5h1M324 319.5h1M280 330.5h1M331 327.5h1M245 307.5h1M319 329.5h1M308 329.5h1M221 310.5h1M284 317.5h1M318 329.5h1M310 329.5h1M290 330.5h1M232 326.5h1M297 325.5h1M290 325.5h1M291 321.5h1M320 329.5h1M266 327.5h1M252 329.5h1M310 330.5h1M246 328.5h1M276 325.5h1M226 311.5h1M320 327.5h1M317 330.5h1M289 329.5h1M284 329.5h1M331 327.5h1M292 329.5h1M274 331.5h1M233 329.5h1M292 329.5h1M273 324.5h1M274 327.5h1M246 308.5h1M276 314.5h1M258 330.5h1M269 329.5h1M231 327.5h1M282 325.5h1M237 320.5h1M262 321.5h1M325 322.5h1M284 330.5h1M340 325.5h1M223 318.5h1M316 330.5h1M298 326.5h1M251 327.5h1M312 330.5h1M236 322.5h1M296 324.5h1M327 330.5h1M244 328.5h1M301 330.5h1M318 329.5h1M312 327.5h1M255 326.5h1M286 324.5h1M243 321.5h1M240 328.5h1M298 330.5h1M226 327.5h1M230 325.5h1M260 327.5h1M302 318.5h1M232 322.5h1M312 330.5h1M250 327.5h1M308 325.5h1M242 328.5h1M302 329.5h1M307 330.5h1M283 330.5h1M258 330.5h1M313 323.5h1M264 330.5h1M303 321.5h1M323 320.5h1M298 328.5h1M302 310.5h1M272 324.5h1M290 330.5h1M320 331.5h1M246 323.5h1M255 330.5h1M268 326.5h1M266 319.5h1M239 327.5h1M223 325.5h1M331 325.5h1M261 318.5h1M253 327.5h1M234 324.5h1M244 317.5h1M271 330.5h1M319 331.5h1M247 309.5h1M316 329.5h1M231 330.5h1M315 329.5h1M282 327.5h1M272 324.5h1M265 323.5h1M326 331.5h1M225 326.5h1M242 328.5h1M266 317.5h1M292 331.5h1M299 327.5h1M247 325.5h1M324 325.5h1M269 329.5h1M286 326.5h1M219 319.5h1M335 323.5h1M248 328.5h1M339 327.5h1M240 328.5h1M235 330.5h1M303 329.5h1M314 329.5h1M331 326.5h1M263 329.5h1M299 319.5h1M266 324.5h1M323 329.5h1M325 328.5h1M333 329.5h1M255 295.5h1M234 321.5h1M310 328.5h1M303 323.5h1M270 326.5h1M324 322.5h1M286 313.5h1M232 328.5h1M229 324.5h1M248 324.5h1M310 325.5h1M285 330.5h1M225 324.5h1M237 327.5h1M235 327.5h1M253 327.5h1M289 331.5h1M244 303.5h1M273 326.5h1M335 329.5h1M268 328.5h1M248 324.5h1M337 322.5h1M311 325.5h1M254 320.5h1M229 318.5h1M310 321.5h1M325 331.5h1M285 323.5h1M321 326.5h1M311 317.5h1M275 328.5h1M280 330.5h1M240 323.5h1M245 328.5h1M285 323.5h1M249 328.5h1M223 317.5h1M265 326.5h1M263 328.5h1M248 308.5h1M272 330.5h1M303 329.5h1M242 322.5h1M339 320.5h1M241 319.5h1M238 321.5h1M316 325.5h1M270 320.5h1M227 329.5h1M331 324.5h1M260 305.5h1M287 324.5h1M312 329.5h1M245 328.5h1M268 329.5h1M232 329.5h1M297 325.5h1M274 328.5h1M221 322.5h1M340 328.5h1M335 330.5h1M250 327.5h1M309 331.5h1M235 293.5h1M303 326.5h1M296 330.5h1M228 319.5h1M231 327.5h1M252 318.5h1M334 327.5h1M271 312.5h1M309 317.5h1M337 330.5h1M220 328.5h1M329 325.5h1M276 327.5h1M267 321.5h1M325 310.5h1M310 328.5h1M226 323.5h1M306 327.5h1M248 326.5h1M273 328.5h1M316 317.5h1M257 312.5h1M298 323.5h1M257 330.5h1M249 322.5h1M256 326.5h1M227 303.5h1M224 330.5h1M251 329.5h1M299 330.5h1M253 320.5h1M275 328.5h1M320 330.5h1M239 327.5h1M275 326.5h1M257 329.5h1M252 310.5h1M329 331.5h1M323 328.5h1M255 311.5h1M300 329.5h1M295 323.5h1M310 315.5h1M292 330.5h1M299 329.5h1M236 327.5h1M273 326.5h1M309 329.5h1M330 331.5h1M242 324.5h1M279 329.5h1M317 325.5h1M267 330.5h1M299 327.5h1M325 327.5h1M260 327.5h1M266 322.5h1M300 330.5h1M320 330.5h1M288 329.5h1M306 326.5h1M287 327.5h1M288 329.5h1M291 328.5h1M264 317.5h1M252 329.5h1M273 326.5h1M340 327.5h1M320 328.5h1M335 326.5h1M258 324.5h1M275 324.5h1M270 322.5h1M285 329.5h1M274 327.5h1M230 330.5h1M245 329.5h1M242 326.5h1M331 324.5h1M245 330.5h1M257 322.5h1M339 318.5h1M296 320.5h1M320 331.5h1M227 329.5h1M319 319.5h1M267 324.5h1M316 328.5h1M226 322.5h1M248 327.5h1M260 324.5h1M241 326.5h1M227 329.5h1M281 331.5h1M271 327.5h1M239 322.5h1M328 330.5h1M263 323.5h1M227 320.5h1M300 328.5h1M332 331.5h1M276 327.5h1M251 327.5h1M268 327.5h1M259 314.5h1M225 324.5h1M253 327.5h1M307 318.5h1M258 329.5h1M280 329.5h1M317 325.5h1M283 320.5h1M341 329.5h1M260 318.5h1M273 330.5h1M314 324.5h1M244 328.5h1M219 321.5h1M329 329.5h1M288 320.5h1M307 330.5h1M246 330.5h1M275 324.5h1M293 327.5h1M274 322.5h1M244 323.5h1M233 328.5h1M336 331.5h1M272 328.5h1M283 319.5h1M328 329.5h1M226 329.5h1M269 326.5h1M321 328.5h1M306 322.5h1M301 319.5h1M232 326.5h1M270 324.5h1M250 327.5h1M241 318.5h1M254 329.5h1M265 329.5h1M269 328.5h1M278 330.5h1M244 325.5h1M234 329.5h1M298 329.5h1M277 307.5h1M253 325.5h1M341 325.5h1M316 330.5h1M228 328.5h1M327 328.5h1M317 326.5h1M323 328.5h1M287 327.5h1M316 316.5h1M269 327.5h1M249 329.5h1M287 330.5h1M248 319.5h1M288 325.5h1M247 329.5h1M279 330.5h1M223 321.5h1M235 317.5h1M289 323.5h1M330 322.5h1M312 330.5h1M264 327.5h1M302 329.5h1M233 327.5h1M266 326.5h1M253 329.5h1M284 325.5h1M236 325.5h1M238 315.5h1M284 312.5h1M306 325.5h1M272 321.5h1M296 315.5h1M286 328.5h1M244 323.5h1M267 329.5h1M234 322.5h1M297 321.5h1M313 328.5h1M249 329.5h1M341 318.5h1M334 327.5h1M338 327.5h1M227 316.5h1M249 316.5h1M229 327.5h1M275 328.5h1M219 329.5h1M304 329.5h1M318 329.5h1M220 330.5h1M340 329.5h1M248 330.5h1M329 325.5h1M236 326.5h1M228 326.5h1M314 327.5h1M297 330.5h1M302 330.5h1M284 326.5h1M221 324.5h1M315 331.5h1M272 328.5h1M221 329.5h1M310 326.5h1M339 320.5h1M245 323.5h1M258 325.5h1M249 326.5h1M243 325.5h1M250 320.5h1M221 328.5h1M302 331.5h1M294 326.5h1M222 328.5h1M258 328.5h1M242 326.5h1M250 313.5h1M242 327.5h1M268 330.5h1M279 323.5h1M257 314.5h1M298 327.5h1M240 325.5h1M230 323.5h1M275 324.5h1M315 324.5h1M313 324.5h1M275 328.5h1M255 327.5h1M276 312.5h1M300 313.5h1M270 311.5h1M271 328.5h1M234 300.5h1M259 306.5h1M284 329.5h1M238 324.5h1M296 325.5h1M236 329.5h1M305 328.5h1M238 326.5h1M313 327.5h1M341 331.5h1M301 331.5h1M243 327.5h1M336 327.5h1M310 324.5h1M340 328.5h1M264 311.5h1M257 325.5h1M276 327.5h1M335 331.5h1M219 329.5h1M333 330.5h1M275 329.5h1M268 330.5h1M322 328.5h1M293 329.5h1M287 325.5h1M295 331.5h1M267 323.5h1M314 325.5h1M254 328.5h1M241 325.5h1M260 329.5h1M290 321.5h1M272 327.5h1M338 325.5h1M234 329.5h1M297 319.5h1M305 323.5h1M252 321.5h1M337 329.5h1M293 329.5h1M312 328.5h1M318 325.5h1M304 327.5h1M314 330.5h1M275 330.5h1M333 329.5h1M268 324.5h1M323 325.5h1M284 330.5h1M316 327.5h1M270 323.5h1M255 313.5h1M312 321.5h1M227 318.5h1M274 305.5h1M339 328.5h1M310 327.5h1M318 327.5h1M232 316.5h1M285 327.5h1M278 316.5h1M244 328.5h1" stroke="#3040ff" stroke-opacity="0.25" stroke-width="1"/>
<path d="M217.6 334.85 217.7 334.5 217.81 334.83 217.91 334.51 218.02 334.76 218.12 334.76 218.22 334.33 218.33 334.33 218.43 333.23 218.54 332.92 218.64 332.92 218.75 333.75 218.85 333.95 218.95 333.87 219.06 334.13 219.16 334.07 219.27 334.49 219.37 334.47 219.47 334.68 219.58 334.07 219.68 333.57 219.79 334.59 219.89 334.52 220 334.8 220.1 333.71 220.2 333.62 220.31 333.9 220.41 334.3 220.52 335.53 220.62 335.69 220.72 335.03 220.83 334.61 220.93 334.56 221.04 334.71 221.14 334.79 221.25 334.69 221.35 335.12 221.45 334.61 221.56 334.59 221.66 334.48 221.77 334.69 221.87 335.1 221.97 335.01 222.08 335.59 222.18 335.37 222.29 335.45 222.39 334.76 222.5 334.43 222.6 333.88 222.7 333.88 222.81 333.59 222.91 334.14 223.02 334.41 223.12 334.01 223.22 334.43 223.33 333.78 223.43 334.65 223.54 333.82 223.64 334.7 223.75 334.25 223.85 334.38 223.95 334.67 224.06 335.08 224.16 334.96 224.27 333.84 224.37 333.5 224.47 333.93 224.58 334.31 224.68 334.88 224.79 335.03 224.89 334.93 225 334.47 225.1 333.86 225.2 333.88 225.31 333.67 225.41 333.95 225.52 333.8 225.62 333.13 225.72 333.44 225.83 333.61 225.93 334.64 226.04 334.11 226.14 333.99 226.25 334.11 226.35 334.23 226.45 334.32 226.56 334.06 226.66 334 226.77 333.58 226.87 333.32 226.97 333.52 227.08 333.93 227.18 333.43 227.29 333.55 227.39 333.24 227.5 334.18 227.6 334.53 227.7 335.18 227.81 334.82 227.91 334.33 228.02 334.33 228.12 334.73 228.22 334.99 228.33 335.12 228.43 335.06 228.54 335.6 228.64 335.07 228.75 334.75 228.85 333.83 228.95 333.66 229.06 333.97 229.16 334.01 229.27 335.26 229.37 334.98 229.47 335.12 229.58 333.98 229.68 333.74 229.79 333.66 229.89 334.33 230 334.51 230.1 334.15 230.2 333.37 230.31 333.68 230.41 334.31 230.52 334.73 230.62 334.91 230.72 335.35 230.83 335.13 230.93 334.6 231.04 333.6 231.14 334.03 231.25 334.2 231.35 334.87 231.45 335.09 231.56 334.91 231.66 335.13 231.77 334.72 231.87 334.05 231.97 332.97 232.08 332.6 232.18 333.23 232.29 333.73 232.39 334.18 232.5 333.67 232.6 333.67 232.7 333.67 232.81 334.15 232.91 334.09 233.02 333.42 233.12 333.88 233.22 334.15 233.33 334.75 233.43 333.96 233.54 333.33 233.64 333.08 233.75 333.62 233.85 333.83 233.95 334.26 234.06 334.11 234.16 334.41 234.27 333.98 234.37 334.15 234.47 333.86 234.58 334.1 234.68 333.77 234.79 333.75 234.89 333.86 235 334.04 235.1 334.29 235.2 333.87 235.31 333.73 235.41 333.78 235.52 333.92 235.62 334.2 235.72 334.01 235.83 333.27 235.93 333.17 236.04 333.59 236.14 334.27 236.25 334.59 236.35 333.31 236.45 333.58 236.56 333.77 236.66 334.38 236.77 334.34 236.87 334.08 236.97 333.68 237.08 332.98 237.18 332.27 237.29 331.57 237.39 330.87 237.5 331.57 237.6 332.27 237.7 332.97 237.81 333.02 237.91 333.94 238.02 333.44 238.12 332.93 238.22 332.55 238.33 333.19 238.43 333.97 238.54 333.53 238.64 333.86 238.75 333.42 238.85 334.32 238.95 334.18 239.06 334.54 239.16 333.95 239.27 333.32 239.37 332.91 239.47 333.54 239.58 333.86 239.68 334.09 239.79 333.59 239.89 333.22 240 333.48 240.1 333.68 240.2 334.89 240.31 335.57 240.41 335.19 240.52 334.8 240.62 334.02 240.72 334.07 240.83 333.71 240.93 333.46 241.04 333.92 241.14 333.67 241.25 334.08 241.35 334.38 241.45 335.31 241.56 335.33 241.66 334.23 241.77 333.1 241.87 332.86 241.97 333.16 242.08 333.26 242.18 333.51 242.29 333.33 242.39 333.56 242.5 333.66 242.6 332.75 242.7 332.61 242.81 332.47 242.91 333.57 243.02 334.25 243.12 334.64 243.22 334.23 243.33 333.58 243.43 333.53 243.54 334.8 243.64 335.06 243.75 335.06 243.85 334.01 243.95 334.66 244.06 333.85 244.16 334.7 244.27 334.46 244.37 334.89 244.47 334.98 244.58 334.75 244.68 334.97 244.79 335.39 244.89 335.61 245 335.29 245.1 335.17 245.2 335.24 245.31 335.69 245.41 334.62 245.52 333.8 245.62 332.93 245.72 333.61 245.83 333.65 245.93 334.11 246.04 334.23 246.14 334.34 246.25 334.43 246.35 334.2 246.45 334.78 246.56 335.37 246.66 334.95 246.77 334.4 246.87 333.92 246.97 334.24 247.08 334.62 247.18 334.24 247.29 334.04 247.39 334.47 247.5 334.71 247.6 334.61 247.7 334.19 247.81 334.39 247.91 334.78 248.02 334.33 248.12 334.31 248.22 334.11 248.33 334.31 248.43 333.6 248.54 334.14 248.64 333.33 248.75 334.32 248.85 333.86 248.95 335 249.06 334.52 249.16 334.24 249.27 333.1 249.37 332.72 249.47 333.16 249.58 333.93 249.68 334.32 249.79 334.32 249.89 334.18 250 334.13 250.1 334.05 250.2 334.52 250.31 334.36 250.41 334.24 250.52 333.56 250.62 333.5 250.72 333.9 250.83 335.1 250.93 335.4 251.04 335.2 251.14 334.82 251.25 335.1 251.35 334.33 251.45 334.04 251.56 333.09 251.66 333.33 251.77 333.88 251.87 334.41 251.97 334.15 252.08 334.17 252.18 334.79 252.29 335.38 252.39 334.93 252.5 333.85 252.6 334.13 252.7 333.31 252.81 334.44 252.91 334.44 253.02 334.94 253.12 334.24 253.22 333.87 253.33 333.41 253.43 332.94 253.54 332.28 253.64 332.9 253.75 333.24 253.85 334.05 253.95 333.5 254.06 334.66 254.16 334.8 254.27 335.4 254.37 334.73 254.47 333.92 254.58 334.35 254.68 334.47 254.79 335.49 254.89 335 255 335.03 255.1 334.25 255.2 333.91 255.31 334.36 255.41 335.48 255.52 335.51 255.62 334.59 255.72 334.4 255.83 334.71 255.93 335.31 256.04 334.44 256.14 334.91 256.25 334.68 256.35 334.81 256.45 334.31 256.56 333.7 256.66 333.72 256.77 334.29 256.87 334.59 256.98 335.15 257.08 334.08 257.18 333.59 257.29 332.77 257.39 332.5 257.5 332.78 257.6 332.66 257.7 333.12 257.81 333.09 257.91 333.31 258.02 333.55 258.12 333.22 258.23 333.93 258.33 334.61 258.43 335.55 258.54 334.58 258.64 334.11 258.75 334.13 258.85 335.02 258.95 334.75 259.06 334.48 259.16 333.73 259.27 334.02 259.37 333.67 259.48 334.42 259.58 334.11 259.68 333.34 259.79 333.1 259.89 333.34 260 333.39 260.1 332.76 260.2 332.13 260.31 331.5 260.41 332.13 260.52 332.77 260.62 333.4 260.73 334.03 260.83 333.7 260.93 334.28 261.04 334.35 261.14 335.26 261.25 334.73 261.35 335.04 261.45 333.9 261.56 334.42 261.66 334.18 261.77 334.3 261.87 333.63 261.98 333.59 262.08 333.99 262.18 334.43 262.29 335.3 262.39 335.4 262.5 335.93 262.6 335.17 262.7 335.36 262.81 334.69 262.91 334.67 263.02 334.13 263.12 334.43 263.23 334.43 263.33 334.72 263.43 334.26 263.54 333.85 263.64 333.07 263.75 333.59 263.85 333.8 263.95 334.21 264.06 334.28 264.16 334.39 264.27 335.11 264.37 335.43 264.48 335.75 264.58 335.58 264.68 334.99 264.79 334.52 264.89 333.96 265 334.22 265.1 333.98 265.2 333.8 265.31 333.5 265.41 333.99 265.52 333.76 265.62 334.4 265.73 334.88 265.83 335.92 265.93 335.05 266.04 334.42 266.14 334.16 266.25 335.45 266.35 335.57 266.45 335.71 266.56 335.63 266.66 335.15 266.77 334.78 266.87 333.52 266.98 333.92 267.08 333.73 267.18 334.49 267.29 334.26 267.39 334.61 267.5 334.14 267.6 334.29 267.7 334.54 267.81 334.76 267.91 334.77 268.02 334.63 268.12 334.68 268.23 334.4 268.33 333.7 268.43 333.64 268.54 334.8 268.64 334.98 268.75 334.34 268.85 333.6 268.95 334.18 269.06 334.74 269.16 334.58 269.27 333.95 269.37 334.29 269.48 333.73 269.58 333.72 269.68 333.86 269.79 334.12 269.89 334.5 270 333.88 270.1 334.13 270.2 334.06 270.31 334.2 270.41 334.49 270.52 334.78 270.62 334.98 270.73 334.93 270.83 334.52 270.93 334.37 271.04 334.86 271.14 334.7 271.25 334.79 271.35 333.89 271.45 333.94 271.56 333.83 271.66 333.94 271.77 334.71 271.87 334.24 271.98 333.75 272.08 333 272.18 333.75 272.29 334.2 272.39 334.55 272.5 333.78 272.6 334.19 272.7 334.49 272.81 335.38 272.91 335.49 273.02 334.81 273.12 334.53 273.23 334.16 273.33 334.54 273.43 334.05 273.54 334.15 273.64 333.94 273.75 333.85 273.85 333.75 273.95 334.02 274.06 334.68 274.16 334.38 274.27 334.05 274.37 334.24 274.48 334.23 274.58 334.9 274.68 335.4 274.79 336.18 274.89 336.34 275 335.64 275.1 335.27 275.2 334.69 275.31 334.82 275.41 335.22 275.52 334.79 275.62 335.3 275.73 334.65 275.83 334.9 275.93 334.21 276.04 334.32 276.14 334.98 276.25 334.6 276.35 334.58 276.45 333.61 276.56 334.71 276.66 334.81 276.77 335.26 276.87 335.35 276.98 335.57 277.08 335.5 277.18 334.96 277.29 334.7 277.39 334.52 277.5 334.39 277.6 334.66 277.7 334.59 277.81 334.78 277.91 334.48 278.02 334.28 278.12 333.93 278.23 333.98 278.33 334.46 278.43 334.15 278.54 334.83 278.64 335.46 278.75 336.07 278.85 335.75 278.95 334.78 279.06 333.98 279.16 333.54 279.27 333.45 279.37 334.09 279.48 334.5 279.58 335.51 279.68 334.95 279.79 334.56 279.89 334.02 280 334.93 280.1 335.5 280.2 335.31 280.31 334.82 280.41 334.06 280.52 334.17 280.62 334.42 280.73 335.25 280.83 335.32 280.93 334.47 281.04 333.33 281.14 333.59 281.25 334 281.35 334.98 281.45 334.62 281.56 335.83 281.66 335.8 281.77 336.56 281.87 335 281.98 334.92 282.08 334.09 282.18 334.61 282.29 334.96 282.39 334.9 282.5 334.52 282.6 333.95 282.7 333.98 282.81 333.97 282.91 333.84 283.02 334.09 283.12 335.08 283.23 335.6 283.33 335.83 283.43 334.96 283.54 334.17 283.64 333.88 283.75 333.8 283.85 335.15 283.95 335.06 284.06 335.84 284.16 334.63 284.27 334.28 284.37 333.44 284.48 333.49 284.58 333.53 284.68 333.28 284.79 333.75 284.89 333.59 285 334.36 285.1 334.66 285.2 335.01 285.31 334.62 285.41 334 285.52 334.45 285.62 334.5 285.73 334.7 285.83 333.57 285.93 333.66 286.04 333.43 286.14 333.15 286.25 332.53 286.35 331.92 286.45 332.53 286.56 333.15 286.66 333.76 286.77 334.38 286.87 334.74 286.98 334.48 287.08 334.6 287.18 335.46 287.29 335.14 287.39 335.28 287.5 335.15 287.6 335.45 287.7 335.1 287.81 334.62 287.91 333.94 288.02 334.7 288.12 334.57 288.23 334.59 288.33 333.5 288.43 334.3 288.54 334.77 288.64 334.94 288.75 333.99 288.85 334.12 288.95 334.26 289.06 334.74 289.16 334.52 289.27 334.5 289.37 334.84 289.48 334.25 289.58 334.96 289.68 334.67 289.79 335.32 289.89 334.76 290 335.2 290.1 336.1 290.2 335.53 290.31 334.94 290.41 333.7 290.52 334.26 290.62 334.41 290.73 334.67 290.83 334.62 290.93 334.22 291.04 334.33 291.14 334.69 291.25 334.52 291.35 334.47 291.45 334.07 291.56 334.81 291.66 334.42 291.77 334.27 291.87 334.16 291.98 334.73 292.08 335.3 292.18 335.32 292.29 334.31 292.39 334.61 292.5 334.68 292.6 335.17 292.7 334.74 292.81 334.62 292.91 334.83 293.02 334.33 293.12 333.82 293.23 333.9 293.33 334.08 293.43 334.52 293.54 334.35 293.64 334.45 293.75 335.39 293.85 335.41 293.95 335.8 294.06 335.19 294.16 335.07 294.27 334.49 294.37 334.5 294.48 334.82 294.58 335.13 294.68 335.35 294.79 334.63 294.89 333.9 295 333.59 295.1 333.57 295.2 333.92 295.31 334.24 295.41 334.49 295.52 334.53 295.62 334.09 295.73 334.95 295.83 335.41 295.93 336.29 296.04 335.78 296.14 335.67 296.25 335.25 296.35 335.69 296.45 335.1 296.56 335.25 296.66 334.54 296.77 334.98 296.87 333.99 296.98 334.84 297.08 334.84 297.18 334.84 297.29 334.31 297.39 334.86 297.5 336.01 297.6 336.21 297.7 335.33 297.81 334.08 297.91 333.81 298.02 333.85 298.12 334.04 298.23 333.85 298.33 334.47 298.43 334.57 298.54 335.15 298.64 334.81 298.75 334.78 298.85 334.03 298.95 334.11 299.06 333.99 299.16 333.83 299.27 333.43 299.37 333.86 299.48 334.29 299.58 334.63 299.68 334.59 299.79 334.44 299.89 334.06 300 334.07 300.1 334.06 300.2 334.36 300.31 334.31 300.41 334.93 300.52 334.89 300.62 334.98 300.73 334.53 300.83 334.3 300.93 333.99 301.04 333.84 301.14 334.39 301.25 335.24 301.35 335.64 301.45 335.46 301.56 334.82 301.66 334.19 301.77 334.08 301.87 333.64 301.98 334.27 302.08 334.77 302.18 334.97 302.29 335.23 302.39 335.41 302.5 335.92 302.6 335.39 302.7 334.44 302.81 334.24 302.91 334.03 303.02 334.43 303.12 335.02 303.23 335.74 303.33 336.34 303.43 335.83 303.54 336.18 303.64 336.1 303.75 336.33 303.85 335.26 303.95 334.56 304.06 334.4 304.16 334.65 304.27 334.94 304.37 333.82 304.48 334.49 304.58 335.13 304.68 336.8 304.79 336.72 304.89 336.13 305 335.11 305.1 334.69 305.2 334.66 305.31 335.06 305.41 334.91 305.52 335.14 305.62 334.87 305.73 334.96 305.83 334.55 305.93 334.58 306.04 334.36 306.14 334.17 306.25 334.68 306.35 334.71 306.45 335.55 306.56 335.99 306.66 336.3 306.77 335.6 306.87 334.69 306.98 334.43 307.08 334.27 307.18 335.07 307.29 335.4 307.39 335.79 307.5 335.45 307.6 335.14 307.7 334.85 307.81 334.45 307.91 334.53 308.02 333.91 308.12 334 308.23 334.03 308.33 334.42 308.43 333.8 308.54 334.13 308.64 334.91 308.75 335.08 308.85 334.35 308.95 333.7 309.06 334.27 309.16 334.43 309.27 335.23 309.37 335.55 309.48 335.23 309.58 335.18 309.68 334.83 309.79 335.16 309.89 334.6 310 334.93 310.1 335.37 310.2 335.27 310.31 335.04 310.41 334.25 310.52 334.51 310.62 333.71 310.73 334.3 310.83 333.82 310.93 334.31 311.04 334.28 311.14 335.2 311.25 335.15 311.35 335.15 311.45 334.54 311.56 334.94 311.66 335.31 311.77 335.78 311.87 335.63 311.98 334.97 312.08 334.76 312.18 335.12 312.29 335.74 312.39 336.03 312.5 336.22 312.6 336.06 312.7 335.89 312.81 335.45 312.91 334.64 313.02 334.08 313.12 333.43 313.23 334.09 313.33 334.33 313.43 335.12 313.54 335.75 313.64 336.41 313.75 336.26 313.85 335.46 313.95 334.11 314.06 334.01 314.16 334.72 314.27 335.65 314.37 335.44 314.48 335.31 314.58 335.35 314.68 335.35 314.79 334.9 314.89 334.57 315 334.72 315.1 334.77 315.2 334.44 315.31 334.14 315.41 334.04 315.52 334.33 315.62 334.67 315.73 334.78 315.83 334.82 315.93 334.72 316.04 333.79 316.14 333.85 316.25 333.77 316.35 333.91 316.45 334.32 316.56 334.43 316.66 334.73 316.77 334.32 316.87 334.38 316.98 335.12 317.08 335.19 317.18 335.42 317.29 334.76 317.39 334.56 317.5 334.41 317.6 334.38 317.7 334.94 317.81 335.14 317.91 335.28 318.02 334.83 318.12 334.93 318.23 335.46 318.33 335.64 318.43 335.46 318.54 335.13 318.64 335.08 318.75 334.69 318.85 334.78 318.95 334.62 319.06 334.95 319.16 334.79 319.27 334.79 319.37 334.39 319.48 334.41 319.58 334.67 319.68 334.94 319.79 334.61 319.89 334.56 320 334.52 320.1 334.42 320.2 334.1 320.31 333.88 320.41 334.75 320.52 335.29 320.62 335.44 320.73 334.38 320.83 334.7 320.93 335.39 321.04 335.94 321.14 335.22 321.25 334.98 321.35 334.86 321.45 334.88 321.56 334.71 321.66 335.06 321.77 335.32 321.87 335.04 321.98 335.26 322.08 335.47 322.18 335.83 322.29 335.46 322.39 334.67 322.5 334.64 322.6 335.13 322.7 335.42 322.81 334.81 322.91 334.59 323.02 334.16 323.12 334.82 323.23 334.19 323.33 334.48 323.43 334.6 323.54 333.93 323.64 333.26 323.75 332.59 323.85 331.92 323.95 332.59 324.06 333.26 324.16 333.93 324.27 334.6 324.37 334.05 324.48 333.71 324.58 333.78 324.68 334.1 324.79 334.56 324.89 335.26 325 335.06 325.1 335.15 325.2 334.69 325.31 335.52 325.41 335.22 325.52 334.8 325.62 334.35 325.73 334.19 325.83 334.73 325.93 334.64 326.04 335.12 326.14 336 326.25 335.93 326.35 335.6 326.45 334.46 326.56 334 326.66 333.84 326.77 333.89 326.87 334.71 326.98 334.01 327.08 334.65 327.18 334.55 327.29 335.74 327.39 334.89 327.5 334.64 327.6 334.28 327.7 335.27 327.81 335.57 327.91 335.4 328.02 334.96 328.12 335.21 328.23 335.51 328.33 335.54 328.43 335.1 328.54 335.05 328.64 335.19 328.75 335.2 328.85 334.85 328.95 334.6 329.06 334.66 329.16 335.33 329.27 335.12 329.37 334.86 329.48 334.97 329.58 335.04 329.68 334.64 329.79 334.9 329.89 334.6 330 334.87 330.1 334.83 330.2 335.76 330.31 336.28 330.41 335.26 330.52 334.91 330.62 334.7 330.73 335.15 330.83 334.95 330.93 334.26 331.04 334.21 331.14 334.59 331.25 335.19 331.35 335.06 331.45 335.03 331.56 335.07 331.66 335.51 331.77 335.59 331.87 335.98 331.98 335.49 332.08 335.09 332.18 335.35 332.29 335.38 332.39 335.43 332.5 335.89 332.6 336.53 332.7 337.26 332.81 336.44 332.91 335.09 333.02 333.53 333.12 333.21 333.23 334.49 333.33 335.63 333.43 335.99 333.54 335.6 333.64 334.74 333.75 334.45 333.85 334.1 333.95 334.59 334.06 335.35 334.16 335.68 334.27 335.27 334.37 334.32 334.48 334.04 334.58 334.73 334.68 335.03 334.79 335.41 334.89 334.96 335 334.66 335.1 334.32 335.2 334.59 335.31 335.17 335.41 335.68 335.52 335.61 335.62 335.39 335.73 335.56 335.83 335.18 335.93 334.68 336.04 334 336.14 334.03 336.25 334.19 336.35 334.7 336.45 335.12 336.56 335.21 336.66 335.71 336.77 335.48 336.87 336.28 336.98 334.97 337.08 334.84 337.18 334.36 337.29 335.02 337.39 335.43 337.5 334.66 337.6 334.25 337.7 334.03 337.81 334.76 337.91 334.94 338.02 334.88 338.12 334.72 338.23 335.11 338.33 335.75 338.43 336.22 338.54 336.3 338.64 336.33 338.75 336.18 338.85 335.29 338.95 334.7 339.06 334.12 339.16 334.97 339.27 334.5 339.37 334.7 339.48 334.21 339.58 334.29 339.68 334.18 339.79 333.78 339.89 334.5 340 334.77 340.1 335.28 340.2 334.99 340.31 334.71 340.41 334.11 340.52 334.19 340.62 334.25 340.73 335.21 340.83 335.4 340.93 336.18 341.04 335.82 341.14 335.04 341.25 334.34 341.35 334.08 341.45 335.05 341.56 335.13 341.66 335.62 341.77 334.89 341.87 334.8 341.98 334.56 342.08 334.3 342.18 334.71 342.29 334.95 342.39 335.33 342.5 335.18 342.6 335.14" fill="none" stroke="#d90000" stroke-width="1.6" stroke-linejoin="round" />
</g>
<rect x="217.6" y="214.6" width="125" height="125.7" fill="none" stroke="#3a3a3a" stroke-width="1.3"/>
<path d="M217.6 319.35h2.5M342.6 319.35h-2.5M217.6 298.4h2.5M342.6 298.4h-2.5M217.6 277.45h2.5M342.6 277.45h-2.5M217.6 256.5h2.5M342.6 256.5h-2.5M217.6 235.55h2.5M342.6 235.55h-2.5M259.27 340.3v-2.5M259.27 214.6v2.5M300.93 340.3v-2.5M300.93 214.6v2.5" stroke="#3a3a3a" stroke-width="1.2" fill="none"/>
<text x="206.07" y="345.2" font-size="13.3" fill="#262626" stroke="#262626" stroke-width="0.28" textLength="7.03" lengthAdjust="spacingAndGlyphs" >0</text>
<path d="M209.25 324.25 210.37 324.25 210.37 315.1 209.34 315.1 207.29 316.59 207.29 317.69 209.25 316.22z" fill="#262626" stroke="#262626" stroke-width="0.28" stroke-linejoin="round"/>
<text x="206.07" y="303.3" font-size="13.3" fill="#262626" stroke="#262626" stroke-width="0.28" textLength="7.03" lengthAdjust="spacingAndGlyphs" >2</text>
<text x="206.07" y="282.35" font-size="13.3" fill="#262626" stroke="#262626" stroke-width="0.28" textLength="7.03" lengthAdjust="spacingAndGlyphs" >3</text>
<text x="206.07" y="261.4" font-size="13.3" fill="#262626" stroke="#262626" stroke-width="0.28" textLength="7.03" lengthAdjust="spacingAndGlyphs" >4</text>
<text x="206.07" y="240.45" font-size="13.3" fill="#262626" stroke="#262626" stroke-width="0.28" textLength="7.03" lengthAdjust="spacingAndGlyphs" >5</text>
<text x="206.07" y="219.5" font-size="13.3" fill="#262626" stroke="#262626" stroke-width="0.28" textLength="7.03" lengthAdjust="spacingAndGlyphs" >6</text>
<text x="214.1" y="356.25" font-size="13.1" fill="#262626" stroke="#262626" stroke-width="0.28" textLength="6.99" lengthAdjust="spacingAndGlyphs" >0</text>
<text x="248.78" y="356.25" font-size="13.1" fill="#262626" stroke="#262626" stroke-width="0.28" textLength="20.98" lengthAdjust="spacingAndGlyphs" >200</text>
<text x="290.44" y="356.25" font-size="13.1" fill="#262626" stroke="#262626" stroke-width="0.28" textLength="20.98" lengthAdjust="spacingAndGlyphs" >400</text>
<text x="332.11" y="356.25" font-size="13.1" fill="#262626" stroke="#262626" stroke-width="0.28" textLength="20.98" lengthAdjust="spacingAndGlyphs" >600</text>
<text x="279.6" y="373.4" font-size="15.4" fill="#262626" text-anchor="middle" stroke="#262626" stroke-width="0.25" textLength="54.6" lengthAdjust="spacingAndGlyphs">Time [s]</text>
<text x="230" y="233.5" font-size="14.6" fill="#55ab4a" stroke="#55ab4a" stroke-width="0.3" textLength="27.91" lengthAdjust="spacingAndGlyphs">40%</text>
<clipPath id="cb2"><rect x="382.6" y="214.6" width="125" height="125.7"/></clipPath>
<g clip-path="url(#cb2)"><g filter="url(#nz)"><rect x="382.6" y="236.31" width="2.55" height="103.99" fill="url(#gb2)" opacity="1"/><rect x="385.1" y="231.12" width="2.55" height="109.18" fill="url(#gb2)" opacity="1"/><rect x="387.6" y="223.97" width="2.55" height="116.33" fill="url(#gb2)" opacity="1"/><rect x="390.1" y="214.86" width="2.55" height="125.44" fill="url(#gb2)" opacity="1"/><rect x="392.6" y="204.78" width="2.55" height="135.52" fill="url(#gb2)" opacity="1"/><rect x="395.1" y="191.38" width="2.55" height="148.92" fill="url(#gb2)" opacity="1"/><rect x="397.6" y="188.5" width="2.55" height="151.8" fill="url(#gb2)" opacity="1"/><rect x="400.1" y="208.42" width="2.55" height="131.88" fill="url(#gb2)" opacity="1"/><rect x="402.6" y="235.77" width="2.55" height="104.53" fill="url(#gb2)" opacity="1"/><rect x="405.1" y="249.28" width="2.55" height="91.02" fill="url(#gb2)" opacity="1"/><rect x="407.6" y="255.51" width="2.55" height="84.79" fill="url(#gb2)" opacity="1"/><rect x="410.1" y="258.55" width="2.55" height="81.75" fill="url(#gb2)" opacity="1"/><rect x="412.6" y="258.05" width="2.55" height="82.25" fill="url(#gb2)" opacity="1"/><rect x="415.1" y="247.41" width="2.55" height="92.89" fill="url(#gb2)" opacity="1"/><rect x="417.6" y="213.97" width="2.55" height="126.33" fill="url(#gb2)" opacity="1"/><rect x="420.1" y="193.69" width="2.55" height="146.61" fill="url(#gb2)" opacity="1"/><rect x="422.6" y="187.47" width="2.55" height="152.83" fill="url(#gb2)" opacity="1"/><rect x="425.1" y="208.3" width="2.55" height="132" fill="url(#gb2)" opacity="1"/><rect x="427.6" y="224.35" width="2.55" height="115.95" fill="url(#gb2)" opacity="1"/><rect x="430.1" y="235.26" width="2.55" height="105.04" fill="url(#gb2)" opacity="1"/><rect x="432.6" y="245.99" width="2.55" height="94.31" fill="url(#gb2)" opacity="1"/><rect x="435.1" y="254.21" width="2.55" height="86.09" fill="url(#gb2)" opacity="1"/><rect x="437.6" y="248.76" width="2.55" height="91.54" fill="url(#gb2)" opacity="1"/><rect x="440.1" y="243.3" width="2.55" height="97" fill="url(#gb2)" opacity="1"/><rect x="442.6" y="237.84" width="2.55" height="102.46" fill="url(#gb2)" opacity="1"/><rect x="445.1" y="233.23" width="2.55" height="107.07" fill="url(#gb2)" opacity="1"/><rect x="447.6" y="230.18" width="2.55" height="110.12" fill="url(#gb2)" opacity="1"/><rect x="450.1" y="226.03" width="2.55" height="114.27" fill="url(#gb2)" opacity="1"/><rect x="452.6" y="220.57" width="2.55" height="119.73" fill="url(#gb2)" opacity="1"/><rect x="455.1" y="221.21" width="2.55" height="119.09" fill="url(#gb2)" opacity="1"/><rect x="457.6" y="226.67" width="2.55" height="113.63" fill="url(#gb2)" opacity="1"/><rect x="460.1" y="232.14" width="2.55" height="108.16" fill="url(#gb2)" opacity="1"/><rect x="462.6" y="237.62" width="2.55" height="102.68" fill="url(#gb2)" opacity="1"/><rect x="465.1" y="245.41" width="2.55" height="94.89" fill="url(#gb2)" opacity="1"/><rect x="467.6" y="253.9" width="2.55" height="86.4" fill="url(#gb2)" opacity="1"/><rect x="470.1" y="262.39" width="2.55" height="77.91" fill="url(#gb2)" opacity="1"/><rect x="472.6" y="270.88" width="2.55" height="69.42" fill="url(#gb2)" opacity="1"/><rect x="475.1" y="265.87" width="2.55" height="74.43" fill="url(#gb2)" opacity="1"/><rect x="477.6" y="260.34" width="2.55" height="79.96" fill="url(#gb2)" opacity="1"/><rect x="480.1" y="254.28" width="2.55" height="86.02" fill="url(#gb2)" opacity="1"/><rect x="482.6" y="248.47" width="2.55" height="91.83" fill="url(#gb2)" opacity="1"/><rect x="485.1" y="243.92" width="2.55" height="96.38" fill="url(#gb2)" opacity="1"/><rect x="487.6" y="239.36" width="2.55" height="100.94" fill="url(#gb2)" opacity="1"/><rect x="490.1" y="241.63" width="2.55" height="98.67" fill="url(#gb2)" opacity="1"/><rect x="492.6" y="244.66" width="2.55" height="95.64" fill="url(#gb2)" opacity="1"/><rect x="495.1" y="247.09" width="2.55" height="93.21" fill="url(#gb2)" opacity="1"/><rect x="497.6" y="249.88" width="2.55" height="90.42" fill="url(#gb2)" opacity="1"/><rect x="500.1" y="255.94" width="2.55" height="84.36" fill="url(#gb2)" opacity="1"/><rect x="502.6" y="263.23" width="2.55" height="77.07" fill="url(#gb2)" opacity="1"/><rect x="505.1" y="275.44" width="2.55" height="64.86" fill="url(#gb2)" opacity="1"/></g>
<path d="M439 308.5h1M497 310.5h1M479 311.5h1M500 301.5h1M423 270.5h1M480 311.5h1M417 292.5h1M392 296.5h1M445 302.5h1M418 296.5h1M484 311.5h1M469 314.5h1M408 313.5h1M491 301.5h1M480 312.5h1M397 293.5h1M469 307.5h1M440 307.5h1M401 283.5h1M406 310.5h1M469 309.5h1M443 310.5h1M392 281.5h1M481 313.5h1M401 261.5h1M417 299.5h1M493 311.5h1M453 297.5h1M394 274.5h1M412 308.5h1M432 304.5h1M405 304.5h1M413 297.5h1M487 302.5h1M483 301.5h1M415 308.5h1M499 304.5h1M442 300.5h1M495 286.5h1M387 289.5h1M492 289.5h1M495 306.5h1M439 306.5h1M416 300.5h1M399 296.5h1M485 307.5h1M506 321.5h1M471 316.5h1M472 317.5h1M388 304.5h1M499 306.5h1M386 299.5h1M425 271.5h1M395 296.5h1M441 280.5h1M485 297.5h1M443 292.5h1M463 306.5h1M477 291.5h1M389 253.5h1M456 272.5h1M500 265.5h1M427 292.5h1M421 286.5h1M387 305.5h1M402 292.5h1M439 309.5h1M506 321.5h1M384 307.5h1M453 295.5h1M453 297.5h1M420 295.5h1M416 312.5h1M398 262.5h1M385 308.5h1M476 316.5h1M436 305.5h1M426 301.5h1M419 299.5h1M411 301.5h1M408 311.5h1M450 305.5h1M441 291.5h1M449 294.5h1M462 302.5h1M487 306.5h1M405 300.5h1M387 297.5h1M427 299.5h1M496 307.5h1M414 313.5h1M416 298.5h1M485 279.5h1M432 307.5h1M505 320.5h1M414 314.5h1M388 306.5h1M500 274.5h1M422 257.5h1M501 306.5h1M394 292.5h1M430 305.5h1M493 306.5h1M504 317.5h1M444 305.5h1M478 297.5h1M475 315.5h1M467 299.5h1M506 316.5h1M474 302.5h1M388 291.5h1M415 301.5h1M397 257.5h1M503 305.5h1M401 297.5h1M428 304.5h1M385 302.5h1M469 314.5h1M476 316.5h1M392 293.5h1M419 284.5h1M475 315.5h1M444 309.5h1M466 307.5h1M385 297.5h1M390 283.5h1M445 303.5h1M444 292.5h1M448 288.5h1M488 306.5h1M418 286.5h1M505 312.5h1M464 285.5h1M388 304.5h1M490 302.5h1M407 309.5h1M419 295.5h1M478 297.5h1M465 303.5h1M458 304.5h1M456 294.5h1M446 306.5h1M398 294.5h1M482 314.5h1M498 312.5h1M415 311.5h1M498 300.5h1M445 279.5h1M412 311.5h1M441 277.5h1M459 264.5h1M431 298.5h1M492 306.5h1M498 313.5h1M500 313.5h1M489 294.5h1M500 309.5h1M493 288.5h1M480 309.5h1M436 299.5h1M433 302.5h1M498 299.5h1M406 304.5h1M455 291.5h1M451 296.5h1M482 311.5h1M451 300.5h1M402 262.5h1M494 300.5h1M427 292.5h1M474 317.5h1M416 302.5h1M434 313.5h1M474 319.5h1M490 285.5h1M468 312.5h1M475 311.5h1M494 301.5h1M484 308.5h1M504 304.5h1M419 298.5h1M437 305.5h1M414 314.5h1M411 313.5h1M429 294.5h1M388 291.5h1M472 307.5h1M430 304.5h1M416 301.5h1M466 273.5h1M473 314.5h1M459 304.5h1M427 232.5h1M451 271.5h1M428 296.5h1M466 289.5h1M480 290.5h1M470 296.5h1M433 309.5h1M434 303.5h1M461 278.5h1M491 304.5h1M389 298.5h1M402 283.5h1M449 290.5h1M432 277.5h1M479 315.5h1M387 306.5h1M468 311.5h1M474 305.5h1M448 298.5h1M447 300.5h1M451 294.5h1M424 273.5h1M398 261.5h1M438 309.5h1M474 318.5h1M436 311.5h1M399 250.5h1M453 281.5h1M417 304.5h1M391 291.5h1M506 318.5h1M495 311.5h1M405 298.5h1M460 298.5h1M430 273.5h1M477 317.5h1M407 297.5h1M449 297.5h1M474 307.5h1M408 306.5h1M421 242.5h1M404 302.5h1M446 308.5h1M434 311.5h1M457 302.5h1M415 311.5h1M404 260.5h1M411 295.5h1M401 291.5h1M479 315.5h1M453 293.5h1M432 308.5h1M449 293.5h1M406 310.5h1M448 293.5h1M466 311.5h1M438 311.5h1M458 305.5h1M469 313.5h1M452 304.5h1M485 311.5h1M448 265.5h1M390 251.5h1M436 301.5h1M482 299.5h1M501 308.5h1M489 309.5h1M445 289.5h1M439 307.5h1M477 309.5h1M384 292.5h1M475 318.5h1M433 311.5h1M486 311.5h1M415 290.5h1M453 304.5h1M473 305.5h1M452 299.5h1M413 312.5h1M455 269.5h1M452 304.5h1M424 295.5h1M465 311.5h1M473 294.5h1M476 307.5h1M415 301.5h1M447 285.5h1M423 265.5h1M459 299.5h1M433 310.5h1M411 315.5h1M462 307.5h1M495 308.5h1M395 293.5h1M443 310.5h1M503 315.5h1M496 290.5h1M502 314.5h1M403 307.5h1M409 302.5h1M387 269.5h1M404 289.5h1M473 306.5h1M480 308.5h1M482 268.5h1M505 319.5h1M473 317.5h1M425 299.5h1M471 315.5h1M407 307.5h1M491 288.5h1M471 292.5h1M414 309.5h1M384 281.5h1M446 304.5h1M455 295.5h1M506 320.5h1M487 301.5h1M492 293.5h1M431 309.5h1M434 310.5h1M430 302.5h1M475 305.5h1M490 310.5h1M499 308.5h1M458 298.5h1M473 313.5h1M471 313.5h1M440 309.5h1M425 298.5h1M452 305.5h1M492 306.5h1M395 268.5h1M467 303.5h1M435 312.5h1M476 309.5h1M431 307.5h1M477 308.5h1M441 289.5h1M394 299.5h1M505 313.5h1M470 310.5h1M472 310.5h1M473 319.5h1M426 278.5h1M434 308.5h1M464 309.5h1M462 279.5h1M476 314.5h1M427 301.5h1M396 296.5h1M469 314.5h1M429 282.5h1M396 296.5h1M387 296.5h1M420 274.5h1M489 306.5h1M474 312.5h1M486 298.5h1M472 313.5h1M494 304.5h1M387 294.5h1M438 299.5h1M478 316.5h1M474 305.5h1M501 314.5h1M480 308.5h1M408 313.5h1M469 290.5h1M415 311.5h1M504 303.5h1M422 293.5h1M452 290.5h1M414 297.5h1M469 315.5h1M487 302.5h1M410 315.5h1M427 280.5h1M501 300.5h1M455 290.5h1M397 285.5h1M388 290.5h1M486 312.5h1M407 312.5h1M429 263.5h1M448 280.5h1M413 313.5h1M438 303.5h1M432 304.5h1M391 277.5h1M427 278.5h1M427 300.5h1M449 289.5h1M473 311.5h1M443 295.5h1M454 289.5h1M386 291.5h1M481 288.5h1M498 312.5h1M409 315.5h1M409 312.5h1M456 283.5h1M468 311.5h1M449 257.5h1M401 297.5h1M485 310.5h1M494 309.5h1M485 310.5h1M459 306.5h1M393 291.5h1M412 302.5h1M494 304.5h1M472 317.5h1M432 311.5h1M506 316.5h1M434 293.5h1M422 290.5h1M402 290.5h1M453 286.5h1M436 314.5h1M448 282.5h1M387 307.5h1M447 277.5h1M495 298.5h1M421 293.5h1M400 283.5h1M430 281.5h1M479 309.5h1M498 296.5h1M493 284.5h1M478 314.5h1M482 304.5h1M396 266.5h1M499 300.5h1M444 299.5h1M428 288.5h1M503 307.5h1M439 293.5h1M440 307.5h1M465 308.5h1M506 319.5h1M413 316.5h1M454 282.5h1M498 306.5h1M393 293.5h1M406 310.5h1M443 286.5h1M413 313.5h1M481 284.5h1M385 303.5h1M433 295.5h1M448 301.5h1M442 306.5h1M450 295.5h1M480 315.5h1M404 302.5h1M446 269.5h1" stroke="#3040ff" stroke-opacity="0.25" stroke-width="1"/>
<path d="M382.6 317.84 382.91 322.55 383.23 325.37 383.54 320.26 383.85 316.38 384.16 321.21 384.48 322.31 384.79 320.35 385.1 319.79 385.41 323.47 385.73 321.36 386.04 318.75 386.35 322.5 386.66 322.29 386.98 326.2 387.29 320.09 387.6 319.43 387.91 319.23 388.23 317.8 388.54 320.67 388.85 320.99 389.16 322.58 389.48 318.62 389.79 315.13 390.1 315.59 390.41 319.95 390.73 314.39 391.04 318.82 391.35 319.52 391.66 316.1 391.98 319.42 392.29 319.95 392.6 317.88 392.91 318.93 393.23 319.59 393.54 312.29 393.85 309.5 394.16 311.55 394.48 315.52 394.79 318.06 395.1 315.85 395.41 313.69 395.73 313.55 396.04 310.34 396.35 310.68 396.66 311.98 396.98 311.97 397.29 313.74 397.6 310.27 397.91 309.58 398.23 311.61 398.54 309.61 398.85 312.63 399.16 314.64 399.48 310.41 399.79 315.92 400.1 307.51 400.41 314.23 400.73 310.9 401.04 316.56 401.35 320.02 401.66 315.01 401.98 316.91 402.29 320.22 402.6 317.65 402.91 317.88 403.23 318.23 403.54 318.5 403.85 323.97 404.16 324.15 404.48 323.98 404.79 319.11 405.1 327.29 405.41 321.37 405.73 322.92 406.04 322.31 406.35 326.93 406.66 321.61 406.98 327.43 407.29 327.5 407.6 320.23 407.91 323.57 408.23 326.8 408.54 322.93 408.85 327.83 409.16 320.76 409.48 325.44 409.79 328.43 410.1 325.23 410.41 328.53 410.73 322.5 411.04 326.42 411.35 322.22 411.66 323.2 411.98 320.93 412.29 322.49 412.6 322.01 412.91 325.2 413.23 327.12 413.54 321.89 413.85 327.93 414.16 324.07 414.48 323.71 414.79 324.09 415.1 320.79 415.41 321.54 415.73 325.16 416.04 321.03 416.35 323.9 416.66 327.92 416.98 324.59 417.29 321.27 417.6 321.44 417.91 318.68 418.23 319.41 418.54 317.91 418.85 316.38 419.16 314.62 419.48 315.05 419.79 319.24 420.1 311.95 420.41 315.27 420.73 318.35 421.04 312 421.35 315.68 421.66 315.32 421.98 311.38 422.29 315.37 422.6 313.65 422.91 313.98 423.23 311.57 423.54 306.5 423.85 315.69 424.16 314.91 424.48 313.94 424.79 319.7 425.1 315.84 425.41 318.01 425.73 315.78 426.04 313.23 426.35 314.61 426.66 318.45 426.98 318.7 427.29 320.12 427.6 315.71 427.91 318.52 428.23 317.06 428.54 315.87 428.85 321.97 429.16 321.61 429.48 323.33 429.79 315.07 430.1 319.89 430.41 315.53 430.73 320.48 431.04 319.19 431.35 316.65 431.66 317.44 431.98 322.58 432.29 323.9 432.6 318.99 432.91 317.86 433.23 323.1 433.54 318.6 433.85 327.3 434.16 326.71 434.48 327.64 434.79 327.07 435.1 322.19 435.41 324.43 435.73 323.14 436.04 323.98 436.35 328.18 436.66 322.35 436.98 326.93 437.29 322.4 437.6 324.59 437.91 324.74 438.23 324.16 438.54 322.18 438.85 322.48 439.16 325.99 439.48 318.84 439.79 326.27 440.1 328.88 440.41 322.24 440.73 328.22 441.04 322.84 441.35 316.39 441.66 321.09 441.98 317.14 442.29 325.07 442.6 323.47 442.91 323.01 443.23 323.94 443.54 323.17 443.85 324.87 444.16 322.28 444.48 323.68 444.79 325.14 445.1 326.68 445.41 325.07 445.73 325.24 446.04 323.86 446.35 319.44 446.66 320.49 446.98 319.34 447.29 318.36 447.6 323.04 447.91 321.05 448.23 320.75 448.54 321.42 448.85 320.34 449.16 323.91 449.48 317.61 449.79 318.29 450.1 318.11 450.41 315.89 450.73 315.89 451.04 312.29 451.35 322.04 451.66 313.46 451.98 320.57 452.29 317.85 452.6 321.61 452.91 311.31 453.23 317.43 453.54 319.91 453.85 322.03 454.16 317.12 454.48 316.89 454.79 315.91 455.1 315.01 455.41 314.11 455.73 315.07 456.04 313.72 456.35 317.14 456.66 318.25 456.98 317.23 457.29 322.53 457.6 320.99 457.91 311.83 458.23 319.03 458.54 321.51 458.85 321.27 459.16 319.41 459.48 326.3 459.79 316.67 460.1 324.52 460.41 318.45 460.73 320.33 461.04 315.9 461.35 320.49 461.66 325.91 461.98 321.51 462.29 316.16 462.6 320.76 462.91 321.31 463.23 321.11 463.54 314.19 463.85 322.6 464.16 316.78 464.48 324.55 464.79 324.77 465.1 319.77 465.41 319.21 465.73 320.89 466.04 324.15 466.35 324.21 466.66 324 466.98 327.43 467.29 325.44 467.6 324.59 467.91 327.47 468.23 326.15 468.54 328.67 468.85 321.55 469.16 324.98 469.48 324.54 469.79 327.18 470.1 324.23 470.41 325.23 470.73 322.75 471.04 323.1 471.35 329.64 471.66 327.83 471.98 328.88 472.29 330.42 472.6 328.99 472.91 328.27 473.23 328.47 473.54 322.28 473.85 332.3 474.16 329.02 474.48 327.23 474.79 327.68 475.1 325.89 475.41 325.99 475.73 332 476.04 327.48 476.35 326.61 476.66 324.65 476.98 323.5 477.29 324.28 477.6 328.83 477.91 327.6 478.23 328.96 478.54 320.3 478.85 321.21 479.16 323.34 479.48 327.37 479.79 322.03 480.1 323.4 480.41 323.51 480.73 327.04 481.04 322.86 481.35 322.35 481.66 324.28 481.98 324.34 482.29 323.11 482.6 321.42 482.91 325.48 483.23 322.13 483.54 322.39 483.85 322.05 484.16 325.34 484.48 325.1 484.79 323.54 485.1 321.67 485.41 322.42 485.73 321.78 486.04 322.26 486.35 325.56 486.66 322.19 486.98 321.15 487.29 320.15 487.6 319.2 487.91 318.3 488.23 319.16 488.54 319.97 488.85 316.13 489.16 321.48 489.48 323.07 489.79 319.82 490.1 322.89 490.41 322.33 490.73 325.5 491.04 321.35 491.35 326.39 491.66 318.59 491.98 319.16 492.29 320.74 492.6 318.9 492.91 323.82 493.23 320.35 493.54 323.16 493.85 326.79 494.16 325.78 494.48 324.86 494.79 322.55 495.1 319.94 495.41 320.47 495.73 319.4 496.04 318.3 496.35 319.42 496.66 320.31 496.98 321.74 497.29 322.53 497.6 323.61 497.91 324.46 498.23 324.24 498.54 323.12 498.85 324.28 499.16 327.15 499.48 324 499.79 323.8 500.1 325.49 500.41 326.9 500.73 325.93 501.04 324.99 501.35 325.68 501.66 326.64 501.98 328.23 502.29 327.53 502.6 326.58 502.91 326.3 503.23 328.42 503.54 326.23 503.85 327.25 504.16 329.67 504.48 327.19 504.79 322.45 505.1 325.46 505.41 327.27 505.73 325.43 506.04 326.21 506.35 326.5 506.66 325.11 506.98 329.06 507.29 331.8 507.6 325.54" fill="none" stroke="#d90000" stroke-width="2.7" stroke-linejoin="round" />
</g>
<rect x="382.6" y="214.6" width="125" height="125.7" fill="none" stroke="#3a3a3a" stroke-width="1.3"/>
<path d="M382.6 319.35h2.5M507.6 319.35h-2.5M382.6 298.4h2.5M507.6 298.4h-2.5M382.6 277.45h2.5M507.6 277.45h-2.5M382.6 256.5h2.5M507.6 256.5h-2.5M382.6 235.55h2.5M507.6 235.55h-2.5M424.27 340.3v-2.5M424.27 214.6v2.5M465.93 340.3v-2.5M465.93 214.6v2.5" stroke="#3a3a3a" stroke-width="1.2" fill="none"/>
<text x="371.07" y="345.2" font-size="13.3" fill="#262626" stroke="#262626" stroke-width="0.28" textLength="7.03" lengthAdjust="spacingAndGlyphs" >0</text>
<path d="M374.25 324.25 375.37 324.25 375.37 315.1 374.34 315.1 372.29 316.59 372.29 317.69 374.25 316.22z" fill="#262626" stroke="#262626" stroke-width="0.28" stroke-linejoin="round"/>
<text x="371.07" y="303.3" font-size="13.3" fill="#262626" stroke="#262626" stroke-width="0.28" textLength="7.03" lengthAdjust="spacingAndGlyphs" >2</text>
<text x="371.07" y="282.35" font-size="13.3" fill="#262626" stroke="#262626" stroke-width="0.28" textLength="7.03" lengthAdjust="spacingAndGlyphs" >3</text>
<text x="371.07" y="261.4" font-size="13.3" fill="#262626" stroke="#262626" stroke-width="0.28" textLength="7.03" lengthAdjust="spacingAndGlyphs" >4</text>
<text x="371.07" y="240.45" font-size="13.3" fill="#262626" stroke="#262626" stroke-width="0.28" textLength="7.03" lengthAdjust="spacingAndGlyphs" >5</text>
<text x="371.07" y="219.5" font-size="13.3" fill="#262626" stroke="#262626" stroke-width="0.28" textLength="7.03" lengthAdjust="spacingAndGlyphs" >6</text>
<text x="379.1" y="356.25" font-size="13.1" fill="#262626" stroke="#262626" stroke-width="0.28" textLength="6.99" lengthAdjust="spacingAndGlyphs" >0</text>
<text x="413.78" y="356.25" font-size="13.1" fill="#262626" stroke="#262626" stroke-width="0.28" textLength="20.98" lengthAdjust="spacingAndGlyphs" >200</text>
<text x="455.44" y="356.25" font-size="13.1" fill="#262626" stroke="#262626" stroke-width="0.28" textLength="20.98" lengthAdjust="spacingAndGlyphs" >400</text>
<text x="497.11" y="356.25" font-size="13.1" fill="#262626" stroke="#262626" stroke-width="0.28" textLength="20.98" lengthAdjust="spacingAndGlyphs" >600</text>
<text x="444.6" y="373.4" font-size="15.4" fill="#262626" text-anchor="middle" stroke="#262626" stroke-width="0.25" textLength="54.6" lengthAdjust="spacingAndGlyphs">Time [s]</text>
<text x="397.3" y="233.5" font-size="14.6" fill="#d7772f" stroke="#d7772f" stroke-width="0.3" textLength="27.91" lengthAdjust="spacingAndGlyphs">60%</text>
<clipPath id="cb3"><rect x="548.1" y="214.6" width="125" height="125.7"/></clipPath>
<g clip-path="url(#cb3)"><g filter="url(#nz)"><rect x="548.1" y="287.51" width="2.55" height="27.15" fill="url(#gb3)" opacity="0.9"/><rect x="550.6" y="290.76" width="2.55" height="25.48" fill="url(#gb3)" opacity="0.9"/><rect x="553.1" y="272.11" width="2.55" height="35.07" fill="url(#gb3)" opacity="0.9"/><rect x="555.6" y="275.04" width="2.55" height="33.56" fill="url(#gb3)" opacity="0.9"/><rect x="558.1" y="276.95" width="2.55" height="32.58" fill="url(#gb3)" opacity="0.9"/><rect x="560.6" y="269.91" width="2.55" height="36.2" fill="url(#gb3)" opacity="0.9"/><rect x="563.1" y="257.52" width="2.55" height="42.57" fill="url(#gb3)" opacity="0.9"/><rect x="565.6" y="260.62" width="2.55" height="40.98" fill="url(#gb3)" opacity="0.9"/><rect x="568.1" y="263.2" width="2.55" height="39.65" fill="url(#gb3)" opacity="0.9"/><rect x="570.6" y="264.69" width="2.55" height="38.88" fill="url(#gb3)" opacity="0.9"/><rect x="573.1" y="265.78" width="2.55" height="38.33" fill="url(#gb3)" opacity="0.9"/><rect x="575.6" y="269.91" width="2.55" height="36.2" fill="url(#gb3)" opacity="0.9"/><rect x="578.1" y="275.15" width="2.55" height="33.51" fill="url(#gb3)" opacity="0.9"/><rect x="580.6" y="281.01" width="2.55" height="30.49" fill="url(#gb3)" opacity="0.9"/><rect x="583.1" y="283.64" width="2.55" height="29.14" fill="url(#gb3)" opacity="0.9"/><rect x="585.6" y="290.97" width="2.55" height="25.37" fill="url(#gb3)" opacity="0.9"/><rect x="588.1" y="282.94" width="2.55" height="29.5" fill="url(#gb3)" opacity="0.9"/><rect x="590.6" y="288.54" width="2.55" height="26.62" fill="url(#gb3)" opacity="0.9"/><rect x="593.1" y="291.03" width="2.55" height="25.34" fill="url(#gb3)" opacity="0.9"/><rect x="595.6" y="292.98" width="2.55" height="24.34" fill="url(#gb3)" opacity="0.9"/><rect x="598.1" y="297.13" width="2.55" height="22.2" fill="url(#gb3)" opacity="0.9"/><rect x="600.6" y="296.53" width="2.55" height="22.51" fill="url(#gb3)" opacity="0.9"/><rect x="603.1" y="291.42" width="2.55" height="25.14" fill="url(#gb3)" opacity="0.9"/><rect x="605.6" y="293.08" width="2.55" height="24.29" fill="url(#gb3)" opacity="0.9"/><rect x="608.1" y="299.96" width="2.55" height="20.74" fill="url(#gb3)" opacity="0.9"/><rect x="610.6" y="306.54" width="2.55" height="17.36" fill="url(#gb3)" opacity="0.9"/><rect x="613.1" y="308.7" width="2.55" height="16.25" fill="url(#gb3)" opacity="0.9"/><rect x="615.6" y="304.65" width="2.55" height="18.33" fill="url(#gb3)" opacity="0.9"/><rect x="618.1" y="308.74" width="2.55" height="16.23" fill="url(#gb3)" opacity="0.9"/><rect x="620.6" y="314.63" width="2.55" height="13.2" fill="url(#gb3)" opacity="0.9"/><rect x="623.1" y="319.02" width="2.55" height="10.94" fill="url(#gb3)" opacity="0.9"/><rect x="625.6" y="317.06" width="2.55" height="11.95" fill="url(#gb3)" opacity="0.9"/><rect x="628.1" y="315.89" width="2.55" height="12.56" fill="url(#gb3)" opacity="0.9"/><rect x="630.6" y="314.23" width="2.55" height="13.41" fill="url(#gb3)" opacity="0.9"/><rect x="633.1" y="307.4" width="2.55" height="16.92" fill="url(#gb3)" opacity="0.9"/><rect x="635.6" y="307.3" width="2.55" height="16.97" fill="url(#gb3)" opacity="0.9"/><rect x="638.1" y="309.44" width="2.55" height="15.87" fill="url(#gb3)" opacity="0.9"/><rect x="640.6" y="310.71" width="2.55" height="15.22" fill="url(#gb3)" opacity="0.9"/><rect x="643.1" y="311.8" width="2.55" height="14.66" fill="url(#gb3)" opacity="0.9"/><rect x="645.6" y="314.23" width="2.55" height="13.41" fill="url(#gb3)" opacity="0.9"/><rect x="648.1" y="318.53" width="2.55" height="11.2" fill="url(#gb3)" opacity="0.9"/><rect x="650.6" y="320.01" width="2.55" height="10.43" fill="url(#gb3)" opacity="0.9"/><rect x="653.1" y="321.24" width="2.55" height="9.8" fill="url(#gb3)" opacity="0.9"/><rect x="655.6" y="321.84" width="2.55" height="9.49" fill="url(#gb3)" opacity="0.9"/><rect x="658.1" y="322.45" width="2.55" height="9.18" fill="url(#gb3)" opacity="0.9"/><rect x="660.6" y="322.77" width="2.55" height="9.02" fill="url(#gb3)" opacity="0.9"/><rect x="663.1" y="322.88" width="2.55" height="8.96" fill="url(#gb3)" opacity="0.9"/><rect x="665.6" y="323" width="2.55" height="8.9" fill="url(#gb3)" opacity="0.9"/><rect x="668.1" y="323.12" width="2.55" height="8.84" fill="url(#gb3)" opacity="0.9"/><rect x="670.6" y="323.23" width="2.55" height="8.78" fill="url(#gb3)" opacity="0.9"/></g>
<path d="M656 315.5h1M655 316.5h1M649 318.5h1M580 281.5h1M557 258.5h1M666 318.5h1M624 312.5h1M661 322.5h1M671 317.5h1M583 278.5h1M649 320.5h1M558 235.5h1M602 299.5h1M650 307.5h1M599 284.5h1M612 289.5h1M562 252.5h1M649 308.5h1M610 281.5h1M579 245.5h1M645 299.5h1M670 316.5h1M615 302.5h1M640 291.5h1M672 318.5h1M551 288.5h1M622 297.5h1M669 318.5h1M562 261.5h1M575 220.5h1M616 288.5h1M638 312.5h1M617 308.5h1M616 295.5h1M554 272.5h1M640 308.5h1M588 276.5h1M557 255.5h1M667 322.5h1M630 307.5h1M605 268.5h1M639 303.5h1M607 300.5h1M623 314.5h1M641 304.5h1M641 308.5h1M617 272.5h1M664 312.5h1M666 312.5h1M657 319.5h1M594 280.5h1M581 241.5h1M614 309.5h1M629 310.5h1M618 298.5h1M602 296.5h1M600 264.5h1M598 283.5h1M668 312.5h1M664 322.5h1M661 322.5h1M623 318.5h1M571 247.5h1M647 316.5h1M568 248.5h1M588 264.5h1M631 314.5h1M601 266.5h1M605 245.5h1M585 219.5h1M552 267.5h1M593 275.5h1M651 305.5h1M651 302.5h1M558 243.5h1M617 296.5h1M592 277.5h1M597 280.5h1M671 322.5h1M649 295.5h1M611 295.5h1M611 307.5h1M662 318.5h1M594 272.5h1M645 295.5h1M639 298.5h1M640 313.5h1M605 269.5h1M633 309.5h1M652 310.5h1M585 267.5h1M643 291.5h1M608 293.5h1M614 307.5h1M606 246.5h1M594 290.5h1M642 310.5h1M597 245.5h1M570 224.5h1M646 313.5h1M598 300.5h1M620 289.5h1M670 323.5h1M629 308.5h1M613 311.5h1M583 268.5h1M636 279.5h1M668 320.5h1M636 309.5h1M644 314.5h1" stroke="#3040ff" stroke-opacity="0.25" stroke-width="1"/>
<g filter="url(#nz)">
<path d="M548.1 310.88 548.52 308.78 548.93 306.69 549.35 304.59 549.77 302.5 550.18 300.4 550.6 302.03 551.02 303.66 551.43 305.29 551.85 306.92 552.27 306.1 552.68 302.84 553.1 299.59 553.52 296.33 553.93 293.07 554.35 293.59 554.77 294.12 555.18 294.64 555.6 295.16 556.02 295.34 556.43 295.51 556.85 295.69 557.27 295.86 557.68 296.04 558.1 296.21 558.52 296.49 558.93 296.77 559.35 297.05 559.77 297.33 560.18 297.61 560.6 297.89 561.02 298.17 561.43 296.21 561.85 292.02 562.27 287.83 562.68 283.64 563.1 281.78 563.52 282.24 563.93 282.71 564.35 283.17 564.77 283.64 565.18 283.99 565.6 284.34 566.02 284.69 566.43 285.04 566.85 285.39 567.27 285.74 567.68 286.03 568.1 286.33 568.52 286.63 568.93 286.93 569.35 287.23 569.77 287.53 570.18 287.83 570.6 287.95 571.02 288.06 571.43 288.18 571.85 288.3 572.27 288.41 572.68 288.53 573.1 288.64 573.52 288.76 573.93 288.88 574.35 289.07 574.77 289.26 575.18 289.45 575.6 289.64 576.02 289.83 576.43 290.62 576.85 292.02 577.27 293.42 577.68 294.81 578.1 296.21 578.52 296.06 578.93 295.91 579.35 295.76 579.77 295.61 580.18 295.46 580.6 295.31 581.02 295.16 581.43 297.56 581.85 299.95 582.27 302.35 582.68 303.35 583.1 302.97 583.52 302.59 583.93 302.21 584.35 301.83 584.77 301.45 585.18 302.84 585.6 304.24 586.02 305.64 586.43 307.03 586.85 307.07 587.27 305.73 587.68 304.4 588.1 303.07 588.52 301.73 588.93 300.4 589.35 301.33 589.77 302.26 590.18 303.19 590.6 304.12 591.02 304.74 591.43 305.03 591.85 305.33 592.27 305.63 592.68 305.92 593.1 306.22 593.52 306.51 593.93 306.81 594.35 307.1 594.77 307.34 595.18 307.57 595.6 307.8 596.02 308.04 596.43 308.27 596.85 308.5 597.27 308.73 597.68 308.97 598.1 309.2 598.52 309.95 598.93 310.71 599.35 311.46 599.77 312.22 600.18 312.97 600.6 312.49 601.02 312 601.43 311.52 601.85 311.04 602.27 310.55 602.68 310.07 603.1 309.48 603.52 308.78 603.93 308.08 604.35 307.38 604.77 306.69 605.18 305.99 605.6 306.06 606.02 306.89 606.43 307.73 606.85 308.57 607.27 309.41 607.68 310.25 608.1 311.08 608.52 311.92 608.93 312.71 609.35 313.49 609.77 314.27 610.18 315.06 610.6 315.84 611.02 316.62 611.43 317.41 611.85 318.19 612.27 318.97 612.68 319.76 613.1 320.54 613.52 320.69 613.93 320.21 614.35 319.73 614.77 319.24 615.18 318.76 615.6 318.28 616.02 317.8 616.43 317.32 616.85 316.84 617.27 316.35 617.68 316.52 618.1 317.33 618.52 318.14 618.93 318.95 619.35 319.76 619.77 320.57 620.18 321.38 620.6 322.19 621.02 322.78 621.43 323.37 621.85 323.96 622.27 324.55 622.68 325.15 623.1 325.74 623.52 326.33 623.93 326.92 624.35 327.1 624.77 326.87 625.18 326.63 625.6 326.4 626.02 326.17 626.43 325.94 626.85 325.7 627.27 325.47 627.68 325.24 628.1 325.08 628.52 325.01 628.93 324.94 629.35 324.86 629.77 324.79 630.18 324.71 630.6 324.64 631.02 324.57 631.43 324.49 631.85 323.68 632.27 322.87 632.68 322.05 633.1 321.24 633.52 320.43 633.93 319.61 634.35 318.8 634.77 317.99 635.18 317.71 635.6 317.96 636.02 318.22 636.43 318.47 636.85 318.73 637.27 318.98 637.68 319.24 638.1 319.49 638.52 319.75 638.93 320 639.35 320.26 639.77 320.51 640.18 320.64 640.6 320.77 641.02 320.9 641.43 321.03 641.85 321.16 642.27 321.29 642.68 321.42 643.1 321.55 643.52 321.68 643.93 321.81 644.35 321.94 644.77 322.07 645.18 322.2 645.6 322.33 646.02 322.65 646.43 323.17 646.85 323.68 647.27 324.19 647.68 324.7 648.1 325.21 648.52 325.73 648.93 326.24 649.35 326.75 649.77 327.08 650.18 327.23 650.6 327.37 651.02 327.52 651.43 327.66 651.85 327.81 652.27 327.95 652.68 328.1 653.1 328.25 653.52 328.39 653.93 328.54 654.35 328.68 654.77 328.75 655.18 328.83 655.6 328.9 656.02 328.97 656.43 329.04 656.85 329.12 657.27 329.19 657.68 329.26 658.1 329.33 658.52 329.4 658.93 329.48 659.35 329.55 659.77 329.62 660.18 329.69 660.6 329.74 661.02 329.75 661.43 329.76 661.85 329.78 662.27 329.79 662.68 329.81 663.1 329.82 663.52 329.83 663.93 329.85 664.35 329.86 664.77 329.87 665.18 329.89 665.6 329.9 666.02 329.92 666.43 329.93 666.85 329.94 667.27 329.96 667.68 329.97 668.1 329.98 668.52 330 668.93 330.01 669.35 330.03 669.77 330.04 670.18 330.05 670.6 330.07 671.02 330.08 671.43 330.09 671.85 330.11 672.27 330.12 672.68 330.14 673.1 330.15" fill="none" stroke="#0a14ff" stroke-width="4.4" stroke-linejoin="round" stroke-opacity="0.9"/>
</g>
<path d="M548.1 280.03 548.2 271.79 548.31 279.8 548.41 287.58 548.52 295.12 548.62 302.43 548.73 300.43 548.83 299.76 548.93 300.28 549.04 304.35 549.14 304.35 549.25 304.06 549.35 302.05 549.45 301.2 549.56 302.24 549.66 301.77 549.77 301.69 549.87 299.12 549.98 299.38 550.08 298.31 550.18 298.43 550.29 301.37 550.39 299.95 550.5 301.44 550.6 298.62 550.7 299.92 550.81 299.89 550.91 302.46 551.02 302.82 551.12 303.69 551.23 302.55 551.33 303.1 551.43 302.94 551.54 305.26 551.64 306.97 551.75 306.24 551.85 305.62 551.95 304.3 552.06 306.95 552.16 306.35 552.27 308.61 552.37 307.24 552.48 303.54 552.58 299.9 552.68 298.2 552.79 300.11 552.89 298.56 553 297.55 553.1 297.24 553.2 295.86 553.31 296.75 553.41 294.24 553.52 294.76 553.62 290.51 553.73 286.9 553.83 285.68 553.93 287.42 554.04 288.88 554.14 289.88 554.25 290.83 554.35 289.67 554.45 288.45 554.56 287.17 554.66 285.83 554.77 287.23 554.87 288.68 554.98 290.19 555.08 291.77 555.18 292.02 555.29 290.3 555.39 290.58 555.5 293.69 555.6 294.47 555.7 292.34 555.81 291.22 555.91 287.71 556.02 286.01 556.12 285.01 556.23 291.03 556.33 295.15 556.43 294.34 556.54 292.76 556.64 293.46 556.75 295.41 556.85 290.55 556.95 290.27 557.06 293.3 557.16 296.96 557.27 295.69 557.37 291.68 557.48 292.05 557.58 292.18 557.68 289.7 557.79 281.06 557.89 272.41 558 263.73 558.1 255.03 558.2 263.75 558.31 272.51 558.41 281.29 558.52 290.11 558.62 296.72 558.73 297.04 558.83 295.96 558.93 293.5 559.04 291.45 559.14 291.69 559.25 293.07 559.35 294.22 559.45 292.56 559.56 292.39 559.66 294.87 559.77 297.72 559.87 298.25 559.98 296.25 560.08 296.29 560.18 297.26 560.29 296.58 560.39 296.93 560.5 294.67 560.6 296.37 560.7 297.63 560.81 299.18 560.91 295.89 561.02 297.14 561.12 295.04 561.23 297.55 561.33 292.22 561.43 293.34 561.54 291.6 561.64 291.76 561.75 286.67 561.85 286.37 561.95 285.47 562.06 289.31 562.16 287.55 562.27 283.62 562.37 278.5 562.48 273.84 562.58 269.65 562.68 265.93 562.79 269.19 562.89 271.98 563 275.08 563.1 278.24 563.2 281.48 563.31 283.68 563.41 284.35 563.52 284.14 563.62 277.64 563.73 274.41 563.83 262.37 563.93 250.27 564.04 238.12 564.14 225.91 564.25 238.17 564.35 250.47 564.45 262.83 564.56 275.24 564.66 286.73 564.77 284.84 564.87 283.36 564.98 283.4 565.08 283.2 565.18 280.95 565.29 280.94 565.39 278.71 565.5 280.74 565.6 278.55 565.7 280.82 565.81 280.03 565.91 280.82 566.02 285.98 566.12 288.81 566.23 287.69 566.33 285.49 566.43 283.6 566.54 288.26 566.64 287.55 566.75 284.98 566.85 281.71 566.95 278.88 567.06 275.86 567.16 272.8 567.27 269.7 567.37 272.83 567.48 276 567.58 279.21 567.68 282.4 567.79 285.59 567.89 289.35 568 289.63 568.1 287.94 568.2 283.31 568.31 284.4 568.41 283.69 568.52 288.19 568.62 287.59 568.73 287.08 568.83 284.33 568.93 284.33 569.04 286.98 569.14 286 569.25 285.44 569.35 284.91 569.45 288.86 569.56 284.11 569.66 280.33 569.77 277.58 569.87 278.14 569.98 280.6 570.08 282.18 570.18 285.21 570.29 283.56 570.39 284.93 570.5 283.69 570.6 284.1 570.7 279.45 570.81 280.78 570.91 280.91 571.02 286.64 571.12 287.6 571.23 287.76 571.33 283.73 571.43 283.16 571.54 280.15 571.64 276.12 571.75 272.08 571.85 268.02 571.95 272.09 572.06 276.17 572.16 280.26 572.27 284.37 572.37 284.18 572.48 285.67 572.58 288.53 572.68 292.34 572.79 293.08 572.89 290.29 573 287.92 573.1 287.9 573.2 287.72 573.31 289.06 573.41 286.66 573.52 289.2 573.62 286.02 573.73 286.67 573.83 285.04 573.93 288.96 574.04 288.51 574.14 288.88 574.25 285.89 574.35 283.69 574.45 282.37 574.56 283.1 574.66 285.35 574.77 286.59 574.87 283.66 574.98 284.98 575.08 282.86 575.18 285.63 575.29 286.27 575.39 285.12 575.5 285.06 575.6 285.19 575.7 288.65 575.81 292.6 575.91 293.32 576.02 290.79 576.12 286.07 576.23 285.85 576.33 286.55 576.43 286.68 576.54 284.17 576.64 283.5 576.75 288.62 576.85 289.91 576.95 293.83 577.06 290 577.16 291.86 577.27 290.54 577.37 290.58 577.48 292.25 577.58 293.78 577.68 296.57 577.79 294.56 577.89 296.32 578 294.44 578.1 291.89 578.2 289.95 578.31 290.34 578.41 297.19 578.52 298.56 578.62 298.35 578.73 293.92 578.83 291.11 578.93 290.08 579.04 290.36 579.14 291.71 579.25 294.4 579.35 294.36 579.45 297.18 579.56 294.22 579.66 297.65 579.77 296.84 579.87 298.97 579.98 294.24 580.08 290.99 580.18 288.79 580.29 290.86 580.39 292.65 580.5 294.07 580.6 295.09 580.7 293.76 580.81 293.79 580.91 291.59 581.02 295 581.12 296.71 581.23 300.76 581.33 297.03 581.43 297.91 581.54 294.14 581.64 294.12 581.75 296.03 581.85 296.76 581.95 298.61 582.06 295.44 582.16 298.94 582.27 301.69 582.37 305.15 582.48 306.4 582.58 304.58 582.68 304.41 582.79 301.77 582.89 301.42 583 299.36 583.1 301.19 583.2 300.6 583.31 300.65 583.41 300.14 583.52 301.77 583.62 304.48 583.73 301.56 583.83 298.96 583.93 298.08 584.04 299.71 584.14 300.83 584.25 298.73 584.35 298.59 584.45 296.87 584.56 298.91 584.66 297.6 584.77 299.54 584.87 298.29 584.98 300.71 585.08 303.39 585.18 304.73 585.29 303.53 585.39 302.75 585.5 304.53 585.6 305.63 585.7 304.97 585.81 304.47 585.91 304.74 586.02 304.57 586.12 303.51 586.23 302.68 586.33 302.18 586.43 302.82 586.54 305.11 586.64 308.67 586.75 307.22 586.85 305.62 586.95 302.18 587.06 303.9 587.16 303.82 587.27 305.6 587.37 305.38 587.48 306.95 587.58 305.95 587.68 303.99 587.79 300.94 587.89 300.02 588 300.62 588.1 298.73 588.2 296.71 588.31 294.68 588.41 296.7 588.52 296.69 588.62 298.67 588.73 300.22 588.83 300.75 588.93 299.18 589.04 296.3 589.14 298.43 589.25 298.5 589.35 301.49 589.45 301.13 589.56 301.12 589.66 300.09 589.77 301.09 589.87 303.76 589.98 304.38 590.08 304.57 590.18 304.77 590.29 304.39 590.39 304.59 590.5 301.46 590.6 299.27 590.7 297.06 590.81 295.49 590.91 299.54 591.02 303.02 591.12 306.61 591.23 307.32 591.33 305.17 591.43 304.02 591.54 301.07 591.64 300.16 591.75 301.53 591.85 302.6 591.95 303.54 592.06 303.44 592.16 302.34 592.27 303.18 592.37 303.24 592.48 305.2 592.58 303.69 592.68 303.57 592.79 302.69 592.89 304.43 593 306.69 593.1 307.44 593.2 309.43 593.31 307.55 593.41 308.51 593.52 304.66 593.62 305.38 593.73 304.13 593.83 306.21 593.93 306.85 594.04 308.58 594.14 310.92 594.25 310.43 594.35 311.05 594.45 307.04 594.56 307.81 594.66 306.28 594.77 307.62 594.87 306.41 594.98 304.51 595.08 304.62 595.18 305.04 595.29 306.52 595.39 304.81 595.5 303.48 595.6 305.55 595.7 307.5 595.81 309.39 595.91 307.29 596.02 306.45 596.12 305.51 596.23 304.94 596.33 303.86 596.43 305.8 596.54 306.55 596.64 308.36 596.75 306.06 596.85 305.97 596.95 305.1 597.06 305.65 597.16 305.35 597.27 308.03 597.37 307.86 597.48 309.65 597.58 307.45 597.68 305.86 597.79 304.7 597.89 304.91 598 306.03 598.1 304.59 598.2 304.42 598.31 304.11 598.41 306.27 598.52 307.33 598.62 310.24 598.73 307.65 598.83 308.94 598.93 306.77 599.04 308.99 599.14 307.9 599.25 310.12 599.35 310.5 599.45 310.71 599.56 309.38 599.66 309.85 599.77 309.89 599.87 311.36 599.98 310.11 600.08 311.12 600.18 307.13 600.29 308.38 600.39 308.24 600.5 311.27 600.6 310.98 600.7 309.23 600.81 306.55 600.91 299.09 601.02 291.69 601.12 284.33 601.23 277.03 601.33 284.28 601.43 291.47 601.54 298.61 601.64 305.69 601.75 308.45 601.85 306.96 601.95 306.9 602.06 306.26 602.16 307.69 602.27 307.33 602.37 307.25 602.48 307.65 602.58 309.47 602.68 311.62 602.79 310.79 602.89 309.98 603 308.81 603.1 307.09 603.2 306.21 603.31 304.51 603.41 304.85 603.52 305.42 603.62 305.62 603.73 305.44 603.83 303.06 603.93 303.69 604.04 304.15 604.14 305.64 604.25 306.66 604.35 306.84 604.45 305.26 604.56 304.77 604.66 302.7 604.77 303.81 604.87 302.56 604.98 305.76 605.08 303.29 605.18 302.63 605.29 299.37 605.39 302.38 605.5 301.75 605.6 302.9 605.7 302.43 605.81 304.73 605.91 307.16 606.02 306.86 606.12 305.6 606.23 305.09 606.33 304.68 606.43 307.19 606.54 309.36 606.64 310.16 606.75 307.47 606.85 303.56 606.95 304.31 607.06 304.78 607.16 305.18 607.27 304.33 607.37 306.23 607.48 306.52 607.58 307.23 607.68 307.5 607.79 307.66 607.89 308.48 608 307.64 608.1 307.44 608.2 307.66 608.31 308.38 608.41 309.52 608.52 310.76 608.62 311.6 608.73 312.81 608.83 311.87 608.93 312.41 609.04 310.91 609.14 311.45 609.25 310.96 609.35 311.79 609.45 309.79 609.56 311.33 609.66 313.2 609.77 315.68 609.87 314.74 609.98 313 610.08 312.41 610.18 312.22 610.29 311.92 610.39 312.28 610.5 312.47 610.6 312.3 610.7 311.61 610.81 312.45 610.91 314.75 611.02 314.68 611.12 315.29 611.23 315.66 611.33 316.09 611.43 314.38 611.54 312.65 611.64 314.2 611.75 315.02 611.85 318.91 611.95 318.98 612.06 317.4 612.16 314.07 612.27 313.18 612.37 316.12 612.48 318.28 612.58 318.19 612.68 317.85 612.79 317.74 612.89 318.19 613 317.82 613.1 317.95 613.2 318.91 613.31 318.11 613.41 318.17 613.52 317.09 613.62 318.87 613.73 318.67 613.83 319.92 613.93 319.42 614.04 318.75 614.14 317.42 614.25 317.72 614.35 317.31 614.45 318.08 614.56 317.96 614.66 317.68 614.77 316.85 614.87 317.29 614.98 317.51 615.08 319.03 615.18 318.6 615.29 317.44 615.39 315.05 615.5 314.29 615.6 314.91 615.7 314.82 615.81 313.28 615.91 312.31 616.02 313.71 616.12 314.92 616.23 316.03 616.33 317.19 616.43 317.62 616.54 317.3 616.64 315.49 616.75 315.26 616.85 316.38 616.95 316.56 617.06 315.99 617.16 315.2 617.27 313.71 617.37 312.91 617.48 313.57 617.58 313.94 617.68 314.77 617.79 313.36 617.89 314.82 618 314.35 618.1 315.69 618.2 314.61 618.31 315.52 618.41 315.39 618.52 317.33 618.62 318.68 618.73 318.04 618.83 318.09 618.93 317.97 619.04 318.49 619.14 317.88 619.25 316.87 619.35 318.24 619.45 319.89 619.56 321.07 619.66 319.71 619.77 318.53 619.87 317.87 619.98 318.38 620.08 318.47 620.18 318.84 620.29 319.5 620.39 319.68 620.5 319.78 620.6 320.26 620.7 320.18 620.81 320.52 620.91 320.33 621.02 320.92 621.12 320.56 621.23 320.75 621.33 320.14 621.43 321.35 621.54 321.1 621.64 322.75 621.75 322.31 621.85 323.03 621.95 322.59 622.06 323.31 622.16 323.2 622.27 322.82 622.37 323.38 622.48 323.57 622.58 323.89 622.68 322.82 622.79 322.73 622.89 323.5 623 323.46 623.1 324.2 623.2 323.6 623.31 324.12 623.41 324.14 623.52 324.93 623.62 325.25 623.73 324.49 623.83 323.96 623.93 324.28 624.04 324.74 624.14 324.46 624.25 323.23 624.35 324.21 624.45 324.55 624.56 325.06 624.66 324.6 624.77 325.67 624.87 325.43 624.98 325.22 625.08 325.06 625.18 326.04 625.29 325.45 625.39 323.69 625.5 322.73 625.6 322.68 625.7 319.19 625.81 315.72 625.91 312.29 626.02 308.88 626.12 312.26 626.23 315.62 626.33 318.95 626.43 322.26 626.54 323.43 626.64 323.89 626.75 322.97 626.85 323.02 626.95 323 627.06 324.08 627.16 323.43 627.27 323.11 627.37 321.83 627.48 321.02 627.58 320.63 627.68 321.13 627.79 322.2 627.89 323.44 628 323.79 628.1 323.68 628.2 323.48 628.31 323.44 628.41 322.95 628.52 322.81 628.62 322.46 628.73 322.72 628.83 322.53 628.93 322.9 629.04 322.71 629.14 321.57 629.25 318.91 629.35 316.26 629.45 313.61 629.56 310.97 629.66 313.6 629.77 316.22 629.87 318.84 629.98 321.44 630.08 323.24 630.18 324.41 630.29 323.98 630.39 323.63 630.5 324.07 630.6 323.14 630.7 322.82 630.81 322.35 630.91 324.68 631.02 323.97 631.12 324.34 631.23 322.14 631.33 322.3 631.43 321.36 631.54 321.95 631.64 321.53 631.75 321.75 631.85 321.22 631.95 321.83 632.06 321.48 632.16 320.6 632.27 319.45 632.37 319.6 632.48 320.83 632.58 321.27 632.68 320.6 632.79 319.56 632.89 319.62 633 319.99 633.1 316.71 633.2 311.53 633.31 306.43 633.41 301.43 633.52 296.51 633.62 301.34 633.73 306.07 633.83 310.72 633.93 315.27 634.04 317.71 634.14 318.15 634.25 317.64 634.35 317.67 634.45 315.84 634.56 315.31 634.66 314.23 634.77 316.98 634.87 316.02 634.98 317.47 635.08 315.64 635.18 314.3 635.29 313.39 635.39 314.79 635.5 315.37 635.6 316.75 635.7 316.11 635.81 317.96 635.91 317.12 636.02 316.84 636.12 315.01 636.23 314.92 636.33 314.39 636.43 315.78 636.54 315.27 636.64 316.61 636.75 317.61 636.85 317.84 636.95 316.59 637.06 315.57 637.16 314.65 637.27 315.9 637.37 314.98 637.48 315.57 637.58 315.88 637.68 316.56 637.79 317.15 637.89 316.43 638 316.98 638.1 317.63 638.2 318.2 638.31 319.14 638.41 318.61 638.52 317.92 638.62 317 638.73 317.24 638.83 318.02 638.93 318.55 639.04 318.42 639.14 317.94 639.25 317.23 639.35 317.11 639.45 316 639.56 317.01 639.66 318.19 639.77 320.37 639.87 320.26 639.98 319.57 640.08 319.01 640.18 317.14 640.29 317.8 640.39 318.66 640.5 320.72 640.6 319.09 640.7 318.54 640.81 318.04 640.91 319.97 641.02 320.14 641.12 319.36 641.23 319.64 641.33 320.12 641.43 321.38 641.54 321.07 641.64 319.66 641.75 319.14 641.85 317.95 641.95 318.4 642.06 318.23 642.16 318.73 642.27 317.98 642.37 319.07 642.48 319.63 642.58 322.05 642.68 321.81 642.79 322.4 642.89 321.25 643 319.81 643.1 318.43 643.2 318.87 643.31 318.75 643.41 318.63 643.52 317.61 643.62 318.83 643.73 319.74 643.83 319.91 643.93 319.48 644.04 319.6 644.14 319 644.25 319.64 644.35 319.93 644.45 320.66 644.56 320.29 644.66 319.65 644.77 319.61 644.87 320.77 644.98 321.88 645.08 322.94 645.18 322.22 645.29 321.02 645.39 320.01 645.5 319.9 645.6 320.63 645.7 320.89 645.81 321.29 645.91 320.49 646.02 321.15 646.12 321.4 646.23 321.86 646.33 321.47 646.43 320.72 646.54 321.38 646.64 321.07 646.75 321.44 646.85 322.02 646.95 322.07 647.06 321.63 647.16 321.43 647.27 321.93 647.37 322.39 647.48 321.36 647.58 321.24 647.68 320.5 647.79 321.64 647.89 320.98 648 322.67 648.1 322.61 648.2 324.14 648.31 323.41 648.41 323.22 648.52 323.75 648.62 325.59 648.73 324.99 648.83 324.43 648.93 324.12 649.04 325.64 649.14 325.84 649.25 324.5 649.35 324.03 649.45 323.94 649.56 325.18 649.66 325.12 649.77 325.93 649.87 325.08 649.98 324.98 650.08 324.47 650.18 325.63 650.29 326.34 650.39 326.23 650.5 324.78 650.6 323.84 650.7 324.1 650.81 325.3 650.91 326.62 651.02 326.23 651.12 326.17 651.23 325.35 651.33 325.51 651.43 325.55 651.54 326.29 651.64 327 651.75 326.58 651.85 326.74 651.95 325.84 652.06 326.78 652.16 327.31 652.27 327.62 652.37 327.23 652.48 325.88 652.58 325.92 652.68 325.75 652.79 325.81 652.89 326.11 653 325.86 653.1 325.28 653.2 324.97 653.31 325.62 653.41 326.62 653.52 327.05 653.62 326.85 653.73 326.24 653.83 326.34 653.93 326.72 654.04 327.19 654.14 327 654.25 326.64 654.35 327.1 654.45 326.87 654.56 326.28 654.66 325.82 654.77 326.09 654.87 326.79 654.98 327.38 655.08 327.57 655.18 327.1 655.29 326.59 655.39 326.11 655.5 326.29 655.6 326.73 655.7 326.92 655.81 326.93 655.91 326.14 656.02 326.06 656.12 326.24 656.23 327.12 656.33 326.86 656.43 326.99 656.54 326.63 656.64 326.88 656.75 327.09 656.85 327.09 656.95 326.84 657.06 326.9 657.16 327.21 657.27 327.92 657.37 327.58 657.48 326.67 657.58 326.29 657.68 325.9 657.79 326.58 657.89 326.86 658 327.31 658.1 327.33 658.2 327.27 658.31 327.31 658.41 327.38 658.52 327.55 658.62 327.02 658.73 326.92 658.83 326.76 658.93 327.5 659.04 327.54 659.14 327.78 659.25 328.03 659.35 328.31 659.45 327.63 659.56 327.29 659.66 327.13 659.77 327.9 659.87 327.67 659.98 327.94 660.08 327.82 660.18 328.28 660.29 328.16 660.39 328.34 660.5 328.22 660.6 328.24 660.7 328.21 660.81 328.74 660.91 328.53 661.02 328.63 661.12 328.63 661.23 328.78 661.33 328.39 661.43 327.37 661.54 326.94 661.64 327.67 661.75 328.23 661.85 328.58 661.95 328.29 662.06 327.72 662.16 327.7 662.27 327.48 662.37 328.04 662.48 328.05 662.58 327.13 662.68 326.32 662.79 326.9 662.89 327.41 663 328.54 663.1 328.11 663.2 328.65 663.31 328.26 663.41 328.36 663.52 327.92 663.62 328.07 663.73 327.7 663.83 327.86 663.93 327.92 664.04 327.67 664.14 327.53 664.25 327.3 664.35 327.75 664.45 327.63 664.56 327.61 664.66 327.85 664.77 328.13 664.87 328.27 664.98 328.25 665.08 327.68 665.18 327.24 665.29 326.63 665.39 327.33 665.5 328.17 665.6 328.74 665.7 328.4 665.81 327.99 665.91 327.81 666.02 326.96 666.12 325.06 666.23 323.16 666.33 321.26 666.43 319.35 666.54 321.26 666.64 323.17 666.75 325.08 666.85 326.99 666.95 328.1 667.06 327.49 667.16 327.51 667.27 327.04 667.37 327.34 667.48 327.12 667.58 327.25 667.68 327.94 667.79 327.87 667.89 327.83 668 327.33 668.1 328.19 668.2 329.08 668.31 328.9 668.41 328.79 668.52 327.39 668.62 326.17 668.73 324.94 668.83 323.72 668.93 322.49 669.04 323.72 669.14 324.95 669.25 326.18 669.35 327.41 669.45 327.65 669.56 327.97 669.66 327.23 669.77 328.02 669.87 327.6 669.98 327.58 670.08 327.38 670.18 327.15 670.29 327.2 670.39 327.04 670.5 327.01 670.6 327.86 670.7 327.62 670.81 328.19 670.91 328.32 671.02 328.78 671.12 328.9 671.23 329.07 671.33 328.66 671.43 328.44 671.54 327.6 671.64 327.52 671.75 327.62 671.85 328.09 671.95 327.42 672.06 327.88 672.16 328.21 672.27 328.28 672.37 327.43 672.48 326.95 672.58 327.5 672.68 327.53 672.79 328.06 672.89 328.34 673 328.43 673.1 327.98" fill="none" stroke="#d90000" stroke-width="1.9" stroke-linejoin="round" />
</g>
<rect x="548.1" y="214.6" width="125" height="125.7" fill="none" stroke="#3a3a3a" stroke-width="1.3"/>
<path d="M548.1 319.35h2.5M673.1 319.35h-2.5M548.1 298.4h2.5M673.1 298.4h-2.5M548.1 277.45h2.5M673.1 277.45h-2.5M548.1 256.5h2.5M673.1 256.5h-2.5M548.1 235.55h2.5M673.1 235.55h-2.5M589.77 340.3v-2.5M589.77 214.6v2.5M631.43 340.3v-2.5M631.43 214.6v2.5" stroke="#3a3a3a" stroke-width="1.2" fill="none"/>
<text x="536.57" y="345.2" font-size="13.3" fill="#262626" stroke="#262626" stroke-width="0.28" textLength="7.03" lengthAdjust="spacingAndGlyphs" >0</text>
<path d="M539.75 324.25 540.87 324.25 540.87 315.1 539.84 315.1 537.79 316.59 537.79 317.69 539.75 316.22z" fill="#262626" stroke="#262626" stroke-width="0.28" stroke-linejoin="round"/>
<text x="536.57" y="303.3" font-size="13.3" fill="#262626" stroke="#262626" stroke-width="0.28" textLength="7.03" lengthAdjust="spacingAndGlyphs" >2</text>
<text x="536.57" y="282.35" font-size="13.3" fill="#262626" stroke="#262626" stroke-width="0.28" textLength="7.03" lengthAdjust="spacingAndGlyphs" >3</text>
<text x="536.57" y="261.4" font-size="13.3" fill="#262626" stroke="#262626" stroke-width="0.28" textLength="7.03" lengthAdjust="spacingAndGlyphs" >4</text>
<text x="536.57" y="240.45" font-size="13.3" fill="#262626" stroke="#262626" stroke-width="0.28" textLength="7.03" lengthAdjust="spacingAndGlyphs" >5</text>
<text x="536.57" y="219.5" font-size="13.3" fill="#262626" stroke="#262626" stroke-width="0.28" textLength="7.03" lengthAdjust="spacingAndGlyphs" >6</text>
<text x="544.6" y="356.25" font-size="13.1" fill="#262626" stroke="#262626" stroke-width="0.28" textLength="6.99" lengthAdjust="spacingAndGlyphs" >0</text>
<text x="579.28" y="356.25" font-size="13.1" fill="#262626" stroke="#262626" stroke-width="0.28" textLength="20.98" lengthAdjust="spacingAndGlyphs" >200</text>
<text x="620.94" y="356.25" font-size="13.1" fill="#262626" stroke="#262626" stroke-width="0.28" textLength="20.98" lengthAdjust="spacingAndGlyphs" >400</text>
<text x="662.61" y="356.25" font-size="13.1" fill="#262626" stroke="#262626" stroke-width="0.28" textLength="20.98" lengthAdjust="spacingAndGlyphs" >600</text>
<text x="610.1" y="373.4" font-size="15.4" fill="#262626" text-anchor="middle" stroke="#262626" stroke-width="0.25" textLength="54.6" lengthAdjust="spacingAndGlyphs">Time [s]</text>
<text x="569.6" y="233.5" font-size="14.6" fill="#d50f18" stroke="#d50f18" stroke-width="0.3" textLength="27.91" lengthAdjust="spacingAndGlyphs">80%</text>
<text transform="translate(35.4 322.6) rotate(-90)" font-size="15.6" fill="#262626" stroke="#262626" stroke-width="0.25" textLength="91.2" lengthAdjust="spacingAndGlyphs">Speed [μm/s]</text>
<path d="M53.94 520 57.5 513.93 60.85 518.46 64.2 517.08 67.36 520 73.67 519.05 77.61 520 85.11 518.46 89.05 520 95.76 517.48 99.31 520 109.17 519.45 117.06 518.66 124.95 519.45 136.79 519.05 144.67 520 148.62 519.05 154.54 520 159.47 518.46 166.37 520 172.29 519.45 179.19 519.45" fill="none" stroke="#3a6fc4" stroke-width="1.5" stroke-linejoin="round" />
<rect x="54.1" y="394.9" width="125" height="125.6" fill="none" stroke="#3a3a3a" stroke-width="1.3"/>
<path d="M54.1 489.1h2.5M179.1 489.1h-2.5M54.1 457.7h2.5M179.1 457.7h-2.5M54.1 426.3h2.5M179.1 426.3h-2.5M95.77 520.5v-2.5M95.77 394.9v2.5M137.43 520.5v-2.5M137.43 394.9v2.5" stroke="#3a3a3a" stroke-width="1.2" fill="none"/>
<text x="42.37" y="525.7" font-size="13.3" fill="#262626" stroke="#262626" stroke-width="0.28" textLength="7.03" lengthAdjust="spacingAndGlyphs" >0</text>
<text x="32.76" y="494.3" font-size="13.3" fill="#262626" stroke="#262626" stroke-width="0.28" textLength="16.64" lengthAdjust="spacingAndGlyphs" >0.2</text>
<text x="32.76" y="462.9" font-size="13.3" fill="#262626" stroke="#262626" stroke-width="0.28" textLength="16.64" lengthAdjust="spacingAndGlyphs" >0.4</text>
<text x="32.76" y="431.5" font-size="13.3" fill="#262626" stroke="#262626" stroke-width="0.28" textLength="16.64" lengthAdjust="spacingAndGlyphs" >0.6</text>
<text x="32.76" y="400.1" font-size="13.3" fill="#262626" stroke="#262626" stroke-width="0.28" textLength="16.64" lengthAdjust="spacingAndGlyphs" >0.8</text>
<text x="50.59" y="536.5" font-size="13.3" fill="#262626" stroke="#262626" stroke-width="0.28" textLength="7.03" lengthAdjust="spacingAndGlyphs" >0</text>
<text x="84.12" y="536.5" font-size="13.3" fill="#262626" stroke="#262626" stroke-width="0.28" textLength="23.3" lengthAdjust="spacingAndGlyphs" >0.02</text>
<text x="125.78" y="536.5" font-size="13.3" fill="#262626" stroke="#262626" stroke-width="0.28" textLength="23.3" lengthAdjust="spacingAndGlyphs" >0.04</text>
<text x="167.45" y="536.5" font-size="13.3" fill="#262626" stroke="#262626" stroke-width="0.28" textLength="23.3" lengthAdjust="spacingAndGlyphs" >0.06</text>
<text x="116.6" y="552" font-size="13.9" fill="#262626" text-anchor="middle" stroke="#262626" stroke-width="0.25" textLength="25.7" lengthAdjust="spacingAndGlyphs">f [/s]</text>
<text x="63.8" y="414.9" font-size="14.6" fill="#000000" stroke="#000000" stroke-width="0.3" textLength="20.15" lengthAdjust="spacingAndGlyphs">0%</text>
<path d="M218.35 520 221.51 515.5 227.82 520 236.7 519.45 242.61 518.07 246.56 520 260.36 520 280.09 518.86 286.01 520 301.79 520 328.41 519.84 343.21 520" fill="none" stroke="#3a6fc4" stroke-width="1.5" stroke-linejoin="round" />
<rect x="218.6" y="394.9" width="125" height="125.6" fill="none" stroke="#3a3a3a" stroke-width="1.3"/>
<path d="M218.6 489.1h2.5M343.6 489.1h-2.5M218.6 457.7h2.5M343.6 457.7h-2.5M218.6 426.3h2.5M343.6 426.3h-2.5M260.27 520.5v-2.5M260.27 394.9v2.5M301.93 520.5v-2.5M301.93 394.9v2.5" stroke="#3a3a3a" stroke-width="1.2" fill="none"/>
<text x="206.87" y="525.7" font-size="13.3" fill="#262626" stroke="#262626" stroke-width="0.28" textLength="7.03" lengthAdjust="spacingAndGlyphs" >0</text>
<text x="197.26" y="494.3" font-size="13.3" fill="#262626" stroke="#262626" stroke-width="0.28" textLength="16.64" lengthAdjust="spacingAndGlyphs" >0.2</text>
<text x="197.26" y="462.9" font-size="13.3" fill="#262626" stroke="#262626" stroke-width="0.28" textLength="16.64" lengthAdjust="spacingAndGlyphs" >0.4</text>
<text x="197.26" y="431.5" font-size="13.3" fill="#262626" stroke="#262626" stroke-width="0.28" textLength="16.64" lengthAdjust="spacingAndGlyphs" >0.6</text>
<text x="197.26" y="400.1" font-size="13.3" fill="#262626" stroke="#262626" stroke-width="0.28" textLength="16.64" lengthAdjust="spacingAndGlyphs" >0.8</text>
<text x="215.09" y="536.5" font-size="13.3" fill="#262626" stroke="#262626" stroke-width="0.28" textLength="7.03" lengthAdjust="spacingAndGlyphs" >0</text>
<text x="248.62" y="536.5" font-size="13.3" fill="#262626" stroke="#262626" stroke-width="0.28" textLength="23.3" lengthAdjust="spacingAndGlyphs" >0.02</text>
<text x="290.28" y="536.5" font-size="13.3" fill="#262626" stroke="#262626" stroke-width="0.28" textLength="23.3" lengthAdjust="spacingAndGlyphs" >0.04</text>
<text x="331.95" y="536.5" font-size="13.3" fill="#262626" stroke="#262626" stroke-width="0.28" textLength="23.3" lengthAdjust="spacingAndGlyphs" >0.06</text>
<text x="281.1" y="552" font-size="13.9" fill="#262626" text-anchor="middle" stroke="#262626" stroke-width="0.25" textLength="25.7" lengthAdjust="spacingAndGlyphs">f [/s]</text>
<text x="230.2" y="414.9" font-size="14.6" fill="#55ab4a" stroke="#55ab4a" stroke-width="0.3" textLength="27.91" lengthAdjust="spacingAndGlyphs">40%</text>
<path d="M382.28 519.98 385.69 502.9 389.49 509.54 392.9 513.34 396.51 496.83 399.92 507.65 404.67 511.44 410.36 516.19 415.1 516.19 420.23 514.29 424.02 519.03 431.23 517.51 435.03 519.03 437.87 517.13 441.67 519.41 446.41 516.76 452.11 519.41 455.9 516.76 459.7 518.65 469.18 518.08 474.88 519.98 480.57 517.7 488.16 519.03 493.85 519.98 501.44 519.41 505.24 518.08 507.13 519.03" fill="none" stroke="#3a6fc4" stroke-width="1.5" stroke-linejoin="round" />
<rect x="382.7" y="394.9" width="125" height="125.6" fill="none" stroke="#3a3a3a" stroke-width="1.3"/>
<path d="M382.7 489.1h2.5M507.7 489.1h-2.5M382.7 457.7h2.5M507.7 457.7h-2.5M382.7 426.3h2.5M507.7 426.3h-2.5M424.37 520.5v-2.5M424.37 394.9v2.5M466.03 520.5v-2.5M466.03 394.9v2.5" stroke="#3a3a3a" stroke-width="1.2" fill="none"/>
<text x="370.97" y="525.7" font-size="13.3" fill="#262626" stroke="#262626" stroke-width="0.28" textLength="7.03" lengthAdjust="spacingAndGlyphs" >0</text>
<text x="361.36" y="494.3" font-size="13.3" fill="#262626" stroke="#262626" stroke-width="0.28" textLength="16.64" lengthAdjust="spacingAndGlyphs" >0.2</text>
<text x="361.36" y="462.9" font-size="13.3" fill="#262626" stroke="#262626" stroke-width="0.28" textLength="16.64" lengthAdjust="spacingAndGlyphs" >0.4</text>
<text x="361.36" y="431.5" font-size="13.3" fill="#262626" stroke="#262626" stroke-width="0.28" textLength="16.64" lengthAdjust="spacingAndGlyphs" >0.6</text>
<text x="361.36" y="400.1" font-size="13.3" fill="#262626" stroke="#262626" stroke-width="0.28" textLength="16.64" lengthAdjust="spacingAndGlyphs" >0.8</text>
<text x="379.19" y="536.5" font-size="13.3" fill="#262626" stroke="#262626" stroke-width="0.28" textLength="7.03" lengthAdjust="spacingAndGlyphs" >0</text>
<text x="412.72" y="536.5" font-size="13.3" fill="#262626" stroke="#262626" stroke-width="0.28" textLength="23.3" lengthAdjust="spacingAndGlyphs" >0.02</text>
<text x="454.38" y="536.5" font-size="13.3" fill="#262626" stroke="#262626" stroke-width="0.28" textLength="23.3" lengthAdjust="spacingAndGlyphs" >0.04</text>
<text x="496.05" y="536.5" font-size="13.3" fill="#262626" stroke="#262626" stroke-width="0.28" textLength="23.3" lengthAdjust="spacingAndGlyphs" >0.06</text>
<text x="445.2" y="552" font-size="13.9" fill="#262626" text-anchor="middle" stroke="#262626" stroke-width="0.25" textLength="25.7" lengthAdjust="spacingAndGlyphs">f [/s]</text>
<text x="397.8" y="414.9" font-size="14.6" fill="#d7772f" stroke="#d7772f" stroke-width="0.3" textLength="27.91" lengthAdjust="spacingAndGlyphs">60%</text>
<path d="M546.52 519.98 550.31 400.44 553.54 457.36 557.33 475.39 560.75 515.24 564.35 509.54 567.77 518.65 571.57 516.19 574.41 517.51 578.21 509.54 582 514.86 585.8 516.19 590.54 516.76 592.06 518.08 595.28 512.39 599.08 514.29 602.5 508.03 606.1 514.29 609.52 512.39 616.73 519.41 620.9 516.57 623.75 516.76 626.97 510.68 630.39 510.11 634.18 512.01 637.98 511.82 643.67 514.29 648.42 516.19 651.26 510.49 655.06 514.86 658.85 510.49 662.65 513.34 668.34 514.29 672.13 515.62" fill="none" stroke="#3a6fc4" stroke-width="1.5" stroke-linejoin="round" />
<rect x="547" y="394.9" width="125" height="125.6" fill="none" stroke="#3a3a3a" stroke-width="1.3"/>
<path d="M547 489.1h2.5M672 489.1h-2.5M547 457.7h2.5M672 457.7h-2.5M547 426.3h2.5M672 426.3h-2.5M588.67 520.5v-2.5M588.67 394.9v2.5M630.33 520.5v-2.5M630.33 394.9v2.5" stroke="#3a3a3a" stroke-width="1.2" fill="none"/>
<text x="535.27" y="525.7" font-size="13.3" fill="#262626" stroke="#262626" stroke-width="0.28" textLength="7.03" lengthAdjust="spacingAndGlyphs" >0</text>
<text x="525.66" y="494.3" font-size="13.3" fill="#262626" stroke="#262626" stroke-width="0.28" textLength="16.64" lengthAdjust="spacingAndGlyphs" >0.2</text>
<text x="525.66" y="462.9" font-size="13.3" fill="#262626" stroke="#262626" stroke-width="0.28" textLength="16.64" lengthAdjust="spacingAndGlyphs" >0.4</text>
<text x="525.66" y="431.5" font-size="13.3" fill="#262626" stroke="#262626" stroke-width="0.28" textLength="16.64" lengthAdjust="spacingAndGlyphs" >0.6</text>
<text x="525.66" y="400.1" font-size="13.3" fill="#262626" stroke="#262626" stroke-width="0.28" textLength="16.64" lengthAdjust="spacingAndGlyphs" >0.8</text>
<text x="543.49" y="536.5" font-size="13.3" fill="#262626" stroke="#262626" stroke-width="0.28" textLength="7.03" lengthAdjust="spacingAndGlyphs" >0</text>
<text x="577.02" y="536.5" font-size="13.3" fill="#262626" stroke="#262626" stroke-width="0.28" textLength="23.3" lengthAdjust="spacingAndGlyphs" >0.02</text>
<text x="618.68" y="536.5" font-size="13.3" fill="#262626" stroke="#262626" stroke-width="0.28" textLength="23.3" lengthAdjust="spacingAndGlyphs" >0.04</text>
<text x="660.35" y="536.5" font-size="13.3" fill="#262626" stroke="#262626" stroke-width="0.28" textLength="23.3" lengthAdjust="spacingAndGlyphs" >0.06</text>
<text x="609.5" y="552" font-size="13.9" fill="#262626" text-anchor="middle" stroke="#262626" stroke-width="0.25" textLength="25.7" lengthAdjust="spacingAndGlyphs">f [/s]</text>
<text x="560" y="414.9" font-size="14.6" fill="#d50f18" stroke="#d50f18" stroke-width="0.3" textLength="27.91" lengthAdjust="spacingAndGlyphs">80%</text>
<g transform="translate(26.6 500) rotate(-90)" fill="#262626"><path d="M1.25 -13V4.1M36.8 -13V4.1" stroke="#262626" stroke-width="1.3"/><path d="M5 -5.8C5.6 -7.6 7.6 -8.4 7.5 -6L6.9 -2.2C6.8 -0.2 8.6 -0.2 10 -1.4C12 -3.1 13.4 -5.5 13 -8.1" stroke="#262626" stroke-width="1.6" fill="none" stroke-linecap="round"/><path d="M6.6 -9.1L9.1 -12.1L11.6 -9.1" stroke="#262626" stroke-width="1.1" fill="none"/><text x="15.1" y="3.1" font-size="12.5" stroke="#262626" stroke-width="0.2" textLength="17.7" lengthAdjust="spacingAndGlyphs">ave</text><text x="43.4" y="0" font-size="15" stroke="#262626" stroke-width="0.25" textLength="42.1" lengthAdjust="spacingAndGlyphs">[μm/s]</text></g>
<rect x="225" y="584.6" width="268" height="133.9" fill="none" stroke="#333" stroke-width="1.6"/>
<path d="M225 705.4h6M493 705.4h-6M225 692.3h6M493 692.3h-6M225 679.2h6M493 679.2h-6M225 666.1h6M493 666.1h-6M225 653h6M493 653h-6M225 639.9h6M493 639.9h-6M244.4 718.5v-5.5M244.4 584.6v5.5M282.67 718.5v-5.5M282.67 584.6v5.5M320.94 718.5v-5.5M320.94 584.6v5.5M359.21 718.5v-5.5M359.21 584.6v5.5M397.48 718.5v-5.5M397.48 584.6v5.5M435.75 718.5v-5.5M435.75 584.6v5.5M474.02 718.5v-5.5M474.02 584.6v5.5" stroke="#333" stroke-width="1.4" fill="none"/>
<text x="211.6" y="723.6" font-size="14.2" fill="#2a2a2a" stroke="#2a2a2a" stroke-width="0.28" textLength="8.2" lengthAdjust="spacingAndGlyphs" >0</text>
<text x="199.6" y="710.5" font-size="14.2" fill="#2a2a2a" stroke="#2a2a2a" stroke-width="0.28" textLength="20.2" lengthAdjust="spacingAndGlyphs" >0.5</text>
<path d="M215.31 697.4 216.61 697.4 216.61 687.63 215.42 687.63 213.02 689.22 213.02 690.4 215.31 688.82z" fill="#2a2a2a" stroke="#2a2a2a" stroke-width="0.28" stroke-linejoin="round"/>
<path d="M203.25 684.3 204.54 684.3 204.54 674.53 203.36 674.53 201 676.12 201 677.3 203.25 675.72z" fill="#2a2a2a" stroke="#2a2a2a" stroke-width="0.28" stroke-linejoin="round"/><text x="207.68" y="684.3" font-size="14.2" fill="#2a2a2a" stroke="#2a2a2a" stroke-width="0.28" textLength="12.12" lengthAdjust="spacingAndGlyphs" >.5</text>
<text x="211.6" y="671.2" font-size="14.2" fill="#2a2a2a" stroke="#2a2a2a" stroke-width="0.28" textLength="8.2" lengthAdjust="spacingAndGlyphs" >2</text>
<text x="199.6" y="658.1" font-size="14.2" fill="#2a2a2a" stroke="#2a2a2a" stroke-width="0.28" textLength="20.2" lengthAdjust="spacingAndGlyphs" >2.5</text>
<text x="211.6" y="645" font-size="14.2" fill="#2a2a2a" stroke="#2a2a2a" stroke-width="0.28" textLength="8.2" lengthAdjust="spacingAndGlyphs" >3</text>
<text x="244.4" y="738.5" font-size="14.2" fill="#2a2a2a" stroke="#2a2a2a" stroke-width="0.25" text-anchor="middle" textLength="18.2" lengthAdjust="spacingAndGlyphs">0%</text>
<text x="282.67" y="738.5" font-size="14.2" fill="#2a2a2a" stroke="#2a2a2a" stroke-width="0.25" text-anchor="middle" textLength="26.3" lengthAdjust="spacingAndGlyphs">20%</text>
<text x="320.94" y="738.5" font-size="14.2" fill="#2a2a2a" stroke="#2a2a2a" stroke-width="0.25" text-anchor="middle" textLength="26.3" lengthAdjust="spacingAndGlyphs">30%</text>
<text x="359.21" y="738.5" font-size="14.2" fill="#2a2a2a" stroke="#2a2a2a" stroke-width="0.25" text-anchor="middle" textLength="26.3" lengthAdjust="spacingAndGlyphs">40%</text>
<text x="397.48" y="738.5" font-size="14.2" fill="#2a2a2a" stroke="#2a2a2a" stroke-width="0.25" text-anchor="middle" textLength="26.3" lengthAdjust="spacingAndGlyphs">50%</text>
<text x="435.75" y="738.5" font-size="14.2" fill="#2a2a2a" stroke="#2a2a2a" stroke-width="0.25" text-anchor="middle" textLength="26.3" lengthAdjust="spacingAndGlyphs">60%</text>
<text x="474.02" y="738.5" font-size="14.2" fill="#2a2a2a" stroke="#2a2a2a" stroke-width="0.25" text-anchor="middle" textLength="26.3" lengthAdjust="spacingAndGlyphs">80%</text>
<text x="300" y="757.1" font-size="16" fill="#2a2a2a" stroke="#2a2a2a" stroke-width="0.25" textLength="113.2" lengthAdjust="spacingAndGlyphs">Extract fraction</text>
<g transform="translate(186 686) rotate(-90)" fill="#2a2a2a" stroke-width="0.25"><path d="M1.31 -5.95C1.97 -8.02 4.19 -8.94 4.08 -6.18L3.41 -1.8C3.31 0.52 5.29 0.52 6.84 -0.87C9.05 -2.83 10.6 -5.6 10.16 -8.6" stroke="#2a2a2a" stroke-width="1.85" fill="none" stroke-linecap="round"/><text x="11.6" y="2.9" font-size="15.2" font-family="Liberation Serif" font-style="italic">D</text><text x="29.3" y="0" font-size="16" stroke="#2a2a2a" textLength="44.3" lengthAdjust="spacingAndGlyphs">[μm/s]</text></g>
<text x="340.07" y="607.56" font-size="10" fill="#222" text-anchor="middle" textLength="15.6" lengthAdjust="spacingAndGlyphs">n.s.</text>
<path d="M244.4 647.4V644.2H282.67V647.4M244.4 638.64V635.44H320.94V638.64M244.4 629.88V626.68H359.21V629.88M244.4 621.12V617.92H397.48V621.12M244.4 612.36V609.16H435.75V612.36M244.4 603.6V600.4H474.02V603.6" stroke="#222" stroke-width="1.3" fill="none"/>
<path d="M260.56 637.1v5.6M258.14 638.5l4.85 2.8M258.14 641.3l4.85 -2.8M266.51 637.1v5.6M264.09 638.5l4.85 2.8M264.09 641.3l4.85 -2.8M276.72 628.34v5.6M274.3 629.74l4.85 2.8M274.3 632.54l4.85 -2.8M282.67 628.34v5.6M280.25 629.74l4.85 2.8M280.25 632.54l4.85 -2.8M288.62 628.34v5.6M286.2 629.74l4.85 2.8M286.2 632.54l4.85 -2.8M295.86 619.58v5.6M293.43 620.98l4.85 2.8M293.43 623.78l4.85 -2.8M301.81 619.58v5.6M299.38 620.98l4.85 2.8M299.38 623.78l4.85 -2.8M307.75 619.58v5.6M305.33 620.98l4.85 2.8M305.33 623.78l4.85 -2.8M314.99 610.82v5.6M312.57 612.22l4.85 2.8M312.57 615.02l4.85 -2.8M320.94 610.82v5.6M318.52 612.22l4.85 2.8M318.52 615.02l4.85 -2.8M326.89 610.82v5.6M324.47 612.22l4.85 2.8M324.47 615.02l4.85 -2.8M353.26 593.3v5.6M350.84 594.7l4.85 2.8M350.84 597.5l4.85 -2.8M359.21 593.3v5.6M356.79 594.7l4.85 2.8M356.79 597.5l4.85 -2.8M365.16 593.3v5.6M362.74 594.7l4.85 2.8M362.74 597.5l4.85 -2.8" stroke="#111" stroke-width="1.05" fill="none"/>
<path d="M246 653.1h0M240.2 665.5h0M245.4 669.2h0M234.9 671.5h0M244.3 706.2h0M235 682.5h0M237 682.5h0M239.5 686h0M241.5 678.5h0M244 682h0M249 684h0M252.5 686h0M254 689h0M253 692.5h0M251 695.5h0M248 694h0M243 692.5h0M237 694h0M234.5 695.5h0M234.3 691h0M234.5 686h0M234.4 692.46h0M250 686.45h0M240.27 683.23h0M239.32 686.07h0M244.24 687.91h0M235 687.25h0M246.7 687.24h0M244.09 682.71h0M244.34 692.9h0M246.9 691.11h0M236.1 687.7h0M241.42 688.67h0M235.47 685.09h0M250.38 684.95h0M253.58 688.53h0M246.22 689.35h0M242.97 682.57h0M242.23 680.14h0M247.53 683.61h0M251.52 689.76h0M236.89 692.87h0M251.72 689.41h0M245.52 684.9h0M242.4 682.57h0M235.05 693.4h0M243.51 687.81h0M240.65 691.27h0M234.8 684.83h0M253.35 689.68h0M242.74 687.4h0M245.93 690.12h0M241.3 687.32h0M249.38 693.96h0M234.4 691.3h0M242.55 692.36h0M234.58 689.18h0M249.92 687.22h0M238.21 684.67h0M237.83 684.38h0M252.98 688.25h0M275.8 674.2h0M278 674.6h0M284.6 676.2h0M283.4 683.8h0M287.8 690.8h0M286.8 693.8h0M281.4 689.3h0M280.9 697.8h0M274.9 695.8h0M272.5 689.3h0M275.9 685.9h0M287.3 700.8h0M278.9 688.8h0M285.4 695.8h0M293.9 692.3h0M273.5 692.5h0M276 693h0M283.5 692.5h0M322.4 673.6h0M316.4 691.7h0M321.6 707.5h0M311.8 701h0M314 703.5h0M319.2 700.5h0M325.3 699.7h0M329 702.5h0M330 704h0M316 704.5h0M322 704.5h0M327 704.5h0M324 702.5h0M318 703.8h0M312.5 703.8h0M363.1 699.6h0M348.8 704h0M351 703.6h0M353.5 703h0M356 705h0M358 707h0M360.5 707h0M363.5 705.5h0M366.5 707h0M369 708.5h0M369.3 712h0M368 715h0M364 715.3h0M360 715h0M357 713.5h0M354 715.3h0M351 715h0M349 712h0M348.6 708h0M355.64 706.34h0M368.31 708.47h0M368.89 709.34h0M359.39 714.03h0M363.98 710.14h0M350.02 708.29h0M353.8 712.91h0M362.6 711.82h0M361.63 714.95h0M355.49 707.9h0M352.8 703.62h0M353.01 714.26h0M361.1 708.89h0M360.91 711.11h0M358.24 710.73h0M349.88 708.06h0M364.42 713.03h0M367.51 712.87h0M366.77 709.44h0M353.83 706.06h0M352.48 709.97h0M349.41 710.26h0M352.04 711.34h0M349.04 706.82h0M368.02 709.62h0M365.4 711.09h0M365.19 714.81h0M355.61 706.91h0M350.93 710.71h0M365.11 706.86h0M389 712.4h0M394.3 708.3h0M396.3 707.2h0M396 713.6h0M399.5 710.7h0M401.3 713.6h0M405.4 712.4h0M406 710.1h0M391.5 710.5h0M403 711.8h0M427 682h0M430.8 682h0M443.3 682h0M433.4 687.9h0M436.9 686.7h0M440.4 688.5h0M443.9 688.5h0M435.2 690.8h0M431.1 694.3h0M424.6 697h0M428.2 699h0M443.9 697.5h0M429.5 696.5h0M463.6 656.6h0M465.4 655.8h0M473.3 654.7h0M479.8 657.1h0M483.3 655.1h0M482.9 661.5h0M472.8 660.6h0M470.2 665.8h0M474.2 665.4h0M468.9 670.6h0M472.8 671.1h0M477.2 670.2h0M474.6 675.5h0M475 679h0M471.1 680.7h0M473.5 657.5h0M481.5 656.5h0" stroke="#0000ff" stroke-width="5" stroke-linecap="round" fill="none"/>
</g>
</svg></body></html>
